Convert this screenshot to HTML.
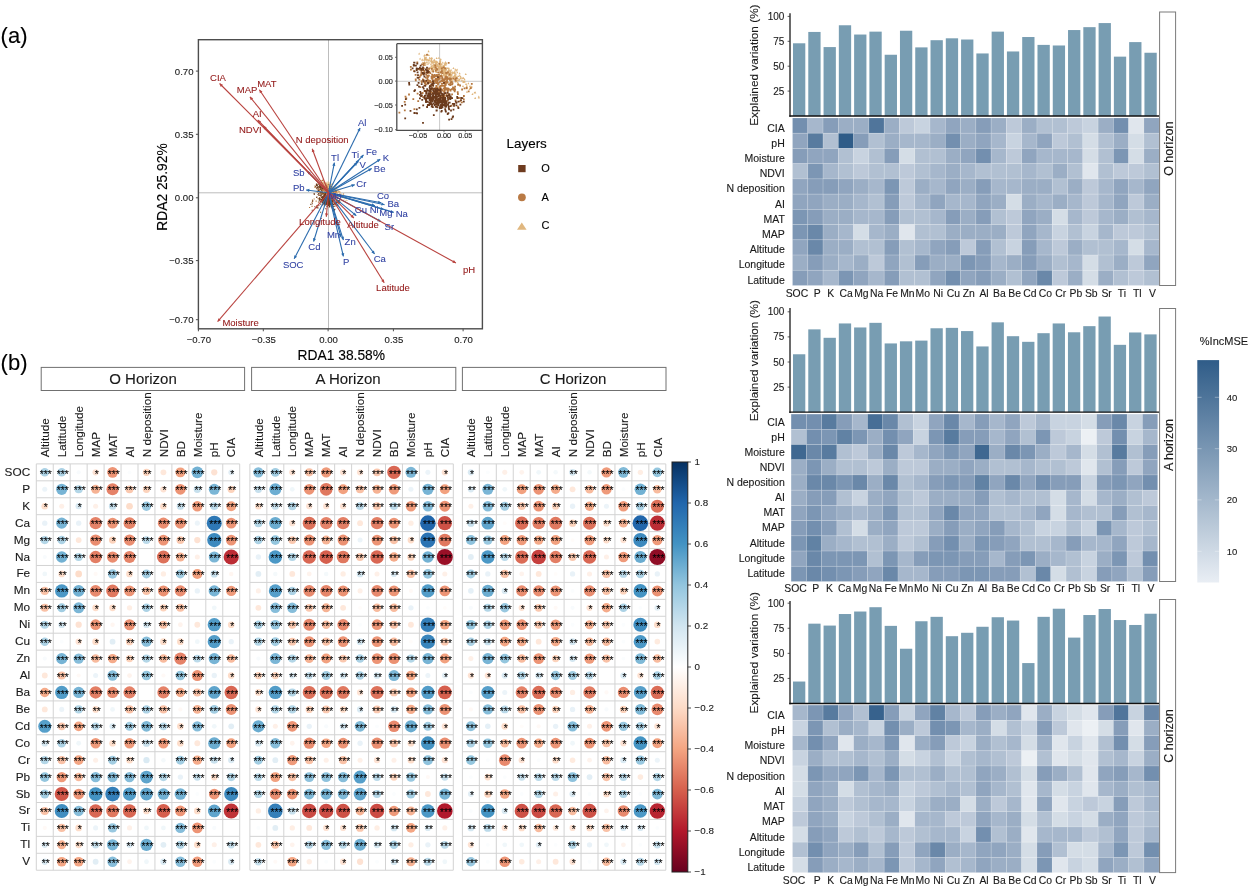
<!DOCTYPE html>
<html><head><meta charset="utf-8"><style>
html,body{margin:0;padding:0;background:#fff;}
body{width:1249px;height:888px;overflow:hidden;font-family:"Liberation Sans", sans-serif;}
svg{display:block;will-change:transform;}
</style></head><body>
<svg width="1249" height="888" viewBox="0 0 1249 888" font-family='"Liberation Sans", sans-serif'>
<rect width="1249" height="888" fill="#fff"/>
<text x="0.6" y="43.4" font-size="22" fill="#000" text-anchor="start" stroke="#000" stroke-width="0.12">(a)</text>
<rect x="198.4" y="39.7" width="284" height="289.1" fill="#fff" stroke="none"/>
<line x1="328.5" y1="39.7" x2="328.5" y2="328.8" stroke="#bdbdbd" stroke-width="1"/>
<line x1="198.4" y1="192.8" x2="482.4" y2="192.8" stroke="#bdbdbd" stroke-width="1"/>
<path fill="#dfb57c" d="M329.9 188.6h1.3l-0.7 -1.3zM331.1 185.0h1.3l-0.7 -1.3zM330.3 189.1h1.3l-0.7 -1.3zM328.0 184.9h1.3l-0.7 -1.3zM340.1 190.0h1.3l-0.7 -1.3zM334.3 191.2h1.3l-0.7 -1.3zM328.4 186.0h1.3l-0.7 -1.3zM331.9 191.3h1.3l-0.7 -1.3zM333.9 191.9h1.3l-0.7 -1.3zM325.3 186.0h1.3l-0.7 -1.3zM321.0 181.1h1.3l-0.7 -1.3zM327.8 184.1h1.3l-0.7 -1.3zM338.4 191.8h1.3l-0.7 -1.3zM337.2 192.6h1.3l-0.7 -1.3zM321.9 180.7h1.3l-0.7 -1.3zM336.5 191.0h1.3l-0.7 -1.3zM320.8 184.3h1.3l-0.7 -1.3zM337.3 189.7h1.3l-0.7 -1.3zM329.8 189.7h1.3l-0.7 -1.3zM327.2 186.3h1.3l-0.7 -1.3zM328.6 187.5h1.3l-0.7 -1.3zM332.7 190.6h1.3l-0.7 -1.3zM330.4 189.8h1.3l-0.7 -1.3zM322.6 179.3h1.3l-0.7 -1.3zM331.5 189.0h1.3l-0.7 -1.3zM328.0 183.8h1.3l-0.7 -1.3zM323.8 185.4h1.3l-0.7 -1.3zM340.5 196.1h1.3l-0.7 -1.3zM333.1 189.0h1.3l-0.7 -1.3zM326.2 184.4h1.3l-0.7 -1.3zM336.1 187.9h1.3l-0.7 -1.3zM331.9 189.0h1.3l-0.7 -1.3zM329.8 189.7h1.3l-0.7 -1.3zM326.5 185.0h1.3l-0.7 -1.3zM328.8 190.5h1.3l-0.7 -1.3zM331.6 191.3h1.3l-0.7 -1.3zM335.8 191.6h1.3l-0.7 -1.3zM319.8 184.6h1.3l-0.7 -1.3zM330.3 189.6h1.3l-0.7 -1.3zM328.9 187.6h1.3l-0.7 -1.3zM330.2 188.9h1.3l-0.7 -1.3zM330.1 191.1h1.3l-0.7 -1.3zM332.4 188.2h1.3l-0.7 -1.3zM326.5 189.1h1.3l-0.7 -1.3zM330.2 187.8h1.3l-0.7 -1.3zM320.6 183.3h1.3l-0.7 -1.3zM334.4 187.2h1.3l-0.7 -1.3zM324.6 184.7h1.3l-0.7 -1.3zM324.3 188.5h1.3l-0.7 -1.3zM335.5 191.2h1.3l-0.7 -1.3zM330.1 185.7h1.3l-0.7 -1.3zM321.6 183.2h1.3l-0.7 -1.3zM325.9 185.1h1.3l-0.7 -1.3zM329.1 188.2h1.3l-0.7 -1.3zM331.2 189.3h1.3l-0.7 -1.3zM336.3 191.9h1.3l-0.7 -1.3zM327.7 190.9h1.3l-0.7 -1.3zM331.9 188.4h1.3l-0.7 -1.3zM325.5 187.4h1.3l-0.7 -1.3zM327.5 182.4h1.3l-0.7 -1.3zM322.8 181.1h1.3l-0.7 -1.3zM329.7 188.8h1.3l-0.7 -1.3zM324.3 182.5h1.3l-0.7 -1.3zM329.2 187.4h1.3l-0.7 -1.3zM326.0 187.7h1.3l-0.7 -1.3zM333.3 192.0h1.3l-0.7 -1.3zM326.1 188.9h1.3l-0.7 -1.3zM332.1 189.6h1.3l-0.7 -1.3zM324.9 187.6h1.3l-0.7 -1.3zM327.7 186.5h1.3l-0.7 -1.3zM343.3 199.4h1.3l-0.7 -1.3zM329.7 186.9h1.3l-0.7 -1.3zM327.9 186.1h1.3l-0.7 -1.3zM328.7 188.3h1.3l-0.7 -1.3zM327.6 190.3h1.3l-0.7 -1.3zM326.5 184.9h1.3l-0.7 -1.3zM324.7 186.6h1.3l-0.7 -1.3zM331.7 189.9h1.3l-0.7 -1.3zM330.9 187.5h1.3l-0.7 -1.3zM337.6 192.0h1.3l-0.7 -1.3zM330.6 187.9h1.3l-0.7 -1.3zM336.7 194.4h1.3l-0.7 -1.3zM320.8 182.6h1.3l-0.7 -1.3zM340.6 196.7h1.3l-0.7 -1.3zM342.9 196.0h1.3l-0.7 -1.3zM333.0 191.6h1.3l-0.7 -1.3zM324.1 188.0h1.3l-0.7 -1.3zM322.8 183.5h1.3l-0.7 -1.3zM319.7 183.3h1.3l-0.7 -1.3zM330.3 195.1h1.3l-0.7 -1.3zM327.6 187.5h1.3l-0.7 -1.3zM325.7 185.9h1.3l-0.7 -1.3zM335.0 189.1h1.3l-0.7 -1.3zM321.5 182.2h1.3l-0.7 -1.3zM324.1 184.6h1.3l-0.7 -1.3zM328.7 190.6h1.3l-0.7 -1.3zM337.0 192.8h1.3l-0.7 -1.3zM333.1 190.3h1.3l-0.7 -1.3zM334.7 192.7h1.3l-0.7 -1.3zM324.3 184.1h1.3l-0.7 -1.3zM330.6 188.1h1.3l-0.7 -1.3zM344.2 198.8h1.3l-0.7 -1.3zM323.8 186.8h1.3l-0.7 -1.3zM332.9 188.6h1.3l-0.7 -1.3zM338.3 192.9h1.3l-0.7 -1.3zM323.8 182.6h1.3l-0.7 -1.3zM322.9 183.2h1.3l-0.7 -1.3zM334.7 189.6h1.3l-0.7 -1.3zM328.8 185.4h1.3l-0.7 -1.3zM330.9 187.9h1.3l-0.7 -1.3zM339.0 193.7h1.3l-0.7 -1.3zM331.0 188.0h1.3l-0.7 -1.3zM323.1 187.9h1.3l-0.7 -1.3zM325.9 184.4h1.3l-0.7 -1.3zM330.4 189.9h1.3l-0.7 -1.3zM329.4 188.3h1.3l-0.7 -1.3zM325.3 185.9h1.3l-0.7 -1.3zM330.4 184.7h1.3l-0.7 -1.3zM329.7 190.4h1.3l-0.7 -1.3zM330.6 185.6h1.3l-0.7 -1.3zM330.1 189.5h1.3l-0.7 -1.3zM333.1 191.2h1.3l-0.7 -1.3zM332.1 189.3h1.3l-0.7 -1.3zM330.6 184.5h1.3l-0.7 -1.3zM318.3 187.5h1.3l-0.7 -1.3zM344.6 198.7h1.3l-0.7 -1.3zM336.7 192.9h1.3l-0.7 -1.3zM336.2 192.8h1.3l-0.7 -1.3zM335.5 191.3h1.3l-0.7 -1.3zM325.1 184.1h1.3l-0.7 -1.3zM327.1 190.6h1.3l-0.7 -1.3zM329.5 187.4h1.3l-0.7 -1.3zM328.5 185.4h1.3l-0.7 -1.3zM325.9 188.5h1.3l-0.7 -1.3zM329.9 186.0h1.3l-0.7 -1.3zM332.3 188.8h1.3l-0.7 -1.3zM335.4 193.1h1.3l-0.7 -1.3zM346.3 201.1h1.3l-0.7 -1.3zM333.5 190.8h1.3l-0.7 -1.3zM335.3 193.6h1.3l-0.7 -1.3zM325.1 186.7h1.3l-0.7 -1.3zM321.1 184.8h1.3l-0.7 -1.3zM324.2 186.8h1.3l-0.7 -1.3zM331.0 190.6h1.3l-0.7 -1.3zM330.4 190.5h1.3l-0.7 -1.3zM328.4 183.1h1.3l-0.7 -1.3zM330.5 189.0h1.3l-0.7 -1.3zM324.2 184.4h1.3l-0.7 -1.3zM322.3 183.3h1.3l-0.7 -1.3zM330.8 187.1h1.3l-0.7 -1.3zM328.2 183.8h1.3l-0.7 -1.3zM330.7 188.5h1.3l-0.7 -1.3zM327.3 191.9h1.3l-0.7 -1.3zM332.6 190.4h1.3l-0.7 -1.3zM326.3 185.3h1.3l-0.7 -1.3zM335.0 189.5h1.3l-0.7 -1.3zM326.6 185.8h1.3l-0.7 -1.3zM330.5 191.2h1.3l-0.7 -1.3zM330.0 186.6h1.3l-0.7 -1.3zM330.2 189.8h1.3l-0.7 -1.3zM336.9 192.7h1.3l-0.7 -1.3zM325.2 183.5h1.3l-0.7 -1.3zM335.3 191.5h1.3l-0.7 -1.3zM335.3 191.9h1.3l-0.7 -1.3zM332.8 191.8h1.3l-0.7 -1.3zM342.1 195.7h1.3l-0.7 -1.3zM333.4 190.3h1.3l-0.7 -1.3zM329.3 184.7h1.3l-0.7 -1.3zM326.9 186.4h1.3l-0.7 -1.3zM340.6 195.5h1.3l-0.7 -1.3zM328.4 185.9h1.3l-0.7 -1.3zM346.2 200.6h1.3l-0.7 -1.3zM328.9 192.1h1.3l-0.7 -1.3zM331.0 189.9h1.3l-0.7 -1.3zM330.9 187.4h1.3l-0.7 -1.3zM333.6 189.8h1.3l-0.7 -1.3zM325.2 184.5h1.3l-0.7 -1.3zM340.7 198.3h1.3l-0.7 -1.3zM330.0 189.1h1.3l-0.7 -1.3zM332.8 189.6h1.3l-0.7 -1.3zM331.0 191.4h1.3l-0.7 -1.3zM323.0 187.7h1.3l-0.7 -1.3zM332.2 187.3h1.3l-0.7 -1.3zM328.4 185.3h1.3l-0.7 -1.3zM332.2 189.9h1.3l-0.7 -1.3zM328.3 187.5h1.3l-0.7 -1.3zM324.9 186.7h1.3l-0.7 -1.3zM334.9 190.4h1.3l-0.7 -1.3zM339.0 191.9h1.3l-0.7 -1.3zM326.2 187.2h1.3l-0.7 -1.3zM337.7 191.2h1.3l-0.7 -1.3zM327.7 187.2h1.3l-0.7 -1.3zM328.2 187.4h1.3l-0.7 -1.3zM325.6 186.4h1.3l-0.7 -1.3zM335.5 193.3h1.3l-0.7 -1.3zM319.6 183.2h1.3l-0.7 -1.3zM328.9 189.0h1.3l-0.7 -1.3zM328.5 189.3h1.3l-0.7 -1.3zM322.7 183.7h1.3l-0.7 -1.3zM334.8 191.2h1.3l-0.7 -1.3zM330.1 187.3h1.3l-0.7 -1.3zM327.9 189.0h1.3l-0.7 -1.3zM321.8 183.3h1.3l-0.7 -1.3zM321.9 184.3h1.3l-0.7 -1.3zM330.5 188.1h1.3l-0.7 -1.3zM326.6 184.4h1.3l-0.7 -1.3zM325.7 183.8h1.3l-0.7 -1.3zM321.4 185.1h1.3l-0.7 -1.3zM339.0 193.4h1.3l-0.7 -1.3zM324.8 188.2h1.3l-0.7 -1.3zM339.6 193.5h1.3l-0.7 -1.3zM335.3 191.0h1.3l-0.7 -1.3zM325.4 186.0h1.3l-0.7 -1.3zM330.8 185.4h1.3l-0.7 -1.3zM324.4 184.1h1.3l-0.7 -1.3zM327.5 188.1h1.3l-0.7 -1.3zM324.0 182.7h1.3l-0.7 -1.3zM323.1 182.4h1.3l-0.7 -1.3zM321.4 182.7h1.3l-0.7 -1.3zM328.6 186.5h1.3l-0.7 -1.3zM336.3 193.9h1.3l-0.7 -1.3zM329.9 190.2h1.3l-0.7 -1.3zM318.2 180.4h1.3l-0.7 -1.3zM322.8 184.7h1.3l-0.7 -1.3zM331.3 192.0h1.3l-0.7 -1.3zM326.6 186.1h1.3l-0.7 -1.3zM336.1 189.2h1.3l-0.7 -1.3zM328.1 188.9h1.3l-0.7 -1.3zM329.0 189.0h1.3l-0.7 -1.3zM331.1 190.9h1.3l-0.7 -1.3zM330.0 190.2h1.3l-0.7 -1.3zM331.8 189.2h1.3l-0.7 -1.3zM326.2 184.3h1.3l-0.7 -1.3zM335.6 193.0h1.3l-0.7 -1.3zM329.3 188.5h1.3l-0.7 -1.3zM327.6 186.8h1.3l-0.7 -1.3zM323.7 184.0h1.3l-0.7 -1.3zM326.1 184.6h1.3l-0.7 -1.3zM337.2 190.7h1.3l-0.7 -1.3zM328.7 187.3h1.3l-0.7 -1.3zM331.6 187.2h1.3l-0.7 -1.3zM344.6 201.2h1.3l-0.7 -1.3zM327.8 186.9h1.3l-0.7 -1.3zM341.3 194.4h1.3l-0.7 -1.3zM326.4 187.3h1.3l-0.7 -1.3zM334.9 190.8h1.3l-0.7 -1.3zM339.2 193.7h1.3l-0.7 -1.3zM324.6 184.3h1.3l-0.7 -1.3zM332.1 192.3h1.3l-0.7 -1.3zM333.2 193.0h1.3l-0.7 -1.3zM323.9 183.4h1.3l-0.7 -1.3zM332.7 191.5h1.3l-0.7 -1.3zM327.9 189.2h1.3l-0.7 -1.3zM330.3 192.5h1.3l-0.7 -1.3zM336.6 195.1h1.3l-0.7 -1.3zM329.8 187.7h1.3l-0.7 -1.3zM331.2 189.6h1.3l-0.7 -1.3zM335.9 191.7h1.3l-0.7 -1.3zM323.9 186.3h1.3l-0.7 -1.3zM327.8 184.9h1.3l-0.7 -1.3zM341.9 197.0h1.3l-0.7 -1.3zM330.6 192.2h1.3l-0.7 -1.3zM335.2 187.8h1.3l-0.7 -1.3zM326.2 186.2h1.3l-0.7 -1.3zM322.3 185.2h1.3l-0.7 -1.3zM330.8 189.3h1.3l-0.7 -1.3zM331.8 193.8h1.3l-0.7 -1.3zM339.0 191.8h1.3l-0.7 -1.3zM332.0 190.6h1.3l-0.7 -1.3zM334.8 192.5h1.3l-0.7 -1.3zM328.7 190.1h1.3l-0.7 -1.3zM331.7 189.2h1.3l-0.7 -1.3zM333.2 188.0h1.3l-0.7 -1.3zM320.9 182.0h1.3l-0.7 -1.3zM321.0 183.1h1.3l-0.7 -1.3zM324.5 184.5h1.3l-0.7 -1.3zM337.2 195.1h1.3l-0.7 -1.3zM332.1 188.1h1.3l-0.7 -1.3zM329.6 186.4h1.3l-0.7 -1.3zM338.8 195.7h1.3l-0.7 -1.3zM343.0 195.9h1.3l-0.7 -1.3zM332.9 190.4h1.3l-0.7 -1.3zM340.3 194.7h1.3l-0.7 -1.3zM333.7 192.7h1.3l-0.7 -1.3zM324.0 183.3h1.3l-0.7 -1.3zM333.8 189.6h1.3l-0.7 -1.3zM330.6 188.8h1.3l-0.7 -1.3zM327.8 185.6h1.3l-0.7 -1.3zM330.6 189.0h1.3l-0.7 -1.3zM335.6 188.3h1.3l-0.7 -1.3zM328.6 188.2h1.3l-0.7 -1.3zM326.4 184.1h1.3l-0.7 -1.3zM342.7 196.3h1.3l-0.7 -1.3zM333.1 188.9h1.3l-0.7 -1.3zM323.9 184.0h1.3l-0.7 -1.3zM335.5 190.2h1.3l-0.7 -1.3zM329.1 187.2h1.3l-0.7 -1.3zM329.9 188.0h1.3l-0.7 -1.3zM324.7 185.9h1.3l-0.7 -1.3zM329.9 190.0h1.3l-0.7 -1.3zM330.5 187.5h1.3l-0.7 -1.3zM326.8 185.4h1.3l-0.7 -1.3zM331.1 191.1h1.3l-0.7 -1.3zM328.0 186.6h1.3l-0.7 -1.3zM320.6 181.3h1.3l-0.7 -1.3zM328.3 187.0h1.3l-0.7 -1.3zM325.3 183.2h1.3l-0.7 -1.3zM330.9 187.1h1.3l-0.7 -1.3zM339.6 192.5h1.3l-0.7 -1.3zM334.7 189.3h1.3l-0.7 -1.3zM329.0 188.6h1.3l-0.7 -1.3zM330.5 185.4h1.3l-0.7 -1.3zM325.6 187.7h1.3l-0.7 -1.3zM342.4 196.1h1.3l-0.7 -1.3zM326.8 188.1h1.3l-0.7 -1.3zM334.1 189.0h1.3l-0.7 -1.3zM323.9 183.9h1.3l-0.7 -1.3zM326.4 182.5h1.3l-0.7 -1.3zM332.8 191.0h1.3l-0.7 -1.3zM335.1 190.7h1.3l-0.7 -1.3zM329.3 186.9h1.3l-0.7 -1.3zM326.3 184.7h1.3l-0.7 -1.3zM332.8 191.6h1.3l-0.7 -1.3zM321.1 185.8h1.3l-0.7 -1.3zM334.8 189.1h1.3l-0.7 -1.3zM324.9 185.5h1.3l-0.7 -1.3zM329.4 186.0h1.3l-0.7 -1.3zM327.0 186.2h1.3l-0.7 -1.3zM335.0 191.9h1.3l-0.7 -1.3zM328.2 184.3h1.3l-0.7 -1.3zM330.0 189.5h1.3l-0.7 -1.3zM326.8 184.4h1.3l-0.7 -1.3zM328.5 188.6h1.3l-0.7 -1.3zM323.6 187.2h1.3l-0.7 -1.3zM318.7 182.7h1.3l-0.7 -1.3zM327.2 187.1h1.3l-0.7 -1.3z"/>
<path fill="#b5773f" d="M330.7 192.5h1.1v1.1h-1.1zM329.9 193.1h1.1v1.1h-1.1zM334.2 195.0h1.1v1.1h-1.1zM319.2 188.9h1.1v1.1h-1.1zM324.6 191.1h1.1v1.1h-1.1zM316.8 191.7h1.1v1.1h-1.1zM318.9 189.6h1.1v1.1h-1.1zM327.5 201.3h1.1v1.1h-1.1zM330.6 186.1h1.1v1.1h-1.1zM335.5 191.0h1.1v1.1h-1.1zM324.8 193.6h1.1v1.1h-1.1zM333.1 192.6h1.1v1.1h-1.1zM326.8 195.0h1.1v1.1h-1.1zM328.0 195.6h1.1v1.1h-1.1zM319.5 192.5h1.1v1.1h-1.1zM330.6 196.0h1.1v1.1h-1.1zM335.4 191.5h1.1v1.1h-1.1zM330.8 193.9h1.1v1.1h-1.1zM326.9 195.4h1.1v1.1h-1.1zM326.5 193.0h1.1v1.1h-1.1zM335.0 196.0h1.1v1.1h-1.1zM327.3 188.1h1.1v1.1h-1.1zM328.9 199.1h1.1v1.1h-1.1zM327.2 193.1h1.1v1.1h-1.1zM333.6 192.4h1.1v1.1h-1.1zM313.6 198.4h1.1v1.1h-1.1zM327.9 200.2h1.1v1.1h-1.1zM325.7 189.2h1.1v1.1h-1.1zM324.9 194.2h1.1v1.1h-1.1zM330.1 195.6h1.1v1.1h-1.1zM325.7 192.3h1.1v1.1h-1.1zM327.3 197.7h1.1v1.1h-1.1zM311.5 205.8h1.1v1.1h-1.1zM329.6 199.4h1.1v1.1h-1.1zM319.7 184.3h1.1v1.1h-1.1zM333.0 196.2h1.1v1.1h-1.1zM337.0 200.1h1.1v1.1h-1.1zM327.0 196.4h1.1v1.1h-1.1zM326.8 192.4h1.1v1.1h-1.1zM343.0 193.5h1.1v1.1h-1.1zM330.8 195.3h1.1v1.1h-1.1zM323.1 192.0h1.1v1.1h-1.1zM328.0 191.1h1.1v1.1h-1.1zM333.0 193.8h1.1v1.1h-1.1zM333.5 200.1h1.1v1.1h-1.1zM327.3 196.3h1.1v1.1h-1.1zM324.8 196.0h1.1v1.1h-1.1zM331.5 190.4h1.1v1.1h-1.1zM329.8 191.2h1.1v1.1h-1.1zM339.6 195.6h1.1v1.1h-1.1zM323.4 198.0h1.1v1.1h-1.1zM326.2 198.1h1.1v1.1h-1.1zM329.2 191.3h1.1v1.1h-1.1zM319.7 188.9h1.1v1.1h-1.1zM322.0 179.8h1.1v1.1h-1.1zM331.3 195.8h1.1v1.1h-1.1zM336.5 198.2h1.1v1.1h-1.1zM328.0 190.3h1.1v1.1h-1.1zM330.4 194.8h1.1v1.1h-1.1zM333.6 195.9h1.1v1.1h-1.1zM329.0 194.3h1.1v1.1h-1.1zM326.7 195.3h1.1v1.1h-1.1zM322.9 189.6h1.1v1.1h-1.1zM335.4 191.9h1.1v1.1h-1.1zM329.9 195.5h1.1v1.1h-1.1zM323.1 187.8h1.1v1.1h-1.1zM321.9 192.4h1.1v1.1h-1.1zM320.1 191.4h1.1v1.1h-1.1zM330.3 195.8h1.1v1.1h-1.1zM322.4 188.5h1.1v1.1h-1.1zM316.7 189.2h1.1v1.1h-1.1zM319.4 187.1h1.1v1.1h-1.1zM323.8 194.4h1.1v1.1h-1.1zM326.4 195.1h1.1v1.1h-1.1zM318.5 190.3h1.1v1.1h-1.1zM329.3 192.1h1.1v1.1h-1.1zM342.6 195.4h1.1v1.1h-1.1zM331.8 195.6h1.1v1.1h-1.1zM341.6 197.0h1.1v1.1h-1.1zM328.4 194.9h1.1v1.1h-1.1zM324.4 194.2h1.1v1.1h-1.1zM326.4 194.4h1.1v1.1h-1.1zM321.8 193.6h1.1v1.1h-1.1zM315.9 187.4h1.1v1.1h-1.1zM322.9 192.0h1.1v1.1h-1.1zM324.7 189.9h1.1v1.1h-1.1zM324.7 193.9h1.1v1.1h-1.1zM335.4 201.2h1.1v1.1h-1.1zM335.2 196.2h1.1v1.1h-1.1zM327.9 194.8h1.1v1.1h-1.1zM329.2 193.3h1.1v1.1h-1.1zM335.9 190.7h1.1v1.1h-1.1zM335.2 194.8h1.1v1.1h-1.1zM320.2 199.6h1.1v1.1h-1.1zM325.7 192.1h1.1v1.1h-1.1zM325.6 191.9h1.1v1.1h-1.1zM328.4 194.4h1.1v1.1h-1.1zM328.3 194.7h1.1v1.1h-1.1zM327.1 195.7h1.1v1.1h-1.1zM333.1 196.7h1.1v1.1h-1.1zM329.2 191.2h1.1v1.1h-1.1zM322.1 189.7h1.1v1.1h-1.1zM323.0 186.2h1.1v1.1h-1.1zM328.0 195.4h1.1v1.1h-1.1zM322.4 186.5h1.1v1.1h-1.1zM322.7 192.9h1.1v1.1h-1.1zM318.4 191.5h1.1v1.1h-1.1zM319.3 189.2h1.1v1.1h-1.1zM320.8 196.8h1.1v1.1h-1.1zM328.2 200.6h1.1v1.1h-1.1zM332.2 195.7h1.1v1.1h-1.1zM324.7 190.7h1.1v1.1h-1.1zM327.2 193.8h1.1v1.1h-1.1zM320.5 184.7h1.1v1.1h-1.1zM333.0 193.1h1.1v1.1h-1.1zM323.9 197.2h1.1v1.1h-1.1zM330.8 190.9h1.1v1.1h-1.1zM328.5 189.8h1.1v1.1h-1.1zM324.4 190.1h1.1v1.1h-1.1zM331.8 188.1h1.1v1.1h-1.1zM326.3 191.6h1.1v1.1h-1.1zM331.8 200.3h1.1v1.1h-1.1zM328.2 195.6h1.1v1.1h-1.1zM323.3 192.1h1.1v1.1h-1.1zM321.4 193.7h1.1v1.1h-1.1zM324.4 195.4h1.1v1.1h-1.1zM329.4 198.7h1.1v1.1h-1.1zM338.5 196.1h1.1v1.1h-1.1zM327.9 195.3h1.1v1.1h-1.1zM324.9 195.7h1.1v1.1h-1.1zM326.2 196.2h1.1v1.1h-1.1zM330.1 199.5h1.1v1.1h-1.1zM325.8 184.8h1.1v1.1h-1.1zM330.3 196.6h1.1v1.1h-1.1zM333.9 193.7h1.1v1.1h-1.1zM331.0 188.2h1.1v1.1h-1.1zM330.9 193.1h1.1v1.1h-1.1zM334.0 193.1h1.1v1.1h-1.1zM336.6 204.1h1.1v1.1h-1.1zM331.0 195.9h1.1v1.1h-1.1zM315.6 200.6h1.1v1.1h-1.1zM318.9 195.0h1.1v1.1h-1.1zM327.2 191.2h1.1v1.1h-1.1zM321.2 193.0h1.1v1.1h-1.1zM330.3 199.3h1.1v1.1h-1.1zM326.3 189.9h1.1v1.1h-1.1zM327.3 190.5h1.1v1.1h-1.1zM333.0 196.5h1.1v1.1h-1.1zM322.3 187.9h1.1v1.1h-1.1zM340.7 195.4h1.1v1.1h-1.1zM321.0 188.0h1.1v1.1h-1.1zM322.1 187.2h1.1v1.1h-1.1zM333.0 194.0h1.1v1.1h-1.1zM322.5 190.1h1.1v1.1h-1.1zM331.4 192.4h1.1v1.1h-1.1zM326.6 197.0h1.1v1.1h-1.1zM326.1 195.3h1.1v1.1h-1.1zM320.5 191.8h1.1v1.1h-1.1zM330.4 191.2h1.1v1.1h-1.1zM329.3 188.4h1.1v1.1h-1.1zM328.3 192.3h1.1v1.1h-1.1zM334.5 196.3h1.1v1.1h-1.1zM326.4 191.8h1.1v1.1h-1.1zM330.3 192.9h1.1v1.1h-1.1zM326.5 186.3h1.1v1.1h-1.1zM337.5 201.6h1.1v1.1h-1.1zM324.1 190.0h1.1v1.1h-1.1zM328.7 189.8h1.1v1.1h-1.1zM311.9 199.5h1.1v1.1h-1.1zM334.5 190.9h1.1v1.1h-1.1zM322.4 188.0h1.1v1.1h-1.1zM327.7 197.3h1.1v1.1h-1.1zM326.7 189.2h1.1v1.1h-1.1zM319.7 184.2h1.1v1.1h-1.1zM314.4 185.5h1.1v1.1h-1.1zM331.2 188.5h1.1v1.1h-1.1zM318.5 186.7h1.1v1.1h-1.1zM328.0 190.8h1.1v1.1h-1.1zM328.5 188.0h1.1v1.1h-1.1zM336.4 197.3h1.1v1.1h-1.1zM329.8 185.7h1.1v1.1h-1.1zM324.2 190.7h1.1v1.1h-1.1zM323.4 194.5h1.1v1.1h-1.1zM329.3 196.6h1.1v1.1h-1.1zM326.8 186.6h1.1v1.1h-1.1zM328.5 189.7h1.1v1.1h-1.1zM325.6 197.5h1.1v1.1h-1.1zM335.0 197.0h1.1v1.1h-1.1zM332.6 189.0h1.1v1.1h-1.1zM319.5 192.1h1.1v1.1h-1.1zM332.3 193.7h1.1v1.1h-1.1zM332.5 190.8h1.1v1.1h-1.1zM331.2 198.5h1.1v1.1h-1.1zM326.0 185.7h1.1v1.1h-1.1zM323.6 188.4h1.1v1.1h-1.1zM320.0 186.9h1.1v1.1h-1.1zM328.6 199.1h1.1v1.1h-1.1zM324.0 194.3h1.1v1.1h-1.1zM329.1 190.6h1.1v1.1h-1.1zM329.9 200.1h1.1v1.1h-1.1zM329.7 194.3h1.1v1.1h-1.1zM330.4 194.2h1.1v1.1h-1.1zM328.3 195.3h1.1v1.1h-1.1zM326.3 198.2h1.1v1.1h-1.1zM324.7 189.6h1.1v1.1h-1.1zM314.4 186.8h1.1v1.1h-1.1zM324.4 189.1h1.1v1.1h-1.1zM330.1 192.0h1.1v1.1h-1.1zM316.1 205.3h1.1v1.1h-1.1zM323.4 192.3h1.1v1.1h-1.1zM329.0 193.3h1.1v1.1h-1.1zM336.6 193.8h1.1v1.1h-1.1zM325.8 192.5h1.1v1.1h-1.1zM333.3 191.1h1.1v1.1h-1.1zM321.4 192.2h1.1v1.1h-1.1zM320.6 187.3h1.1v1.1h-1.1zM329.6 194.4h1.1v1.1h-1.1zM326.7 191.4h1.1v1.1h-1.1zM332.2 183.5h1.1v1.1h-1.1zM332.8 191.1h1.1v1.1h-1.1zM326.6 189.6h1.1v1.1h-1.1zM322.6 188.2h1.1v1.1h-1.1zM320.5 186.2h1.1v1.1h-1.1zM332.3 198.3h1.1v1.1h-1.1zM332.8 193.8h1.1v1.1h-1.1zM330.0 197.1h1.1v1.1h-1.1zM331.7 201.4h1.1v1.1h-1.1zM325.3 189.3h1.1v1.1h-1.1zM339.3 199.1h1.1v1.1h-1.1zM324.9 187.6h1.1v1.1h-1.1zM334.6 195.6h1.1v1.1h-1.1zM330.9 190.1h1.1v1.1h-1.1zM324.8 191.9h1.1v1.1h-1.1zM324.6 192.7h1.1v1.1h-1.1zM329.0 187.5h1.1v1.1h-1.1zM333.8 198.4h1.1v1.1h-1.1zM324.5 197.6h1.1v1.1h-1.1zM326.3 193.0h1.1v1.1h-1.1zM322.4 191.6h1.1v1.1h-1.1zM326.5 191.1h1.1v1.1h-1.1zM309.0 207.0h1.1v1.1h-1.1zM337.6 194.2h1.1v1.1h-1.1zM327.9 195.7h1.1v1.1h-1.1zM325.8 196.5h1.1v1.1h-1.1zM327.5 196.7h1.1v1.1h-1.1zM324.3 186.4h1.1v1.1h-1.1zM324.3 190.9h1.1v1.1h-1.1zM316.7 191.3h1.1v1.1h-1.1zM330.3 199.0h1.1v1.1h-1.1zM339.3 200.7h1.1v1.1h-1.1zM320.5 183.9h1.1v1.1h-1.1zM333.0 191.5h1.1v1.1h-1.1zM321.0 193.0h1.1v1.1h-1.1zM312.3 200.3h1.1v1.1h-1.1zM325.7 189.6h1.1v1.1h-1.1zM323.4 192.7h1.1v1.1h-1.1zM322.2 188.5h1.1v1.1h-1.1zM329.8 191.4h1.1v1.1h-1.1zM328.9 186.2h1.1v1.1h-1.1zM323.6 192.1h1.1v1.1h-1.1zM330.7 190.6h1.1v1.1h-1.1zM327.8 184.1h1.1v1.1h-1.1zM323.6 192.8h1.1v1.1h-1.1zM327.2 191.5h1.1v1.1h-1.1zM311.5 201.8h1.1v1.1h-1.1zM321.4 190.5h1.1v1.1h-1.1zM331.0 190.9h1.1v1.1h-1.1zM328.1 197.4h1.1v1.1h-1.1zM327.8 192.7h1.1v1.1h-1.1zM331.5 192.9h1.1v1.1h-1.1zM328.2 196.5h1.1v1.1h-1.1zM319.9 197.7h1.1v1.1h-1.1zM319.4 187.9h1.1v1.1h-1.1zM331.4 191.9h1.1v1.1h-1.1zM330.4 197.7h1.1v1.1h-1.1zM328.9 192.0h1.1v1.1h-1.1zM333.6 203.7h1.1v1.1h-1.1zM317.9 201.6h1.1v1.1h-1.1zM322.6 193.1h1.1v1.1h-1.1zM329.0 196.1h1.1v1.1h-1.1zM325.5 189.7h1.1v1.1h-1.1zM324.9 192.5h1.1v1.1h-1.1zM328.0 190.1h1.1v1.1h-1.1zM330.3 195.9h1.1v1.1h-1.1zM334.4 195.4h1.1v1.1h-1.1zM333.2 191.0h1.1v1.1h-1.1zM326.1 191.2h1.1v1.1h-1.1zM325.4 190.2h1.1v1.1h-1.1zM321.6 189.1h1.1v1.1h-1.1zM332.8 191.5h1.1v1.1h-1.1zM338.4 202.1h1.1v1.1h-1.1zM331.6 196.6h1.1v1.1h-1.1zM332.0 196.3h1.1v1.1h-1.1zM324.1 194.0h1.1v1.1h-1.1zM330.4 196.7h1.1v1.1h-1.1zM334.9 195.7h1.1v1.1h-1.1zM317.5 183.4h1.1v1.1h-1.1zM317.6 198.1h1.1v1.1h-1.1zM320.9 192.5h1.1v1.1h-1.1zM326.2 187.2h1.1v1.1h-1.1zM327.6 189.1h1.1v1.1h-1.1zM326.8 189.7h1.1v1.1h-1.1zM330.2 191.9h1.1v1.1h-1.1zM322.2 190.9h1.1v1.1h-1.1zM324.1 195.8h1.1v1.1h-1.1zM331.7 191.1h1.1v1.1h-1.1zM321.6 196.9h1.1v1.1h-1.1zM331.8 196.9h1.1v1.1h-1.1zM329.2 190.3h1.1v1.1h-1.1zM332.8 199.8h1.1v1.1h-1.1z"/>
<path fill="#6b3a1c" d="M326.6 205.9h1.1v1.1h-1.1zM313.7 193.8h1.1v1.1h-1.1zM318.7 198.6h1.1v1.1h-1.1zM327.0 198.0h1.1v1.1h-1.1zM335.8 202.4h1.1v1.1h-1.1zM332.9 199.8h1.1v1.1h-1.1zM323.9 202.6h1.1v1.1h-1.1zM323.9 199.7h1.1v1.1h-1.1zM327.0 198.0h1.1v1.1h-1.1zM336.2 199.6h1.1v1.1h-1.1zM321.2 199.0h1.1v1.1h-1.1zM322.3 198.7h1.1v1.1h-1.1zM328.3 201.5h1.1v1.1h-1.1zM327.3 197.8h1.1v1.1h-1.1zM330.3 202.7h1.1v1.1h-1.1zM328.7 203.4h1.1v1.1h-1.1zM317.1 186.2h1.1v1.1h-1.1zM330.3 200.7h1.1v1.1h-1.1zM328.1 201.3h1.1v1.1h-1.1zM316.1 183.4h1.1v1.1h-1.1zM330.0 203.2h1.1v1.1h-1.1zM328.5 204.4h1.1v1.1h-1.1zM320.2 186.8h1.1v1.1h-1.1zM317.6 188.0h1.1v1.1h-1.1zM326.5 204.1h1.1v1.1h-1.1zM326.2 199.3h1.1v1.1h-1.1zM317.4 207.3h1.1v1.1h-1.1zM318.6 185.8h1.1v1.1h-1.1zM330.6 201.6h1.1v1.1h-1.1zM317.8 189.3h1.1v1.1h-1.1zM329.0 206.1h1.1v1.1h-1.1zM330.6 204.2h1.1v1.1h-1.1zM318.4 204.7h1.1v1.1h-1.1zM328.0 204.7h1.1v1.1h-1.1zM332.5 198.9h1.1v1.1h-1.1zM323.8 196.5h1.1v1.1h-1.1zM325.7 201.9h1.1v1.1h-1.1zM319.3 186.9h1.1v1.1h-1.1zM323.1 199.1h1.1v1.1h-1.1zM327.8 200.4h1.1v1.1h-1.1zM320.1 211.7h1.1v1.1h-1.1zM325.4 195.7h1.1v1.1h-1.1zM324.8 199.0h1.1v1.1h-1.1zM312.0 200.6h1.1v1.1h-1.1zM331.6 199.4h1.1v1.1h-1.1zM327.2 203.5h1.1v1.1h-1.1zM333.5 210.0h1.1v1.1h-1.1zM325.2 208.2h1.1v1.1h-1.1zM332.1 198.8h1.1v1.1h-1.1zM311.8 203.2h1.1v1.1h-1.1zM328.8 201.2h1.1v1.1h-1.1zM330.4 201.9h1.1v1.1h-1.1zM329.9 200.6h1.1v1.1h-1.1zM326.6 198.3h1.1v1.1h-1.1zM321.9 200.1h1.1v1.1h-1.1zM331.7 207.6h1.1v1.1h-1.1zM321.0 196.7h1.1v1.1h-1.1zM322.9 198.2h1.1v1.1h-1.1zM323.6 196.8h1.1v1.1h-1.1zM324.2 204.1h1.1v1.1h-1.1zM323.9 198.4h1.1v1.1h-1.1zM325.9 199.5h1.1v1.1h-1.1zM327.4 200.4h1.1v1.1h-1.1zM321.6 197.1h1.1v1.1h-1.1zM328.0 200.4h1.1v1.1h-1.1zM325.1 202.7h1.1v1.1h-1.1zM323.3 196.7h1.1v1.1h-1.1zM316.1 207.1h1.1v1.1h-1.1zM321.4 186.7h1.1v1.1h-1.1zM333.8 200.2h1.1v1.1h-1.1zM328.3 199.4h1.1v1.1h-1.1zM324.3 201.3h1.1v1.1h-1.1zM319.6 198.9h1.1v1.1h-1.1zM313.6 193.0h1.1v1.1h-1.1zM323.2 200.5h1.1v1.1h-1.1zM320.8 190.1h1.1v1.1h-1.1zM332.2 204.1h1.1v1.1h-1.1zM325.3 196.9h1.1v1.1h-1.1zM327.0 196.5h1.1v1.1h-1.1zM329.2 203.8h1.1v1.1h-1.1zM327.2 196.3h1.1v1.1h-1.1zM323.9 202.9h1.1v1.1h-1.1zM331.9 199.9h1.1v1.1h-1.1zM328.7 202.2h1.1v1.1h-1.1zM325.0 200.7h1.1v1.1h-1.1zM329.3 204.5h1.1v1.1h-1.1zM332.4 210.2h1.1v1.1h-1.1zM319.5 193.6h1.1v1.1h-1.1zM328.7 204.8h1.1v1.1h-1.1zM322.6 199.2h1.1v1.1h-1.1zM328.0 196.4h1.1v1.1h-1.1zM323.2 201.1h1.1v1.1h-1.1zM328.4 197.6h1.1v1.1h-1.1zM323.1 199.7h1.1v1.1h-1.1zM325.2 200.2h1.1v1.1h-1.1zM334.0 209.1h1.1v1.1h-1.1zM321.9 201.7h1.1v1.1h-1.1zM323.1 203.5h1.1v1.1h-1.1zM321.6 200.2h1.1v1.1h-1.1zM334.8 202.9h1.1v1.1h-1.1zM326.3 200.3h1.1v1.1h-1.1zM332.1 204.1h1.1v1.1h-1.1zM323.5 199.3h1.1v1.1h-1.1zM320.9 199.1h1.1v1.1h-1.1zM326.9 204.5h1.1v1.1h-1.1zM334.3 208.7h1.1v1.1h-1.1zM328.1 202.3h1.1v1.1h-1.1zM322.4 196.6h1.1v1.1h-1.1zM330.6 205.3h1.1v1.1h-1.1zM326.3 200.0h1.1v1.1h-1.1zM324.9 196.6h1.1v1.1h-1.1zM317.2 187.0h1.1v1.1h-1.1zM320.4 195.6h1.1v1.1h-1.1zM338.1 200.1h1.1v1.1h-1.1zM330.1 198.0h1.1v1.1h-1.1zM320.1 188.3h1.1v1.1h-1.1zM322.3 199.2h1.1v1.1h-1.1zM328.5 197.0h1.1v1.1h-1.1zM329.7 199.5h1.1v1.1h-1.1zM327.8 197.9h1.1v1.1h-1.1zM330.2 202.9h1.1v1.1h-1.1zM322.0 188.1h1.1v1.1h-1.1zM318.9 197.2h1.1v1.1h-1.1zM326.0 196.9h1.1v1.1h-1.1zM327.1 201.6h1.1v1.1h-1.1zM317.0 207.2h1.1v1.1h-1.1zM326.8 196.9h1.1v1.1h-1.1zM315.2 186.1h1.1v1.1h-1.1zM325.5 199.8h1.1v1.1h-1.1zM328.4 198.9h1.1v1.1h-1.1zM324.9 194.3h1.1v1.1h-1.1zM338.0 201.1h1.1v1.1h-1.1zM323.9 201.3h1.1v1.1h-1.1zM327.0 198.4h1.1v1.1h-1.1zM333.1 203.9h1.1v1.1h-1.1zM331.4 199.1h1.1v1.1h-1.1zM325.3 193.2h1.1v1.1h-1.1zM326.4 201.2h1.1v1.1h-1.1zM320.8 194.3h1.1v1.1h-1.1zM316.1 196.8h1.1v1.1h-1.1zM326.4 197.8h1.1v1.1h-1.1zM328.3 201.0h1.1v1.1h-1.1zM328.9 201.4h1.1v1.1h-1.1zM322.9 196.7h1.1v1.1h-1.1zM330.7 206.0h1.1v1.1h-1.1zM325.6 203.3h1.1v1.1h-1.1zM327.6 201.6h1.1v1.1h-1.1zM325.0 198.5h1.1v1.1h-1.1zM324.0 200.3h1.1v1.1h-1.1zM335.5 201.8h1.1v1.1h-1.1zM320.9 200.4h1.1v1.1h-1.1zM328.7 206.5h1.1v1.1h-1.1zM324.7 199.7h1.1v1.1h-1.1zM330.3 202.8h1.1v1.1h-1.1zM320.1 195.0h1.1v1.1h-1.1zM327.5 200.4h1.1v1.1h-1.1zM326.7 196.5h1.1v1.1h-1.1zM328.5 200.0h1.1v1.1h-1.1zM316.8 184.9h1.1v1.1h-1.1zM323.8 201.7h1.1v1.1h-1.1zM324.0 200.1h1.1v1.1h-1.1zM318.1 192.9h1.1v1.1h-1.1zM329.2 201.5h1.1v1.1h-1.1zM325.1 198.4h1.1v1.1h-1.1zM333.1 199.3h1.1v1.1h-1.1zM329.1 201.3h1.1v1.1h-1.1zM316.4 196.4h1.1v1.1h-1.1zM324.0 200.6h1.1v1.1h-1.1zM323.5 199.6h1.1v1.1h-1.1zM336.7 204.8h1.1v1.1h-1.1zM328.1 204.8h1.1v1.1h-1.1zM329.1 202.7h1.1v1.1h-1.1zM327.2 203.0h1.1v1.1h-1.1zM323.7 195.8h1.1v1.1h-1.1zM329.3 198.8h1.1v1.1h-1.1zM314.3 206.2h1.1v1.1h-1.1zM328.2 204.1h1.1v1.1h-1.1zM321.8 187.1h1.1v1.1h-1.1zM319.9 188.4h1.1v1.1h-1.1zM331.0 201.5h1.1v1.1h-1.1zM311.7 209.7h1.1v1.1h-1.1zM330.0 192.9h1.1v1.1h-1.1zM322.3 199.3h1.1v1.1h-1.1zM328.4 196.3h1.1v1.1h-1.1zM320.1 185.7h1.1v1.1h-1.1zM330.6 200.5h1.1v1.1h-1.1zM324.8 197.8h1.1v1.1h-1.1zM332.0 202.7h1.1v1.1h-1.1zM329.8 198.5h1.1v1.1h-1.1zM330.4 203.3h1.1v1.1h-1.1zM326.6 196.9h1.1v1.1h-1.1zM324.9 198.8h1.1v1.1h-1.1zM315.8 184.9h1.1v1.1h-1.1zM327.2 190.3h1.1v1.1h-1.1zM327.7 201.8h1.1v1.1h-1.1zM332.2 205.0h1.1v1.1h-1.1zM320.2 203.6h1.1v1.1h-1.1zM326.6 201.3h1.1v1.1h-1.1zM329.4 203.3h1.1v1.1h-1.1zM330.8 204.0h1.1v1.1h-1.1zM327.7 198.3h1.1v1.1h-1.1zM327.0 202.3h1.1v1.1h-1.1zM329.1 203.9h1.1v1.1h-1.1zM323.4 200.7h1.1v1.1h-1.1zM328.5 197.4h1.1v1.1h-1.1zM319.2 199.2h1.1v1.1h-1.1zM321.5 201.3h1.1v1.1h-1.1zM323.6 200.0h1.1v1.1h-1.1zM328.4 197.3h1.1v1.1h-1.1zM332.7 202.3h1.1v1.1h-1.1zM323.6 200.0h1.1v1.1h-1.1zM323.2 195.1h1.1v1.1h-1.1zM327.5 201.1h1.1v1.1h-1.1zM316.2 187.6h1.1v1.1h-1.1zM328.4 195.9h1.1v1.1h-1.1zM321.6 200.8h1.1v1.1h-1.1zM323.1 199.6h1.1v1.1h-1.1zM320.8 188.5h1.1v1.1h-1.1zM338.6 200.1h1.1v1.1h-1.1zM325.4 197.5h1.1v1.1h-1.1zM317.5 183.9h1.1v1.1h-1.1zM322.7 187.8h1.1v1.1h-1.1zM325.6 201.2h1.1v1.1h-1.1zM323.7 194.7h1.1v1.1h-1.1zM322.8 199.3h1.1v1.1h-1.1zM323.3 199.5h1.1v1.1h-1.1zM326.5 197.9h1.1v1.1h-1.1zM326.9 199.5h1.1v1.1h-1.1zM333.0 200.5h1.1v1.1h-1.1zM324.8 192.3h1.1v1.1h-1.1zM325.9 197.9h1.1v1.1h-1.1zM324.8 204.3h1.1v1.1h-1.1zM328.3 204.6h1.1v1.1h-1.1zM329.5 200.2h1.1v1.1h-1.1zM332.8 200.3h1.1v1.1h-1.1zM329.3 200.9h1.1v1.1h-1.1zM322.5 187.4h1.1v1.1h-1.1zM336.3 200.1h1.1v1.1h-1.1zM330.9 202.6h1.1v1.1h-1.1zM324.7 201.5h1.1v1.1h-1.1zM325.9 195.9h1.1v1.1h-1.1zM329.2 201.4h1.1v1.1h-1.1zM332.1 207.2h1.1v1.1h-1.1zM322.4 201.8h1.1v1.1h-1.1zM326.1 200.3h1.1v1.1h-1.1zM323.2 202.7h1.1v1.1h-1.1zM329.6 200.2h1.1v1.1h-1.1zM333.3 205.9h1.1v1.1h-1.1zM318.7 200.2h1.1v1.1h-1.1zM331.7 197.7h1.1v1.1h-1.1zM326.7 200.9h1.1v1.1h-1.1zM332.3 202.3h1.1v1.1h-1.1zM332.0 200.9h1.1v1.1h-1.1zM323.6 201.5h1.1v1.1h-1.1zM326.3 197.9h1.1v1.1h-1.1zM326.6 202.8h1.1v1.1h-1.1zM336.7 201.8h1.1v1.1h-1.1zM318.0 190.6h1.1v1.1h-1.1zM323.9 198.5h1.1v1.1h-1.1zM331.9 203.3h1.1v1.1h-1.1zM334.1 202.8h1.1v1.1h-1.1zM322.1 204.3h1.1v1.1h-1.1zM325.5 197.5h1.1v1.1h-1.1zM330.1 201.2h1.1v1.1h-1.1zM326.1 199.9h1.1v1.1h-1.1zM321.5 202.0h1.1v1.1h-1.1zM315.9 183.5h1.1v1.1h-1.1zM330.1 203.4h1.1v1.1h-1.1zM317.2 205.4h1.1v1.1h-1.1zM328.1 202.0h1.1v1.1h-1.1zM328.1 201.3h1.1v1.1h-1.1zM322.5 203.3h1.1v1.1h-1.1zM323.7 200.1h1.1v1.1h-1.1zM328.9 201.9h1.1v1.1h-1.1zM326.5 205.9h1.1v1.1h-1.1zM326.3 196.8h1.1v1.1h-1.1zM329.4 198.7h1.1v1.1h-1.1zM327.6 201.5h1.1v1.1h-1.1zM339.3 201.8h1.1v1.1h-1.1zM318.9 186.2h1.1v1.1h-1.1zM327.7 202.4h1.1v1.1h-1.1zM334.5 205.5h1.1v1.1h-1.1zM327.8 198.1h1.1v1.1h-1.1zM324.5 200.8h1.1v1.1h-1.1zM327.3 198.6h1.1v1.1h-1.1zM321.7 191.9h1.1v1.1h-1.1zM326.6 197.1h1.1v1.1h-1.1zM317.5 194.0h1.1v1.1h-1.1zM334.7 203.8h1.1v1.1h-1.1zM317.6 190.5h1.1v1.1h-1.1zM318.0 186.4h1.1v1.1h-1.1zM329.5 198.3h1.1v1.1h-1.1zM330.6 202.0h1.1v1.1h-1.1zM321.2 194.4h1.1v1.1h-1.1zM322.6 197.8h1.1v1.1h-1.1zM324.4 195.5h1.1v1.1h-1.1zM326.1 204.2h1.1v1.1h-1.1zM322.6 193.2h1.1v1.1h-1.1zM322.1 200.2h1.1v1.1h-1.1zM322.5 193.0h1.1v1.1h-1.1zM326.1 198.7h1.1v1.1h-1.1zM323.2 202.4h1.1v1.1h-1.1zM326.9 200.7h1.1v1.1h-1.1zM323.5 202.6h1.1v1.1h-1.1zM324.4 203.1h1.1v1.1h-1.1zM328.6 201.5h1.1v1.1h-1.1zM322.4 203.4h1.1v1.1h-1.1zM329.5 202.0h1.1v1.1h-1.1zM330.7 203.8h1.1v1.1h-1.1zM323.8 200.1h1.1v1.1h-1.1zM329.2 203.1h1.1v1.1h-1.1zM323.5 201.4h1.1v1.1h-1.1zM322.9 200.1h1.1v1.1h-1.1zM310.3 203.8h1.1v1.1h-1.1zM328.9 200.0h1.1v1.1h-1.1zM324.7 201.8h1.1v1.1h-1.1zM324.0 201.3h1.1v1.1h-1.1zM323.4 195.7h1.1v1.1h-1.1zM319.1 197.9h1.1v1.1h-1.1zM326.3 203.1h1.1v1.1h-1.1zM316.0 184.8h1.1v1.1h-1.1zM331.0 202.4h1.1v1.1h-1.1zM324.0 199.9h1.1v1.1h-1.1zM323.5 202.8h1.1v1.1h-1.1zM320.3 191.8h1.1v1.1h-1.1zM322.7 198.9h1.1v1.1h-1.1zM330.3 203.7h1.1v1.1h-1.1zM328.3 199.4h1.1v1.1h-1.1zM328.3 203.4h1.1v1.1h-1.1zM325.9 203.1h1.1v1.1h-1.1zM325.2 196.8h1.1v1.1h-1.1zM319.8 201.0h1.1v1.1h-1.1zM337.7 203.2h1.1v1.1h-1.1zM330.9 206.5h1.1v1.1h-1.1zM324.5 193.4h1.1v1.1h-1.1zM322.1 195.9h1.1v1.1h-1.1zM329.0 198.1h1.1v1.1h-1.1zM319.8 186.2h1.1v1.1h-1.1zM325.3 199.6h1.1v1.1h-1.1zM319.1 184.9h1.1v1.1h-1.1zM331.5 203.3h1.1v1.1h-1.1zM329.6 199.0h1.1v1.1h-1.1zM327.3 199.2h1.1v1.1h-1.1zM327.7 198.6h1.1v1.1h-1.1zM318.2 194.7h1.1v1.1h-1.1zM329.3 200.2h1.1v1.1h-1.1zM329.1 201.9h1.1v1.1h-1.1zM330.5 200.1h1.1v1.1h-1.1zM322.9 198.1h1.1v1.1h-1.1zM327.1 201.8h1.1v1.1h-1.1zM326.3 202.9h1.1v1.1h-1.1zM324.5 200.3h1.1v1.1h-1.1zM331.0 204.1h1.1v1.1h-1.1zM328.1 200.2h1.1v1.1h-1.1zM323.3 201.0h1.1v1.1h-1.1zM326.1 202.0h1.1v1.1h-1.1zM321.6 198.0h1.1v1.1h-1.1zM327.2 198.1h1.1v1.1h-1.1zM332.4 205.4h1.1v1.1h-1.1zM324.3 204.1h1.1v1.1h-1.1zM330.9 202.8h1.1v1.1h-1.1zM322.0 185.8h1.1v1.1h-1.1zM335.8 203.5h1.1v1.1h-1.1zM326.8 195.7h1.1v1.1h-1.1zM323.9 195.7h1.1v1.1h-1.1zM317.1 186.7h1.1v1.1h-1.1zM328.8 204.1h1.1v1.1h-1.1zM323.2 198.5h1.1v1.1h-1.1zM326.2 197.3h1.1v1.1h-1.1zM315.8 184.5h1.1v1.1h-1.1zM330.5 200.9h1.1v1.1h-1.1zM320.8 199.8h1.1v1.1h-1.1zM320.5 189.1h1.1v1.1h-1.1zM321.7 196.8h1.1v1.1h-1.1zM330.7 197.8h1.1v1.1h-1.1zM331.1 201.9h1.1v1.1h-1.1zM332.6 198.4h1.1v1.1h-1.1zM324.1 193.8h1.1v1.1h-1.1zM323.4 194.5h1.1v1.1h-1.1zM323.6 196.0h1.1v1.1h-1.1zM323.6 197.9h1.1v1.1h-1.1zM323.4 197.1h1.1v1.1h-1.1zM320.4 192.4h1.1v1.1h-1.1z"/>
<line x1="328.5" y1="192.8" x2="360.1" y2="127.9" stroke="#2c6cae" stroke-width="1.1"/>
<polygon points="360.1,127.9 360.14,131.48 357.26,130.08" fill="#2c6cae"/>
<line x1="328.5" y1="192.8" x2="334.4" y2="162.6" stroke="#2c6cae" stroke-width="1.1"/>
<polygon points="334.4,162.6 335.36,166.05 332.22,165.43" fill="#2c6cae"/>
<line x1="328.5" y1="192.8" x2="359" y2="160" stroke="#2c6cae" stroke-width="1.1"/>
<polygon points="359,160 357.99,163.43 355.65,161.25" fill="#2c6cae"/>
<line x1="328.5" y1="192.8" x2="363.5" y2="154.9" stroke="#2c6cae" stroke-width="1.1"/>
<polygon points="363.5,154.9 362.5,158.34 360.15,156.17" fill="#2c6cae"/>
<line x1="328.5" y1="192.8" x2="357.2" y2="162.6" stroke="#2c6cae" stroke-width="1.1"/>
<polygon points="357.2,162.6 356.16,166.02 353.84,163.82" fill="#2c6cae"/>
<line x1="328.5" y1="192.8" x2="380.3" y2="159.2" stroke="#2c6cae" stroke-width="1.1"/>
<polygon points="380.3,159.2 378.49,162.28 376.74,159.6" fill="#2c6cae"/>
<line x1="328.5" y1="192.8" x2="371.7" y2="168.6" stroke="#2c6cae" stroke-width="1.1"/>
<polygon points="371.7,168.6 369.69,171.56 368.13,168.77" fill="#2c6cae"/>
<line x1="328.5" y1="192.8" x2="354.8" y2="184.7" stroke="#2c6cae" stroke-width="1.1"/>
<polygon points="354.8,184.7 352.21,187.17 351.27,184.11" fill="#2c6cae"/>
<line x1="328.5" y1="192.8" x2="307.3" y2="171.2" stroke="#2c6cae" stroke-width="1.1"/>
<polygon points="307.3,171.2 310.68,172.36 308.4,174.6" fill="#2c6cae"/>
<line x1="328.5" y1="192.8" x2="306.1" y2="190" stroke="#2c6cae" stroke-width="1.1"/>
<polygon points="306.1,190 309.47,188.81 309.08,191.98" fill="#2c6cae"/>
<line x1="328.5" y1="192.8" x2="381.3" y2="202.8" stroke="#2c6cae" stroke-width="1.1"/>
<polygon points="381.3,202.8 377.86,203.78 378.45,200.63" fill="#2c6cae"/>
<line x1="328.5" y1="192.8" x2="384.6" y2="204.7" stroke="#2c6cae" stroke-width="1.1"/>
<polygon points="384.6,204.7 381.14,205.6 381.8,202.47" fill="#2c6cae"/>
<line x1="328.5" y1="192.8" x2="375" y2="205.7" stroke="#2c6cae" stroke-width="1.1"/>
<polygon points="375,205.7 371.49,206.39 372.34,203.3" fill="#2c6cae"/>
<line x1="328.5" y1="192.8" x2="383.7" y2="209.5" stroke="#2c6cae" stroke-width="1.1"/>
<polygon points="383.7,209.5 380.17,210.1 381.1,207.04" fill="#2c6cae"/>
<line x1="328.5" y1="192.8" x2="393.7" y2="212.4" stroke="#2c6cae" stroke-width="1.1"/>
<polygon points="393.7,212.4 390.17,213.01 391.1,209.95" fill="#2c6cae"/>
<line x1="328.5" y1="192.8" x2="356.3" y2="215.7" stroke="#2c6cae" stroke-width="1.1"/>
<polygon points="356.3,215.7 352.81,214.9 354.85,212.43" fill="#2c6cae"/>
<line x1="328.5" y1="192.8" x2="380.8" y2="221.5" stroke="#2c6cae" stroke-width="1.1"/>
<polygon points="380.8,221.5 377.22,221.36 378.76,218.56" fill="#2c6cae"/>
<line x1="328.5" y1="192.8" x2="341" y2="237" stroke="#2c6cae" stroke-width="1.1"/>
<polygon points="341,237 338.59,234.36 341.67,233.49" fill="#2c6cae"/>
<line x1="328.5" y1="192.8" x2="343.4" y2="240.1" stroke="#2c6cae" stroke-width="1.1"/>
<polygon points="343.4,240.1 340.91,237.53 343.96,236.57" fill="#2c6cae"/>
<line x1="328.5" y1="192.8" x2="313.6" y2="241.5" stroke="#2c6cae" stroke-width="1.1"/>
<polygon points="313.6,241.5 313.01,237.97 316.07,238.91" fill="#2c6cae"/>
<line x1="328.5" y1="192.8" x2="294.2" y2="258.8" stroke="#2c6cae" stroke-width="1.1"/>
<polygon points="294.2,258.8 294.26,255.22 297.1,256.7" fill="#2c6cae"/>
<line x1="328.5" y1="192.8" x2="343.4" y2="256.4" stroke="#2c6cae" stroke-width="1.1"/>
<polygon points="343.4,256.4 341.11,253.65 344.23,252.92" fill="#2c6cae"/>
<line x1="328.5" y1="192.8" x2="374.6" y2="254" stroke="#2c6cae" stroke-width="1.1"/>
<polygon points="374.6,254 371.4,252.41 373.95,250.48" fill="#2c6cae"/>
<line x1="328.5" y1="192.8" x2="331" y2="195" stroke="#2c6cae" stroke-width="1.1"/>
<polygon points="331,195 327.54,194.09 329.65,191.68" fill="#2c6cae"/>
<line x1="328.5" y1="192.8" x2="219.6" y2="83.5" stroke="#b9433f" stroke-width="1.1"/>
<polygon points="219.6,83.5 222.99,84.64 220.73,86.9" fill="#b9433f"/>
<line x1="328.5" y1="192.8" x2="249.9" y2="96.8" stroke="#b9433f" stroke-width="1.1"/>
<polygon points="249.9,96.8 253.17,98.26 250.69,100.29" fill="#b9433f"/>
<line x1="328.5" y1="192.8" x2="259.4" y2="89.7" stroke="#b9433f" stroke-width="1.1"/>
<polygon points="259.4,89.7 262.51,91.47 259.85,93.25" fill="#b9433f"/>
<line x1="328.5" y1="192.8" x2="257.7" y2="120" stroke="#b9433f" stroke-width="1.1"/>
<polygon points="257.7,120 261.08,121.18 258.78,123.41" fill="#b9433f"/>
<line x1="328.5" y1="192.8" x2="263.3" y2="126.1" stroke="#b9433f" stroke-width="1.1"/>
<polygon points="263.3,126.1 266.68,127.27 264.39,129.51" fill="#b9433f"/>
<line x1="328.5" y1="192.8" x2="312.2" y2="148.7" stroke="#b9433f" stroke-width="1.1"/>
<polygon points="312.2,148.7 314.81,151.15 311.81,152.26" fill="#b9433f"/>
<line x1="328.5" y1="192.8" x2="326.3" y2="216.7" stroke="#b9433f" stroke-width="1.1"/>
<polygon points="326.3,216.7 325,213.37 328.19,213.66" fill="#b9433f"/>
<line x1="328.5" y1="192.8" x2="353.9" y2="218.1" stroke="#b9433f" stroke-width="1.1"/>
<polygon points="353.9,218.1 350.5,216.98 352.76,214.71" fill="#b9433f"/>
<line x1="328.5" y1="192.8" x2="384.2" y2="282.8" stroke="#b9433f" stroke-width="1.1"/>
<polygon points="384.2,282.8 381.16,280.92 383.88,279.24" fill="#b9433f"/>
<line x1="328.5" y1="192.8" x2="455.9" y2="263" stroke="#b9433f" stroke-width="1.1"/>
<polygon points="455.9,263 452.33,262.86 453.87,260.05" fill="#b9433f"/>
<line x1="328.5" y1="192.8" x2="217.6" y2="321.6" stroke="#b9433f" stroke-width="1.1"/>
<polygon points="217.6,321.6 218.48,318.13 220.9,320.22" fill="#b9433f"/>
<text x="210.1" y="80.5" font-size="9.5" fill="#921616" text-anchor="start" stroke="#921616" stroke-width="0.08">CIA</text>
<text x="236.8" y="93.4" font-size="9.5" fill="#921616" text-anchor="start" stroke="#921616" stroke-width="0.08">MAP</text>
<text x="257.2" y="86.7" font-size="9.5" fill="#921616" text-anchor="start" stroke="#921616" stroke-width="0.08">MAT</text>
<text x="252.7" y="116.6" font-size="9.5" fill="#921616" text-anchor="start" stroke="#921616" stroke-width="0.08">AI</text>
<text x="239" y="133.4" font-size="9.5" fill="#921616" text-anchor="start" stroke="#921616" stroke-width="0.08">NDVI</text>
<text x="295.8" y="142.7" font-size="9.5" fill="#921616" text-anchor="start" stroke="#921616" stroke-width="0.08">N deposition</text>
<text x="299.1" y="224.9" font-size="9.5" fill="#921616" text-anchor="start" stroke="#921616" stroke-width="0.08">Longitude</text>
<text x="347.2" y="228.2" font-size="9.5" fill="#921616" text-anchor="start" stroke="#921616" stroke-width="0.08">Altitude</text>
<text x="376.1" y="290.7" font-size="9.5" fill="#921616" text-anchor="start" stroke="#921616" stroke-width="0.08">Latitude</text>
<text x="463" y="272.5" font-size="9.5" fill="#921616" text-anchor="start" stroke="#921616" stroke-width="0.08">pH</text>
<text x="222.4" y="326" font-size="9.5" fill="#921616" text-anchor="start" stroke="#921616" stroke-width="0.08">Moisture</text>
<text x="358" y="126.2" font-size="9.5" fill="#3243a3" text-anchor="start" stroke="#3243a3" stroke-width="0.08">Al</text>
<text x="331.1" y="160.7" font-size="9.5" fill="#3243a3" text-anchor="start" stroke="#3243a3" stroke-width="0.08">Tl</text>
<text x="351.5" y="157.8" font-size="9.5" fill="#3243a3" text-anchor="start" stroke="#3243a3" stroke-width="0.08">Ti</text>
<text x="365.9" y="154.6" font-size="9.5" fill="#3243a3" text-anchor="start" stroke="#3243a3" stroke-width="0.08">Fe</text>
<text x="359.4" y="167.9" font-size="9.5" fill="#3243a3" text-anchor="start" stroke="#3243a3" stroke-width="0.08">V</text>
<text x="382.7" y="160.7" font-size="9.5" fill="#3243a3" text-anchor="start" stroke="#3243a3" stroke-width="0.08">K</text>
<text x="373.8" y="171.7" font-size="9.5" fill="#3243a3" text-anchor="start" stroke="#3243a3" stroke-width="0.08">Be</text>
<text x="356.3" y="186.6" font-size="9.5" fill="#3243a3" text-anchor="start" stroke="#3243a3" stroke-width="0.08">Cr</text>
<text x="292.9" y="175.5" font-size="9.5" fill="#3243a3" text-anchor="start" stroke="#3243a3" stroke-width="0.08">Sb</text>
<text x="292.9" y="191.4" font-size="9.5" fill="#3243a3" text-anchor="start" stroke="#3243a3" stroke-width="0.08">Pb</text>
<text x="376.9" y="198.9" font-size="9.5" fill="#3243a3" text-anchor="start" stroke="#3243a3" stroke-width="0.08">Co</text>
<text x="387.5" y="206.6" font-size="9.5" fill="#3243a3" text-anchor="start" stroke="#3243a3" stroke-width="0.08">Ba</text>
<text x="369.7" y="213.3" font-size="9.5" fill="#3243a3" text-anchor="start" stroke="#3243a3" stroke-width="0.08">Ni</text>
<text x="379.3" y="215.8" font-size="9.5" fill="#3243a3" text-anchor="start" stroke="#3243a3" stroke-width="0.08">Mg</text>
<text x="395.7" y="216.7" font-size="9.5" fill="#3243a3" text-anchor="start" stroke="#3243a3" stroke-width="0.08">Na</text>
<text x="354.8" y="213.3" font-size="9.5" fill="#3243a3" text-anchor="start" stroke="#3243a3" stroke-width="0.08">Cu</text>
<text x="384.6" y="229.7" font-size="9.5" fill="#3243a3" text-anchor="start" stroke="#3243a3" stroke-width="0.08">Sr</text>
<text x="326.9" y="237.7" font-size="9.5" fill="#3243a3" text-anchor="start" stroke="#3243a3" stroke-width="0.08">Mn</text>
<text x="344.6" y="244.6" font-size="9.5" fill="#3243a3" text-anchor="start" stroke="#3243a3" stroke-width="0.08">Zn</text>
<text x="308.3" y="249.7" font-size="9.5" fill="#3243a3" text-anchor="start" stroke="#3243a3" stroke-width="0.08">Cd</text>
<text x="282.9" y="267.5" font-size="9.5" fill="#3243a3" text-anchor="start" stroke="#3243a3" stroke-width="0.08">SOC</text>
<text x="342.9" y="264.6" font-size="9.5" fill="#3243a3" text-anchor="start" stroke="#3243a3" stroke-width="0.08">P</text>
<text x="373.7" y="262.2" font-size="9.5" fill="#3243a3" text-anchor="start" stroke="#3243a3" stroke-width="0.08">Ca</text>
<text x="328.4" y="199.1" font-size="9.5" fill="#3243a3" text-anchor="start" stroke="#3243a3" stroke-width="0.08">Mo</text>
<rect x="396.8" y="43.7" width="85.6" height="86.7" fill="#fff" stroke="none"/>
<line x1="439.6" y1="43.7" x2="439.6" y2="130.4" stroke="#bdbdbd" stroke-width="0.8"/>
<line x1="396.8" y1="81.3" x2="482.4" y2="81.3" stroke="#bdbdbd" stroke-width="0.8"/>
<path fill="#dfb57c" d="M442.9 72.0h2.1l-1.0 -2.1zM445.4 64.3h2.1l-1.0 -2.1zM443.9 73.0h2.1l-1.0 -2.1zM439.0 64.2h2.1l-1.0 -2.1zM464.7 75.0h2.1l-1.0 -2.1zM452.3 77.6h2.1l-1.0 -2.1zM439.8 66.5h2.1l-1.0 -2.1zM447.1 77.8h2.1l-1.0 -2.1zM451.5 78.9h2.1l-1.0 -2.1zM433.2 66.4h2.1l-1.0 -2.1zM423.9 56.1h2.1l-1.0 -2.1zM438.5 62.5h2.1l-1.0 -2.1zM461.0 78.8h2.1l-1.0 -2.1zM458.5 80.5h2.1l-1.0 -2.1zM426.0 55.1h2.1l-1.0 -2.1zM457.0 77.1h2.1l-1.0 -2.1zM423.6 62.9h2.1l-1.0 -2.1zM458.6 74.3h2.1l-1.0 -2.1zM442.8 74.4h2.1l-1.0 -2.1zM437.2 67.0h2.1l-1.0 -2.1zM440.2 69.7h2.1l-1.0 -2.1zM448.8 76.3h2.1l-1.0 -2.1zM444.0 74.6h2.1l-1.0 -2.1zM427.5 52.2h2.1l-1.0 -2.1zM446.4 72.8h2.1l-1.0 -2.1zM438.9 61.8h2.1l-1.0 -2.1zM429.9 65.2h2.1l-1.0 -2.1zM465.5 88.0h2.1l-1.0 -2.1zM449.7 72.9h2.1l-1.0 -2.1zM435.1 63.0h2.1l-1.0 -2.1zM456.1 70.5h2.1l-1.0 -2.1zM447.2 72.8h2.1l-1.0 -2.1zM442.7 74.3h2.1l-1.0 -2.1zM435.7 64.2h2.1l-1.0 -2.1zM440.6 76.1h2.1l-1.0 -2.1zM446.6 77.8h2.1l-1.0 -2.1zM455.6 78.5h2.1l-1.0 -2.1zM421.6 63.5h2.1l-1.0 -2.1zM443.8 74.1h2.1l-1.0 -2.1zM440.8 69.8h2.1l-1.0 -2.1zM443.6 72.7h2.1l-1.0 -2.1zM443.3 77.3h2.1l-1.0 -2.1zM448.2 71.1h2.1l-1.0 -2.1zM435.7 73.0h2.1l-1.0 -2.1zM443.5 70.3h2.1l-1.0 -2.1zM423.1 60.7h2.1l-1.0 -2.1zM452.4 69.1h2.1l-1.0 -2.1zM431.7 63.7h2.1l-1.0 -2.1zM431.0 71.7h2.1l-1.0 -2.1zM454.9 77.4h2.1l-1.0 -2.1zM443.4 65.7h2.1l-1.0 -2.1zM425.3 60.4h2.1l-1.0 -2.1zM434.5 64.5h2.1l-1.0 -2.1zM441.3 71.1h2.1l-1.0 -2.1zM445.8 73.6h2.1l-1.0 -2.1zM456.6 79.0h2.1l-1.0 -2.1zM438.2 77.0h2.1l-1.0 -2.1zM447.1 71.6h2.1l-1.0 -2.1zM433.7 69.4h2.1l-1.0 -2.1zM437.8 58.8h2.1l-1.0 -2.1zM427.7 55.9h2.1l-1.0 -2.1zM442.6 72.5h2.1l-1.0 -2.1zM430.9 59.0h2.1l-1.0 -2.1zM441.5 69.5h2.1l-1.0 -2.1zM434.6 70.2h2.1l-1.0 -2.1zM450.1 79.2h2.1l-1.0 -2.1zM434.9 72.6h2.1l-1.0 -2.1zM447.6 74.0h2.1l-1.0 -2.1zM432.2 69.9h2.1l-1.0 -2.1zM438.3 67.4h2.1l-1.0 -2.1zM471.4 95.1h2.1l-1.0 -2.1zM442.6 68.4h2.1l-1.0 -2.1zM438.7 66.7h2.1l-1.0 -2.1zM440.4 71.4h2.1l-1.0 -2.1zM438.0 75.6h2.1l-1.0 -2.1zM435.7 64.1h2.1l-1.0 -2.1zM431.9 67.8h2.1l-1.0 -2.1zM446.7 74.7h2.1l-1.0 -2.1zM445.0 69.8h2.1l-1.0 -2.1zM459.4 79.2h2.1l-1.0 -2.1zM444.4 70.4h2.1l-1.0 -2.1zM457.3 84.3h2.1l-1.0 -2.1zM423.6 59.2h2.1l-1.0 -2.1zM465.6 89.3h2.1l-1.0 -2.1zM470.7 87.6h2.1l-1.0 -2.1zM449.5 78.3h2.1l-1.0 -2.1zM430.6 70.6h2.1l-1.0 -2.1zM427.8 61.2h2.1l-1.0 -2.1zM421.3 60.7h2.1l-1.0 -2.1zM443.8 85.7h2.1l-1.0 -2.1zM438.0 69.6h2.1l-1.0 -2.1zM434.0 66.3h2.1l-1.0 -2.1zM453.7 73.1h2.1l-1.0 -2.1zM425.1 58.3h2.1l-1.0 -2.1zM430.6 63.4h2.1l-1.0 -2.1zM440.5 76.2h2.1l-1.0 -2.1zM458.0 80.8h2.1l-1.0 -2.1zM449.7 75.7h2.1l-1.0 -2.1zM453.2 80.6h2.1l-1.0 -2.1zM431.0 62.3h2.1l-1.0 -2.1zM444.4 70.9h2.1l-1.0 -2.1zM473.4 93.6h2.1l-1.0 -2.1zM429.9 68.1h2.1l-1.0 -2.1zM449.4 72.0h2.1l-1.0 -2.1zM460.9 81.2h2.1l-1.0 -2.1zM430.1 59.2h2.1l-1.0 -2.1zM428.1 60.5h2.1l-1.0 -2.1zM453.3 74.1h2.1l-1.0 -2.1zM440.6 65.1h2.1l-1.0 -2.1zM445.2 70.5h2.1l-1.0 -2.1zM462.3 82.8h2.1l-1.0 -2.1zM445.2 70.6h2.1l-1.0 -2.1zM428.5 70.6h2.1l-1.0 -2.1zM434.5 63.0h2.1l-1.0 -2.1zM443.9 74.8h2.1l-1.0 -2.1zM441.8 71.4h2.1l-1.0 -2.1zM433.1 66.2h2.1l-1.0 -2.1zM443.9 63.8h2.1l-1.0 -2.1zM442.4 75.9h2.1l-1.0 -2.1zM444.5 65.7h2.1l-1.0 -2.1zM443.4 74.0h2.1l-1.0 -2.1zM449.8 77.6h2.1l-1.0 -2.1zM447.7 73.5h2.1l-1.0 -2.1zM444.5 63.2h2.1l-1.0 -2.1zM418.2 69.6h2.1l-1.0 -2.1zM474.2 93.4h2.1l-1.0 -2.1zM457.4 81.2h2.1l-1.0 -2.1zM456.4 80.9h2.1l-1.0 -2.1zM454.9 77.8h2.1l-1.0 -2.1zM432.7 62.4h2.1l-1.0 -2.1zM437.0 76.3h2.1l-1.0 -2.1zM442.0 69.5h2.1l-1.0 -2.1zM439.9 65.3h2.1l-1.0 -2.1zM434.4 71.7h2.1l-1.0 -2.1zM443.0 66.4h2.1l-1.0 -2.1zM448.1 72.5h2.1l-1.0 -2.1zM454.7 81.5h2.1l-1.0 -2.1zM477.8 98.6h2.1l-1.0 -2.1zM450.7 76.6h2.1l-1.0 -2.1zM454.5 82.6h2.1l-1.0 -2.1zM432.7 68.0h2.1l-1.0 -2.1zM424.2 63.9h2.1l-1.0 -2.1zM430.7 68.2h2.1l-1.0 -2.1zM445.3 76.3h2.1l-1.0 -2.1zM444.1 76.1h2.1l-1.0 -2.1zM439.7 60.2h2.1l-1.0 -2.1zM444.2 72.9h2.1l-1.0 -2.1zM430.8 63.2h2.1l-1.0 -2.1zM426.7 60.7h2.1l-1.0 -2.1zM445.0 68.8h2.1l-1.0 -2.1zM439.3 61.8h2.1l-1.0 -2.1zM444.7 71.8h2.1l-1.0 -2.1zM437.4 78.9h2.1l-1.0 -2.1zM448.7 75.9h2.1l-1.0 -2.1zM435.4 64.9h2.1l-1.0 -2.1zM453.8 73.8h2.1l-1.0 -2.1zM436.0 66.0h2.1l-1.0 -2.1zM444.2 77.5h2.1l-1.0 -2.1zM443.1 67.6h2.1l-1.0 -2.1zM443.7 74.6h2.1l-1.0 -2.1zM457.9 80.7h2.1l-1.0 -2.1zM432.9 61.1h2.1l-1.0 -2.1zM454.4 78.1h2.1l-1.0 -2.1zM454.4 79.0h2.1l-1.0 -2.1zM449.1 78.7h2.1l-1.0 -2.1zM468.9 87.0h2.1l-1.0 -2.1zM450.5 75.7h2.1l-1.0 -2.1zM441.7 63.6h2.1l-1.0 -2.1zM436.7 67.2h2.1l-1.0 -2.1zM465.8 86.7h2.1l-1.0 -2.1zM439.8 66.3h2.1l-1.0 -2.1zM477.7 97.5h2.1l-1.0 -2.1zM440.9 79.5h2.1l-1.0 -2.1zM445.3 74.7h2.1l-1.0 -2.1zM445.1 69.4h2.1l-1.0 -2.1zM450.9 74.5h2.1l-1.0 -2.1zM433.0 63.3h2.1l-1.0 -2.1zM465.9 92.7h2.1l-1.0 -2.1zM443.1 73.0h2.1l-1.0 -2.1zM449.2 74.1h2.1l-1.0 -2.1zM445.4 78.0h2.1l-1.0 -2.1zM428.3 70.1h2.1l-1.0 -2.1zM447.8 69.2h2.1l-1.0 -2.1zM439.8 65.0h2.1l-1.0 -2.1zM447.9 74.8h2.1l-1.0 -2.1zM439.6 69.7h2.1l-1.0 -2.1zM432.3 68.0h2.1l-1.0 -2.1zM453.7 75.8h2.1l-1.0 -2.1zM462.3 79.0h2.1l-1.0 -2.1zM435.0 68.9h2.1l-1.0 -2.1zM459.6 77.5h2.1l-1.0 -2.1zM438.2 69.0h2.1l-1.0 -2.1zM439.4 69.4h2.1l-1.0 -2.1zM433.9 67.2h2.1l-1.0 -2.1zM455.0 82.0h2.1l-1.0 -2.1zM421.1 60.6h2.1l-1.0 -2.1zM440.9 72.8h2.1l-1.0 -2.1zM439.9 73.5h2.1l-1.0 -2.1zM427.5 61.6h2.1l-1.0 -2.1zM453.4 77.5h2.1l-1.0 -2.1zM443.4 69.2h2.1l-1.0 -2.1zM438.8 72.9h2.1l-1.0 -2.1zM425.8 60.8h2.1l-1.0 -2.1zM425.8 62.9h2.1l-1.0 -2.1zM444.2 70.9h2.1l-1.0 -2.1zM436.0 63.0h2.1l-1.0 -2.1zM434.0 61.8h2.1l-1.0 -2.1zM424.8 64.5h2.1l-1.0 -2.1zM462.3 82.3h2.1l-1.0 -2.1zM432.1 71.2h2.1l-1.0 -2.1zM463.7 82.4h2.1l-1.0 -2.1zM454.4 77.1h2.1l-1.0 -2.1zM433.5 66.4h2.1l-1.0 -2.1zM444.8 65.2h2.1l-1.0 -2.1zM431.2 62.4h2.1l-1.0 -2.1zM437.8 70.8h2.1l-1.0 -2.1zM430.5 59.5h2.1l-1.0 -2.1zM428.6 58.7h2.1l-1.0 -2.1zM424.8 59.5h2.1l-1.0 -2.1zM440.2 67.4h2.1l-1.0 -2.1zM456.6 83.2h2.1l-1.0 -2.1zM442.9 75.4h2.1l-1.0 -2.1zM418.1 54.6h2.1l-1.0 -2.1zM427.9 63.6h2.1l-1.0 -2.1zM446.0 79.3h2.1l-1.0 -2.1zM435.9 66.7h2.1l-1.0 -2.1zM456.2 73.3h2.1l-1.0 -2.1zM439.1 72.6h2.1l-1.0 -2.1zM441.0 72.8h2.1l-1.0 -2.1zM445.5 76.9h2.1l-1.0 -2.1zM443.1 75.4h2.1l-1.0 -2.1zM446.9 73.2h2.1l-1.0 -2.1zM435.0 62.9h2.1l-1.0 -2.1zM455.0 81.4h2.1l-1.0 -2.1zM441.7 71.9h2.1l-1.0 -2.1zM438.1 68.1h2.1l-1.0 -2.1zM429.8 62.3h2.1l-1.0 -2.1zM434.8 63.4h2.1l-1.0 -2.1zM458.6 76.5h2.1l-1.0 -2.1zM440.3 69.3h2.1l-1.0 -2.1zM446.6 69.1h2.1l-1.0 -2.1zM474.1 98.9h2.1l-1.0 -2.1zM438.4 68.4h2.1l-1.0 -2.1zM467.3 84.3h2.1l-1.0 -2.1zM435.5 69.2h2.1l-1.0 -2.1zM453.6 76.8h2.1l-1.0 -2.1zM462.7 82.9h2.1l-1.0 -2.1zM431.6 62.9h2.1l-1.0 -2.1zM447.6 79.9h2.1l-1.0 -2.1zM449.9 81.3h2.1l-1.0 -2.1zM430.2 60.9h2.1l-1.0 -2.1zM449.0 78.2h2.1l-1.0 -2.1zM438.6 73.2h2.1l-1.0 -2.1zM443.9 80.2h2.1l-1.0 -2.1zM457.3 85.8h2.1l-1.0 -2.1zM442.6 70.0h2.1l-1.0 -2.1zM445.8 74.0h2.1l-1.0 -2.1zM455.7 78.5h2.1l-1.0 -2.1zM430.3 67.1h2.1l-1.0 -2.1zM438.5 64.1h2.1l-1.0 -2.1zM468.5 89.9h2.1l-1.0 -2.1zM444.4 79.7h2.1l-1.0 -2.1zM454.2 70.4h2.1l-1.0 -2.1zM435.1 67.0h2.1l-1.0 -2.1zM426.8 64.8h2.1l-1.0 -2.1zM444.9 73.5h2.1l-1.0 -2.1zM447.0 83.0h2.1l-1.0 -2.1zM462.4 78.8h2.1l-1.0 -2.1zM447.4 76.2h2.1l-1.0 -2.1zM453.5 80.3h2.1l-1.0 -2.1zM440.4 75.2h2.1l-1.0 -2.1zM446.8 73.4h2.1l-1.0 -2.1zM450.0 70.8h2.1l-1.0 -2.1zM423.8 58.0h2.1l-1.0 -2.1zM424.0 60.4h2.1l-1.0 -2.1zM431.5 63.4h2.1l-1.0 -2.1zM458.5 85.8h2.1l-1.0 -2.1zM447.6 70.9h2.1l-1.0 -2.1zM442.3 67.3h2.1l-1.0 -2.1zM461.9 87.1h2.1l-1.0 -2.1zM470.7 87.5h2.1l-1.0 -2.1zM449.3 75.8h2.1l-1.0 -2.1zM465.0 84.9h2.1l-1.0 -2.1zM451.1 80.7h2.1l-1.0 -2.1zM430.3 60.6h2.1l-1.0 -2.1zM451.2 74.0h2.1l-1.0 -2.1zM444.5 72.4h2.1l-1.0 -2.1zM438.4 65.6h2.1l-1.0 -2.1zM444.4 72.8h2.1l-1.0 -2.1zM455.1 71.4h2.1l-1.0 -2.1zM440.2 71.2h2.1l-1.0 -2.1zM435.4 62.4h2.1l-1.0 -2.1zM470.2 88.3h2.1l-1.0 -2.1zM449.8 72.6h2.1l-1.0 -2.1zM430.2 62.1h2.1l-1.0 -2.1zM454.8 75.3h2.1l-1.0 -2.1zM441.2 69.1h2.1l-1.0 -2.1zM442.9 70.6h2.1l-1.0 -2.1zM431.8 66.2h2.1l-1.0 -2.1zM443.0 75.0h2.1l-1.0 -2.1zM444.2 69.6h2.1l-1.0 -2.1zM436.3 65.3h2.1l-1.0 -2.1zM445.5 77.3h2.1l-1.0 -2.1zM439.0 67.8h2.1l-1.0 -2.1zM423.2 56.4h2.1l-1.0 -2.1zM439.6 68.5h2.1l-1.0 -2.1zM433.2 60.6h2.1l-1.0 -2.1zM445.0 68.9h2.1l-1.0 -2.1zM463.5 80.3h2.1l-1.0 -2.1zM453.1 73.5h2.1l-1.0 -2.1zM441.0 72.0h2.1l-1.0 -2.1zM444.1 65.1h2.1l-1.0 -2.1zM433.8 70.2h2.1l-1.0 -2.1zM469.5 87.9h2.1l-1.0 -2.1zM436.4 71.0h2.1l-1.0 -2.1zM451.8 72.9h2.1l-1.0 -2.1zM430.2 62.0h2.1l-1.0 -2.1zM435.6 59.1h2.1l-1.0 -2.1zM449.1 77.2h2.1l-1.0 -2.1zM454.0 76.4h2.1l-1.0 -2.1zM441.6 68.3h2.1l-1.0 -2.1zM435.2 63.6h2.1l-1.0 -2.1zM449.0 78.4h2.1l-1.0 -2.1zM424.2 66.1h2.1l-1.0 -2.1zM453.4 73.0h2.1l-1.0 -2.1zM432.3 65.4h2.1l-1.0 -2.1zM441.9 66.5h2.1l-1.0 -2.1zM436.9 66.8h2.1l-1.0 -2.1zM453.9 79.1h2.1l-1.0 -2.1zM439.3 62.9h2.1l-1.0 -2.1zM443.1 73.8h2.1l-1.0 -2.1zM436.3 63.1h2.1l-1.0 -2.1zM439.9 72.0h2.1l-1.0 -2.1zM429.6 69.0h2.1l-1.0 -2.1zM419.0 59.5h2.1l-1.0 -2.1zM437.2 68.8h2.1l-1.0 -2.1z"/>
<path fill="#b5773f" d="M444.6 81.0h1.8v1.8h-1.8zM442.8 82.4h1.8v1.8h-1.8zM452.1 86.4h1.8v1.8h-1.8zM420.2 73.3h1.8v1.8h-1.8zM431.6 78.0h1.8v1.8h-1.8zM414.9 79.4h1.8v1.8h-1.8zM419.5 74.8h1.8v1.8h-1.8zM437.7 99.8h1.8v1.8h-1.8zM444.3 67.4h1.8v1.8h-1.8zM454.9 77.9h1.8v1.8h-1.8zM432.1 83.3h1.8v1.8h-1.8zM449.8 81.2h1.8v1.8h-1.8zM436.3 86.4h1.8v1.8h-1.8zM438.8 87.5h1.8v1.8h-1.8zM420.8 81.1h1.8v1.8h-1.8zM444.5 88.4h1.8v1.8h-1.8zM454.6 78.9h1.8v1.8h-1.8zM444.9 83.9h1.8v1.8h-1.8zM436.5 87.2h1.8v1.8h-1.8zM435.6 82.1h1.8v1.8h-1.8zM453.8 88.5h1.8v1.8h-1.8zM437.3 71.5h1.8v1.8h-1.8zM440.7 95.1h1.8v1.8h-1.8zM437.2 82.2h1.8v1.8h-1.8zM450.9 80.9h1.8v1.8h-1.8zM408.1 93.6h1.8v1.8h-1.8zM438.6 97.4h1.8v1.8h-1.8zM433.9 74.0h1.8v1.8h-1.8zM432.2 84.7h1.8v1.8h-1.8zM443.4 87.6h1.8v1.8h-1.8zM434.1 80.5h1.8v1.8h-1.8zM437.4 92.0h1.8v1.8h-1.8zM403.9 109.4h1.8v1.8h-1.8zM442.3 95.7h1.8v1.8h-1.8zM421.3 63.5h1.8v1.8h-1.8zM449.4 88.9h1.8v1.8h-1.8zM458.0 97.1h1.8v1.8h-1.8zM436.6 89.3h1.8v1.8h-1.8zM436.3 80.8h1.8v1.8h-1.8zM470.9 83.0h1.8v1.8h-1.8zM444.8 86.9h1.8v1.8h-1.8zM428.4 79.8h1.8v1.8h-1.8zM438.8 78.0h1.8v1.8h-1.8zM449.6 83.8h1.8v1.8h-1.8zM450.6 97.1h1.8v1.8h-1.8zM437.5 89.1h1.8v1.8h-1.8zM432.0 88.4h1.8v1.8h-1.8zM446.3 76.5h1.8v1.8h-1.8zM442.8 78.2h1.8v1.8h-1.8zM463.6 87.5h1.8v1.8h-1.8zM429.0 92.8h1.8v1.8h-1.8zM435.1 92.8h1.8v1.8h-1.8zM441.5 78.4h1.8v1.8h-1.8zM421.1 73.3h1.8v1.8h-1.8zM426.1 53.9h1.8v1.8h-1.8zM445.9 87.9h1.8v1.8h-1.8zM457.0 93.1h1.8v1.8h-1.8zM438.9 76.4h1.8v1.8h-1.8zM444.0 85.9h1.8v1.8h-1.8zM450.8 88.3h1.8v1.8h-1.8zM441.0 84.8h1.8v1.8h-1.8zM436.2 86.9h1.8v1.8h-1.8zM428.0 74.8h1.8v1.8h-1.8zM454.7 79.6h1.8v1.8h-1.8zM442.9 87.4h1.8v1.8h-1.8zM428.5 70.9h1.8v1.8h-1.8zM425.9 80.8h1.8v1.8h-1.8zM422.0 78.6h1.8v1.8h-1.8zM443.7 88.0h1.8v1.8h-1.8zM426.8 72.5h1.8v1.8h-1.8zM414.7 74.0h1.8v1.8h-1.8zM420.6 69.4h1.8v1.8h-1.8zM429.8 85.1h1.8v1.8h-1.8zM435.4 86.5h1.8v1.8h-1.8zM418.7 76.2h1.8v1.8h-1.8zM441.7 80.2h1.8v1.8h-1.8zM469.9 87.2h1.8v1.8h-1.8zM446.9 87.5h1.8v1.8h-1.8zM467.8 90.5h1.8v1.8h-1.8zM439.6 86.2h1.8v1.8h-1.8zM431.1 84.6h1.8v1.8h-1.8zM435.4 85.0h1.8v1.8h-1.8zM425.6 83.4h1.8v1.8h-1.8zM413.1 70.2h1.8v1.8h-1.8zM427.9 79.9h1.8v1.8h-1.8zM431.9 75.4h1.8v1.8h-1.8zM431.9 83.9h1.8v1.8h-1.8zM454.6 99.4h1.8v1.8h-1.8zM454.2 88.8h1.8v1.8h-1.8zM438.7 85.9h1.8v1.8h-1.8zM441.3 82.8h1.8v1.8h-1.8zM455.6 77.2h1.8v1.8h-1.8zM454.2 85.8h1.8v1.8h-1.8zM422.2 96.2h1.8v1.8h-1.8zM433.9 80.1h1.8v1.8h-1.8zM433.8 79.6h1.8v1.8h-1.8zM439.8 85.1h1.8v1.8h-1.8zM439.5 85.6h1.8v1.8h-1.8zM436.9 87.9h1.8v1.8h-1.8zM449.7 89.8h1.8v1.8h-1.8zM441.5 78.2h1.8v1.8h-1.8zM426.3 75.0h1.8v1.8h-1.8zM428.3 67.6h1.8v1.8h-1.8zM438.8 87.2h1.8v1.8h-1.8zM426.8 68.3h1.8v1.8h-1.8zM427.7 81.8h1.8v1.8h-1.8zM418.4 78.8h1.8v1.8h-1.8zM420.3 73.9h1.8v1.8h-1.8zM423.6 90.1h1.8v1.8h-1.8zM439.4 98.2h1.8v1.8h-1.8zM447.8 87.9h1.8v1.8h-1.8zM431.7 77.2h1.8v1.8h-1.8zM437.1 83.7h1.8v1.8h-1.8zM422.9 64.3h1.8v1.8h-1.8zM449.5 82.3h1.8v1.8h-1.8zM430.1 90.9h1.8v1.8h-1.8zM444.8 77.7h1.8v1.8h-1.8zM440.0 75.3h1.8v1.8h-1.8zM431.2 75.9h1.8v1.8h-1.8zM447.0 71.5h1.8v1.8h-1.8zM435.3 79.0h1.8v1.8h-1.8zM447.0 97.5h1.8v1.8h-1.8zM439.4 87.6h1.8v1.8h-1.8zM428.8 80.0h1.8v1.8h-1.8zM424.7 83.5h1.8v1.8h-1.8zM431.2 87.2h1.8v1.8h-1.8zM441.8 94.2h1.8v1.8h-1.8zM461.2 88.6h1.8v1.8h-1.8zM438.6 86.8h1.8v1.8h-1.8zM432.3 87.8h1.8v1.8h-1.8zM434.9 88.8h1.8v1.8h-1.8zM443.2 95.9h1.8v1.8h-1.8zM434.3 64.5h1.8v1.8h-1.8zM443.7 89.7h1.8v1.8h-1.8zM451.4 83.5h1.8v1.8h-1.8zM445.2 71.9h1.8v1.8h-1.8zM445.0 82.2h1.8v1.8h-1.8zM451.6 82.3h1.8v1.8h-1.8zM457.1 105.7h1.8v1.8h-1.8zM445.2 88.2h1.8v1.8h-1.8zM412.4 98.3h1.8v1.8h-1.8zM419.5 86.3h1.8v1.8h-1.8zM437.1 78.3h1.8v1.8h-1.8zM424.5 82.1h1.8v1.8h-1.8zM443.8 95.5h1.8v1.8h-1.8zM435.2 75.5h1.8v1.8h-1.8zM437.3 76.6h1.8v1.8h-1.8zM449.6 89.4h1.8v1.8h-1.8zM426.8 71.2h1.8v1.8h-1.8zM465.8 87.1h1.8v1.8h-1.8zM423.9 71.5h1.8v1.8h-1.8zM426.2 69.7h1.8v1.8h-1.8zM449.5 84.1h1.8v1.8h-1.8zM427.1 76.0h1.8v1.8h-1.8zM446.1 80.7h1.8v1.8h-1.8zM435.8 90.5h1.8v1.8h-1.8zM434.8 87.0h1.8v1.8h-1.8zM422.9 79.4h1.8v1.8h-1.8zM444.0 78.2h1.8v1.8h-1.8zM441.6 72.3h1.8v1.8h-1.8zM439.4 80.6h1.8v1.8h-1.8zM452.7 89.0h1.8v1.8h-1.8zM435.4 79.6h1.8v1.8h-1.8zM443.8 81.9h1.8v1.8h-1.8zM435.6 67.7h1.8v1.8h-1.8zM459.0 100.4h1.8v1.8h-1.8zM430.6 75.7h1.8v1.8h-1.8zM440.4 75.3h1.8v1.8h-1.8zM404.6 95.8h1.8v1.8h-1.8zM452.6 77.6h1.8v1.8h-1.8zM426.9 71.3h1.8v1.8h-1.8zM438.1 91.2h1.8v1.8h-1.8zM436.1 74.0h1.8v1.8h-1.8zM421.1 63.4h1.8v1.8h-1.8zM409.9 66.0h1.8v1.8h-1.8zM445.6 72.5h1.8v1.8h-1.8zM418.7 68.6h1.8v1.8h-1.8zM438.9 77.3h1.8v1.8h-1.8zM439.9 71.4h1.8v1.8h-1.8zM456.8 91.2h1.8v1.8h-1.8zM442.7 66.5h1.8v1.8h-1.8zM430.7 77.2h1.8v1.8h-1.8zM429.0 85.2h1.8v1.8h-1.8zM441.6 89.8h1.8v1.8h-1.8zM436.4 68.5h1.8v1.8h-1.8zM440.0 75.0h1.8v1.8h-1.8zM433.8 91.6h1.8v1.8h-1.8zM453.8 90.5h1.8v1.8h-1.8zM448.7 73.6h1.8v1.8h-1.8zM420.7 80.2h1.8v1.8h-1.8zM447.9 83.5h1.8v1.8h-1.8zM448.5 77.4h1.8v1.8h-1.8zM445.7 93.8h1.8v1.8h-1.8zM434.6 66.5h1.8v1.8h-1.8zM429.4 72.2h1.8v1.8h-1.8zM421.8 69.2h1.8v1.8h-1.8zM440.2 95.0h1.8v1.8h-1.8zM430.4 84.8h1.8v1.8h-1.8zM441.2 77.0h1.8v1.8h-1.8zM442.9 97.2h1.8v1.8h-1.8zM442.5 84.9h1.8v1.8h-1.8zM444.0 84.5h1.8v1.8h-1.8zM439.6 86.9h1.8v1.8h-1.8zM435.2 93.2h1.8v1.8h-1.8zM431.8 74.9h1.8v1.8h-1.8zM410.0 68.8h1.8v1.8h-1.8zM431.2 73.8h1.8v1.8h-1.8zM443.4 79.9h1.8v1.8h-1.8zM413.5 108.3h1.8v1.8h-1.8zM429.1 80.5h1.8v1.8h-1.8zM440.9 82.8h1.8v1.8h-1.8zM457.2 83.8h1.8v1.8h-1.8zM434.3 81.0h1.8v1.8h-1.8zM450.0 78.1h1.8v1.8h-1.8zM424.8 80.4h1.8v1.8h-1.8zM423.2 70.0h1.8v1.8h-1.8zM442.2 85.0h1.8v1.8h-1.8zM436.1 78.6h1.8v1.8h-1.8zM447.8 61.9h1.8v1.8h-1.8zM449.1 77.9h1.8v1.8h-1.8zM435.9 74.8h1.8v1.8h-1.8zM427.4 71.8h1.8v1.8h-1.8zM422.9 67.5h1.8v1.8h-1.8zM448.0 93.3h1.8v1.8h-1.8zM449.1 83.8h1.8v1.8h-1.8zM443.2 90.7h1.8v1.8h-1.8zM446.7 100.0h1.8v1.8h-1.8zM433.2 74.2h1.8v1.8h-1.8zM463.0 95.1h1.8v1.8h-1.8zM432.3 70.6h1.8v1.8h-1.8zM452.8 87.5h1.8v1.8h-1.8zM445.1 75.8h1.8v1.8h-1.8zM432.1 79.7h1.8v1.8h-1.8zM431.5 81.5h1.8v1.8h-1.8zM441.0 70.3h1.8v1.8h-1.8zM451.2 93.5h1.8v1.8h-1.8zM431.4 91.9h1.8v1.8h-1.8zM435.3 82.1h1.8v1.8h-1.8zM426.9 79.0h1.8v1.8h-1.8zM435.7 78.0h1.8v1.8h-1.8zM398.5 111.8h1.8v1.8h-1.8zM459.2 84.6h1.8v1.8h-1.8zM438.7 87.7h1.8v1.8h-1.8zM434.1 89.5h1.8v1.8h-1.8zM437.8 89.8h1.8v1.8h-1.8zM431.0 67.9h1.8v1.8h-1.8zM430.9 77.7h1.8v1.8h-1.8zM414.8 78.4h1.8v1.8h-1.8zM443.8 94.9h1.8v1.8h-1.8zM462.9 98.4h1.8v1.8h-1.8zM423.0 62.6h1.8v1.8h-1.8zM449.5 78.9h1.8v1.8h-1.8zM423.9 82.1h1.8v1.8h-1.8zM405.4 97.6h1.8v1.8h-1.8zM434.1 74.9h1.8v1.8h-1.8zM429.1 81.5h1.8v1.8h-1.8zM426.6 72.4h1.8v1.8h-1.8zM442.7 78.7h1.8v1.8h-1.8zM440.9 67.6h1.8v1.8h-1.8zM429.5 80.2h1.8v1.8h-1.8zM444.5 76.9h1.8v1.8h-1.8zM438.4 63.0h1.8v1.8h-1.8zM429.6 81.5h1.8v1.8h-1.8zM437.2 78.9h1.8v1.8h-1.8zM403.8 100.9h1.8v1.8h-1.8zM424.9 76.7h1.8v1.8h-1.8zM445.3 77.5h1.8v1.8h-1.8zM439.1 91.4h1.8v1.8h-1.8zM438.5 81.4h1.8v1.8h-1.8zM446.3 81.7h1.8v1.8h-1.8zM439.2 89.5h1.8v1.8h-1.8zM421.7 92.1h1.8v1.8h-1.8zM420.5 71.2h1.8v1.8h-1.8zM446.1 79.6h1.8v1.8h-1.8zM444.0 92.1h1.8v1.8h-1.8zM440.7 80.0h1.8v1.8h-1.8zM450.7 104.7h1.8v1.8h-1.8zM417.3 100.3h1.8v1.8h-1.8zM427.5 82.4h1.8v1.8h-1.8zM441.0 88.7h1.8v1.8h-1.8zM433.6 75.1h1.8v1.8h-1.8zM432.2 81.1h1.8v1.8h-1.8zM438.9 75.8h1.8v1.8h-1.8zM443.7 88.2h1.8v1.8h-1.8zM452.6 87.2h1.8v1.8h-1.8zM450.0 77.8h1.8v1.8h-1.8zM434.7 78.1h1.8v1.8h-1.8zM433.4 76.1h1.8v1.8h-1.8zM425.3 73.7h1.8v1.8h-1.8zM449.0 78.9h1.8v1.8h-1.8zM461.0 101.4h1.8v1.8h-1.8zM446.5 89.6h1.8v1.8h-1.8zM447.3 89.0h1.8v1.8h-1.8zM430.5 84.1h1.8v1.8h-1.8zM443.9 89.9h1.8v1.8h-1.8zM453.6 87.8h1.8v1.8h-1.8zM416.4 61.6h1.8v1.8h-1.8zM416.7 92.8h1.8v1.8h-1.8zM423.8 81.0h1.8v1.8h-1.8zM435.0 69.7h1.8v1.8h-1.8zM438.0 73.8h1.8v1.8h-1.8zM436.3 75.0h1.8v1.8h-1.8zM443.6 79.6h1.8v1.8h-1.8zM426.5 77.5h1.8v1.8h-1.8zM430.5 88.1h1.8v1.8h-1.8zM446.8 78.0h1.8v1.8h-1.8zM425.3 90.3h1.8v1.8h-1.8zM447.0 90.3h1.8v1.8h-1.8zM441.4 76.2h1.8v1.8h-1.8zM449.1 96.6h1.8v1.8h-1.8z"/>
<path fill="#6b3a1c" d="M435.9 109.4h1.8v1.8h-1.8zM408.4 83.8h1.8v1.8h-1.8zM419.1 94.0h1.8v1.8h-1.8zM436.8 92.7h1.8v1.8h-1.8zM455.5 102.0h1.8v1.8h-1.8zM449.3 96.5h1.8v1.8h-1.8zM430.1 102.5h1.8v1.8h-1.8zM430.2 96.3h1.8v1.8h-1.8zM436.8 92.8h1.8v1.8h-1.8zM456.3 96.0h1.8v1.8h-1.8zM424.5 94.8h1.8v1.8h-1.8zM426.7 94.2h1.8v1.8h-1.8zM439.6 100.2h1.8v1.8h-1.8zM437.4 92.2h1.8v1.8h-1.8zM443.8 102.8h1.8v1.8h-1.8zM440.3 104.1h1.8v1.8h-1.8zM415.8 67.5h1.8v1.8h-1.8zM443.7 98.3h1.8v1.8h-1.8zM439.0 99.7h1.8v1.8h-1.8zM413.6 61.7h1.8v1.8h-1.8zM443.1 103.8h1.8v1.8h-1.8zM439.9 106.4h1.8v1.8h-1.8zM422.3 68.8h1.8v1.8h-1.8zM416.7 71.5h1.8v1.8h-1.8zM435.7 105.6h1.8v1.8h-1.8zM435.1 95.5h1.8v1.8h-1.8zM416.2 112.5h1.8v1.8h-1.8zM418.9 66.8h1.8v1.8h-1.8zM444.4 100.4h1.8v1.8h-1.8zM417.1 74.3h1.8v1.8h-1.8zM440.9 110.0h1.8v1.8h-1.8zM444.5 106.0h1.8v1.8h-1.8zM418.5 107.0h1.8v1.8h-1.8zM438.9 107.0h1.8v1.8h-1.8zM448.5 94.6h1.8v1.8h-1.8zM429.9 89.5h1.8v1.8h-1.8zM434.0 100.9h1.8v1.8h-1.8zM420.3 69.0h1.8v1.8h-1.8zM428.3 95.1h1.8v1.8h-1.8zM438.3 97.7h1.8v1.8h-1.8zM422.1 121.9h1.8v1.8h-1.8zM433.3 87.8h1.8v1.8h-1.8zM432.0 94.8h1.8v1.8h-1.8zM404.9 98.2h1.8v1.8h-1.8zM446.6 95.7h1.8v1.8h-1.8zM437.2 104.5h1.8v1.8h-1.8zM450.6 118.2h1.8v1.8h-1.8zM432.9 114.3h1.8v1.8h-1.8zM447.6 94.5h1.8v1.8h-1.8zM404.3 103.7h1.8v1.8h-1.8zM440.5 99.5h1.8v1.8h-1.8zM443.9 101.1h1.8v1.8h-1.8zM442.9 98.3h1.8v1.8h-1.8zM435.8 93.2h1.8v1.8h-1.8zM425.9 97.2h1.8v1.8h-1.8zM446.8 113.1h1.8v1.8h-1.8zM424.0 89.9h1.8v1.8h-1.8zM428.0 93.2h1.8v1.8h-1.8zM429.6 90.2h1.8v1.8h-1.8zM430.8 105.6h1.8v1.8h-1.8zM430.1 93.6h1.8v1.8h-1.8zM434.3 95.8h1.8v1.8h-1.8zM437.5 97.8h1.8v1.8h-1.8zM425.3 90.8h1.8v1.8h-1.8zM438.9 97.8h1.8v1.8h-1.8zM432.7 102.7h1.8v1.8h-1.8zM428.8 89.9h1.8v1.8h-1.8zM413.5 112.1h1.8v1.8h-1.8zM424.9 68.6h1.8v1.8h-1.8zM451.2 97.3h1.8v1.8h-1.8zM439.5 95.7h1.8v1.8h-1.8zM431.0 99.6h1.8v1.8h-1.8zM421.0 94.6h1.8v1.8h-1.8zM408.2 82.0h1.8v1.8h-1.8zM428.6 98.0h1.8v1.8h-1.8zM423.5 75.8h1.8v1.8h-1.8zM447.7 105.7h1.8v1.8h-1.8zM433.1 90.4h1.8v1.8h-1.8zM436.7 89.6h1.8v1.8h-1.8zM441.4 105.0h1.8v1.8h-1.8zM437.2 89.0h1.8v1.8h-1.8zM430.2 103.1h1.8v1.8h-1.8zM447.1 96.7h1.8v1.8h-1.8zM440.3 101.7h1.8v1.8h-1.8zM432.4 98.4h1.8v1.8h-1.8zM441.6 106.4h1.8v1.8h-1.8zM448.2 118.7h1.8v1.8h-1.8zM420.8 83.2h1.8v1.8h-1.8zM440.4 107.1h1.8v1.8h-1.8zM427.4 95.2h1.8v1.8h-1.8zM438.8 89.2h1.8v1.8h-1.8zM428.7 99.2h1.8v1.8h-1.8zM439.8 91.9h1.8v1.8h-1.8zM428.4 96.3h1.8v1.8h-1.8zM432.8 97.3h1.8v1.8h-1.8zM451.7 116.4h1.8v1.8h-1.8zM425.9 100.5h1.8v1.8h-1.8zM428.4 104.3h1.8v1.8h-1.8zM425.3 97.3h1.8v1.8h-1.8zM453.3 103.1h1.8v1.8h-1.8zM435.2 97.6h1.8v1.8h-1.8zM447.7 105.7h1.8v1.8h-1.8zM429.2 95.4h1.8v1.8h-1.8zM423.9 95.0h1.8v1.8h-1.8zM436.5 106.4h1.8v1.8h-1.8zM452.2 115.5h1.8v1.8h-1.8zM439.2 101.8h1.8v1.8h-1.8zM427.0 89.6h1.8v1.8h-1.8zM444.3 108.3h1.8v1.8h-1.8zM435.1 97.0h1.8v1.8h-1.8zM432.3 89.6h1.8v1.8h-1.8zM415.9 69.3h1.8v1.8h-1.8zM422.8 87.7h1.8v1.8h-1.8zM460.3 97.1h1.8v1.8h-1.8zM443.4 92.6h1.8v1.8h-1.8zM422.1 72.0h1.8v1.8h-1.8zM426.8 95.2h1.8v1.8h-1.8zM439.9 90.6h1.8v1.8h-1.8zM442.4 96.0h1.8v1.8h-1.8zM438.5 92.5h1.8v1.8h-1.8zM443.4 103.0h1.8v1.8h-1.8zM426.0 71.6h1.8v1.8h-1.8zM419.4 91.0h1.8v1.8h-1.8zM434.6 90.3h1.8v1.8h-1.8zM437.0 100.4h1.8v1.8h-1.8zM415.5 112.3h1.8v1.8h-1.8zM436.2 90.3h1.8v1.8h-1.8zM411.7 67.4h1.8v1.8h-1.8zM433.5 96.6h1.8v1.8h-1.8zM439.7 94.5h1.8v1.8h-1.8zM432.3 84.8h1.8v1.8h-1.8zM460.1 99.3h1.8v1.8h-1.8zM430.2 99.7h1.8v1.8h-1.8zM436.7 93.6h1.8v1.8h-1.8zM449.6 105.2h1.8v1.8h-1.8zM446.0 95.0h1.8v1.8h-1.8zM433.0 82.4h1.8v1.8h-1.8zM435.4 99.5h1.8v1.8h-1.8zM423.6 84.7h1.8v1.8h-1.8zM413.5 90.1h1.8v1.8h-1.8zM435.4 92.3h1.8v1.8h-1.8zM439.6 99.2h1.8v1.8h-1.8zM440.8 99.9h1.8v1.8h-1.8zM427.9 90.0h1.8v1.8h-1.8zM444.6 109.8h1.8v1.8h-1.8zM433.7 104.1h1.8v1.8h-1.8zM438.0 100.3h1.8v1.8h-1.8zM432.4 93.8h1.8v1.8h-1.8zM430.4 97.7h1.8v1.8h-1.8zM454.9 100.7h1.8v1.8h-1.8zM423.7 97.7h1.8v1.8h-1.8zM440.4 110.8h1.8v1.8h-1.8zM431.8 96.2h1.8v1.8h-1.8zM443.8 102.8h1.8v1.8h-1.8zM422.1 86.3h1.8v1.8h-1.8zM437.8 97.9h1.8v1.8h-1.8zM436.2 89.5h1.8v1.8h-1.8zM439.9 97.0h1.8v1.8h-1.8zM415.0 64.8h1.8v1.8h-1.8zM429.9 100.6h1.8v1.8h-1.8zM430.4 97.3h1.8v1.8h-1.8zM417.7 81.9h1.8v1.8h-1.8zM441.3 100.1h1.8v1.8h-1.8zM432.8 93.5h1.8v1.8h-1.8zM449.8 95.4h1.8v1.8h-1.8zM441.2 99.6h1.8v1.8h-1.8zM414.1 89.2h1.8v1.8h-1.8zM430.3 98.3h1.8v1.8h-1.8zM429.3 96.2h1.8v1.8h-1.8zM457.5 107.1h1.8v1.8h-1.8zM439.0 107.2h1.8v1.8h-1.8zM441.2 102.6h1.8v1.8h-1.8zM437.2 103.3h1.8v1.8h-1.8zM429.7 88.1h1.8v1.8h-1.8zM441.7 94.3h1.8v1.8h-1.8zM409.6 110.0h1.8v1.8h-1.8zM439.2 105.7h1.8v1.8h-1.8zM425.7 69.4h1.8v1.8h-1.8zM421.6 72.2h1.8v1.8h-1.8zM445.3 100.2h1.8v1.8h-1.8zM404.3 117.5h1.8v1.8h-1.8zM443.1 81.9h1.8v1.8h-1.8zM426.6 95.4h1.8v1.8h-1.8zM439.7 89.1h1.8v1.8h-1.8zM422.1 66.6h1.8v1.8h-1.8zM444.5 97.9h1.8v1.8h-1.8zM432.0 92.4h1.8v1.8h-1.8zM447.3 102.6h1.8v1.8h-1.8zM442.8 93.8h1.8v1.8h-1.8zM444.0 103.9h1.8v1.8h-1.8zM436.0 90.4h1.8v1.8h-1.8zM432.2 94.3h1.8v1.8h-1.8zM412.9 64.8h1.8v1.8h-1.8zM437.1 76.2h1.8v1.8h-1.8zM438.3 100.8h1.8v1.8h-1.8zM447.9 107.5h1.8v1.8h-1.8zM422.3 104.5h1.8v1.8h-1.8zM435.8 99.8h1.8v1.8h-1.8zM441.8 103.9h1.8v1.8h-1.8zM444.7 105.5h1.8v1.8h-1.8zM438.2 93.4h1.8v1.8h-1.8zM436.6 101.8h1.8v1.8h-1.8zM441.2 105.2h1.8v1.8h-1.8zM429.0 98.4h1.8v1.8h-1.8zM440.0 91.5h1.8v1.8h-1.8zM420.1 95.3h1.8v1.8h-1.8zM425.0 99.6h1.8v1.8h-1.8zM429.5 97.0h1.8v1.8h-1.8zM439.6 91.1h1.8v1.8h-1.8zM448.8 101.7h1.8v1.8h-1.8zM429.5 97.0h1.8v1.8h-1.8zM428.7 86.4h1.8v1.8h-1.8zM437.7 99.4h1.8v1.8h-1.8zM413.7 70.5h1.8v1.8h-1.8zM439.7 88.2h1.8v1.8h-1.8zM425.2 98.6h1.8v1.8h-1.8zM428.4 96.2h1.8v1.8h-1.8zM423.6 72.5h1.8v1.8h-1.8zM461.5 97.2h1.8v1.8h-1.8zM433.3 91.6h1.8v1.8h-1.8zM416.4 62.7h1.8v1.8h-1.8zM427.6 71.1h1.8v1.8h-1.8zM433.8 99.4h1.8v1.8h-1.8zM429.8 85.7h1.8v1.8h-1.8zM427.9 95.5h1.8v1.8h-1.8zM428.8 95.8h1.8v1.8h-1.8zM435.7 92.5h1.8v1.8h-1.8zM436.5 96.0h1.8v1.8h-1.8zM449.5 98.1h1.8v1.8h-1.8zM432.1 80.6h1.8v1.8h-1.8zM434.4 92.5h1.8v1.8h-1.8zM432.0 106.2h1.8v1.8h-1.8zM439.4 106.8h1.8v1.8h-1.8zM442.0 97.3h1.8v1.8h-1.8zM449.0 97.6h1.8v1.8h-1.8zM441.6 98.9h1.8v1.8h-1.8zM427.1 70.1h1.8v1.8h-1.8zM456.5 97.1h1.8v1.8h-1.8zM445.1 102.4h1.8v1.8h-1.8zM431.8 100.2h1.8v1.8h-1.8zM434.4 88.2h1.8v1.8h-1.8zM441.5 99.9h1.8v1.8h-1.8zM447.5 112.3h1.8v1.8h-1.8zM426.9 100.9h1.8v1.8h-1.8zM434.9 97.6h1.8v1.8h-1.8zM428.7 102.7h1.8v1.8h-1.8zM442.2 97.4h1.8v1.8h-1.8zM450.1 109.6h1.8v1.8h-1.8zM419.0 97.4h1.8v1.8h-1.8zM446.8 92.0h1.8v1.8h-1.8zM436.1 98.9h1.8v1.8h-1.8zM448.1 101.8h1.8v1.8h-1.8zM447.3 98.8h1.8v1.8h-1.8zM429.4 100.2h1.8v1.8h-1.8zM435.3 92.5h1.8v1.8h-1.8zM435.8 102.9h1.8v1.8h-1.8zM457.4 100.8h1.8v1.8h-1.8zM417.5 76.9h1.8v1.8h-1.8zM430.1 93.8h1.8v1.8h-1.8zM447.1 104.0h1.8v1.8h-1.8zM451.9 103.0h1.8v1.8h-1.8zM426.2 106.1h1.8v1.8h-1.8zM433.4 91.6h1.8v1.8h-1.8zM443.2 99.5h1.8v1.8h-1.8zM434.9 96.8h1.8v1.8h-1.8zM425.1 101.1h1.8v1.8h-1.8zM413.2 61.8h1.8v1.8h-1.8zM443.3 104.1h1.8v1.8h-1.8zM415.9 108.5h1.8v1.8h-1.8zM439.2 101.2h1.8v1.8h-1.8zM439.0 99.8h1.8v1.8h-1.8zM427.1 103.9h1.8v1.8h-1.8zM429.7 97.1h1.8v1.8h-1.8zM440.7 100.9h1.8v1.8h-1.8zM435.6 109.6h1.8v1.8h-1.8zM435.1 90.1h1.8v1.8h-1.8zM441.9 94.1h1.8v1.8h-1.8zM438.1 100.1h1.8v1.8h-1.8zM462.9 100.8h1.8v1.8h-1.8zM419.5 67.5h1.8v1.8h-1.8zM438.3 102.0h1.8v1.8h-1.8zM452.6 108.7h1.8v1.8h-1.8zM438.4 92.9h1.8v1.8h-1.8zM431.5 98.6h1.8v1.8h-1.8zM437.4 93.9h1.8v1.8h-1.8zM425.4 79.7h1.8v1.8h-1.8zM435.9 90.7h1.8v1.8h-1.8zM416.5 84.2h1.8v1.8h-1.8zM453.1 105.0h1.8v1.8h-1.8zM416.7 76.8h1.8v1.8h-1.8zM417.5 68.0h1.8v1.8h-1.8zM442.0 93.4h1.8v1.8h-1.8zM444.5 101.1h1.8v1.8h-1.8zM424.4 85.0h1.8v1.8h-1.8zM427.4 92.3h1.8v1.8h-1.8zM431.1 87.5h1.8v1.8h-1.8zM434.8 106.0h1.8v1.8h-1.8zM427.3 82.5h1.8v1.8h-1.8zM426.3 97.4h1.8v1.8h-1.8zM427.1 82.1h1.8v1.8h-1.8zM434.9 94.2h1.8v1.8h-1.8zM428.6 102.1h1.8v1.8h-1.8zM436.6 98.3h1.8v1.8h-1.8zM429.3 102.4h1.8v1.8h-1.8zM431.2 103.6h1.8v1.8h-1.8zM440.2 100.2h1.8v1.8h-1.8zM426.9 104.2h1.8v1.8h-1.8zM442.1 101.1h1.8v1.8h-1.8zM444.7 105.0h1.8v1.8h-1.8zM429.9 97.1h1.8v1.8h-1.8zM441.3 103.6h1.8v1.8h-1.8zM429.3 99.8h1.8v1.8h-1.8zM428.1 97.2h1.8v1.8h-1.8zM401.2 105.0h1.8v1.8h-1.8zM440.7 96.9h1.8v1.8h-1.8zM431.8 100.7h1.8v1.8h-1.8zM430.4 99.7h1.8v1.8h-1.8zM429.1 87.9h1.8v1.8h-1.8zM420.0 92.5h1.8v1.8h-1.8zM435.2 103.5h1.8v1.8h-1.8zM413.3 64.6h1.8v1.8h-1.8zM445.2 102.0h1.8v1.8h-1.8zM430.4 96.7h1.8v1.8h-1.8zM429.4 102.9h1.8v1.8h-1.8zM422.5 79.5h1.8v1.8h-1.8zM427.5 94.6h1.8v1.8h-1.8zM443.8 104.8h1.8v1.8h-1.8zM439.4 95.6h1.8v1.8h-1.8zM439.5 104.3h1.8v1.8h-1.8zM434.5 103.4h1.8v1.8h-1.8zM432.8 90.2h1.8v1.8h-1.8zM421.3 99.0h1.8v1.8h-1.8zM459.5 103.8h1.8v1.8h-1.8zM445.0 110.8h1.8v1.8h-1.8zM431.4 83.0h1.8v1.8h-1.8zM426.3 88.3h1.8v1.8h-1.8zM441.1 92.8h1.8v1.8h-1.8zM421.3 67.7h1.8v1.8h-1.8zM433.2 96.0h1.8v1.8h-1.8zM419.8 64.8h1.8v1.8h-1.8zM446.3 103.9h1.8v1.8h-1.8zM442.2 94.8h1.8v1.8h-1.8zM437.5 95.2h1.8v1.8h-1.8zM438.1 93.9h1.8v1.8h-1.8zM418.1 85.8h1.8v1.8h-1.8zM441.6 97.3h1.8v1.8h-1.8zM441.2 100.9h1.8v1.8h-1.8zM444.2 97.1h1.8v1.8h-1.8zM428.1 93.0h1.8v1.8h-1.8zM436.9 100.7h1.8v1.8h-1.8zM435.2 103.0h1.8v1.8h-1.8zM431.4 97.5h1.8v1.8h-1.8zM445.2 105.6h1.8v1.8h-1.8zM439.1 97.4h1.8v1.8h-1.8zM428.8 99.1h1.8v1.8h-1.8zM434.8 101.1h1.8v1.8h-1.8zM425.3 92.6h1.8v1.8h-1.8zM437.2 92.9h1.8v1.8h-1.8zM448.2 108.5h1.8v1.8h-1.8zM431.1 105.7h1.8v1.8h-1.8zM444.9 103.0h1.8v1.8h-1.8zM426.1 66.7h1.8v1.8h-1.8zM455.5 104.5h1.8v1.8h-1.8zM436.3 87.9h1.8v1.8h-1.8zM430.1 87.9h1.8v1.8h-1.8zM415.7 68.7h1.8v1.8h-1.8zM440.5 105.6h1.8v1.8h-1.8zM428.6 93.7h1.8v1.8h-1.8zM435.0 91.2h1.8v1.8h-1.8zM412.8 63.9h1.8v1.8h-1.8zM444.1 98.8h1.8v1.8h-1.8zM423.5 96.6h1.8v1.8h-1.8zM422.9 73.8h1.8v1.8h-1.8zM425.5 90.2h1.8v1.8h-1.8zM444.7 92.2h1.8v1.8h-1.8zM445.5 100.9h1.8v1.8h-1.8zM448.7 93.5h1.8v1.8h-1.8zM430.6 83.8h1.8v1.8h-1.8zM429.1 85.3h1.8v1.8h-1.8zM429.4 88.5h1.8v1.8h-1.8zM429.5 92.6h1.8v1.8h-1.8zM429.1 90.8h1.8v1.8h-1.8zM422.6 80.8h1.8v1.8h-1.8z"/>
<polyline points="396.8,43.7 396.8,130.4 482.4,130.4" fill="none" stroke="#4d4d4d" stroke-width="1.3"/>
<line x1="396.8" y1="43.7" x2="482.4" y2="43.7" stroke="#4d4d4d" stroke-width="1.3"/>
<line x1="395.0" y1="57.3" x2="396.8" y2="57.3" stroke="#4d4d4d" stroke-width="0.8"/>
<text x="392.8" y="59.9" font-size="7.3" fill="#222" text-anchor="end" stroke="#222" stroke-width="0.12">0.05</text>
<line x1="395.0" y1="81.1" x2="396.8" y2="81.1" stroke="#4d4d4d" stroke-width="0.8"/>
<text x="392.8" y="83.7" font-size="7.3" fill="#222" text-anchor="end" stroke="#222" stroke-width="0.12">0.00</text>
<line x1="395.0" y1="105" x2="396.8" y2="105" stroke="#4d4d4d" stroke-width="0.8"/>
<text x="392.8" y="107.6" font-size="7.3" fill="#222" text-anchor="end" stroke="#222" stroke-width="0.12">−0.05</text>
<line x1="395.0" y1="129.7" x2="396.8" y2="129.7" stroke="#4d4d4d" stroke-width="0.8"/>
<text x="392.8" y="132.3" font-size="7.3" fill="#222" text-anchor="end" stroke="#222" stroke-width="0.12">−0.10</text>
<line x1="418" y1="130.4" x2="418" y2="132.20000000000002" stroke="#4d4d4d" stroke-width="0.8"/>
<text x="418" y="138.2" font-size="7.3" fill="#222" text-anchor="middle" stroke="#222" stroke-width="0.12">−0.05</text>
<line x1="444" y1="130.4" x2="444" y2="132.20000000000002" stroke="#4d4d4d" stroke-width="0.8"/>
<text x="444" y="138.2" font-size="7.3" fill="#222" text-anchor="middle" stroke="#222" stroke-width="0.12">0.00</text>
<line x1="465.3" y1="130.4" x2="465.3" y2="132.20000000000002" stroke="#4d4d4d" stroke-width="0.8"/>
<text x="465.3" y="138.2" font-size="7.3" fill="#222" text-anchor="middle" stroke="#222" stroke-width="0.12">0.05</text>
<rect x="198.4" y="39.7" width="284" height="289.1" fill="none" stroke="#4d4d4d" stroke-width="1.4"/>
<line x1="198.4" y1="328.8" x2="198.4" y2="331.3" stroke="#4d4d4d" stroke-width="1"/>
<text x="198.9" y="342.8" font-size="9.6" fill="#222" text-anchor="middle" stroke="#222" stroke-width="0.12">−0.70</text>
<line x1="263.3" y1="328.8" x2="263.3" y2="331.3" stroke="#4d4d4d" stroke-width="1"/>
<text x="263.8" y="342.8" font-size="9.6" fill="#222" text-anchor="middle" stroke="#222" stroke-width="0.12">−0.35</text>
<line x1="328.1" y1="328.8" x2="328.1" y2="331.3" stroke="#4d4d4d" stroke-width="1"/>
<text x="328.6" y="342.8" font-size="9.6" fill="#222" text-anchor="middle" stroke="#222" stroke-width="0.12">0.00</text>
<line x1="393.4" y1="328.8" x2="393.4" y2="331.3" stroke="#4d4d4d" stroke-width="1"/>
<text x="393.9" y="342.8" font-size="9.6" fill="#222" text-anchor="middle" stroke="#222" stroke-width="0.12">0.35</text>
<line x1="463.1" y1="328.8" x2="463.1" y2="331.3" stroke="#4d4d4d" stroke-width="1"/>
<text x="463.6" y="342.8" font-size="9.6" fill="#222" text-anchor="middle" stroke="#222" stroke-width="0.12">0.70</text>
<line x1="195.9" y1="71.1" x2="198.4" y2="71.1" stroke="#4d4d4d" stroke-width="1"/>
<text x="193.5" y="74.5" font-size="9.6" fill="#222" text-anchor="end" stroke="#222" stroke-width="0.12">0.70</text>
<line x1="195.9" y1="134.3" x2="198.4" y2="134.3" stroke="#4d4d4d" stroke-width="1"/>
<text x="193.5" y="137.7" font-size="9.6" fill="#222" text-anchor="end" stroke="#222" stroke-width="0.12">0.35</text>
<line x1="195.9" y1="197.8" x2="198.4" y2="197.8" stroke="#4d4d4d" stroke-width="1"/>
<text x="193.5" y="201.2" font-size="9.6" fill="#222" text-anchor="end" stroke="#222" stroke-width="0.12">0.00</text>
<line x1="195.9" y1="260.6" x2="198.4" y2="260.6" stroke="#4d4d4d" stroke-width="1"/>
<text x="193.5" y="264" font-size="9.6" fill="#222" text-anchor="end" stroke="#222" stroke-width="0.12">−0.35</text>
<line x1="195.9" y1="319.7" x2="198.4" y2="319.7" stroke="#4d4d4d" stroke-width="1"/>
<text x="193.5" y="323.1" font-size="9.6" fill="#222" text-anchor="end" stroke="#222" stroke-width="0.12">−0.70</text>
<text x="341.3" y="359.5" font-size="13.8" fill="#000" text-anchor="middle" stroke="#000" stroke-width="0.12">RDA1 38.58%</text>
<text transform="translate(167,187) rotate(-90)" x="0" y="0" font-size="13.8" fill="#000" stroke="#000" stroke-width="0.12" text-anchor="middle">RDA2 25.92%</text>
<text x="506.6" y="147.8" font-size="13.4" fill="#000" text-anchor="start" stroke="#000" stroke-width="0.12">Layers</text>
<rect x="518.2" y="165" width="7.4" height="7.2" fill="#6e3b1f"/>
<circle cx="521.9" cy="197.3" r="3.9" fill="#b97a45"/>
<polygon points="517,229.8 526.6,229.8 521.8,222.4" fill="#e0b77f"/>
<text x="541.2" y="171.6" font-size="11" fill="#000" text-anchor="start" stroke="#000" stroke-width="0.12">O</text>
<text x="541.6" y="200.8" font-size="11" fill="#000" text-anchor="start" stroke="#000" stroke-width="0.12">A</text>
<text x="541.6" y="229" font-size="11" fill="#000" text-anchor="start" stroke="#000" stroke-width="0.12">C</text>
<text x="0.6" y="369.5" font-size="22" fill="#000" text-anchor="start" stroke="#000" stroke-width="0.12">(b)</text>
<rect x="41.2" y="367.4" width="203.4" height="23.1" fill="#fff" stroke="#707070" stroke-width="1"/>
<text x="143" y="384.4" font-size="15" fill="#1a1a1a" text-anchor="middle" stroke="#1a1a1a" stroke-width="0.12">O Horizon</text>
<text transform="translate(48.98,457.3) rotate(-90)" font-size="11.7" fill="#1a1a1a" stroke="#1a1a1a" stroke-width="0.12">Altitude</text>
<text transform="translate(65.92,457.3) rotate(-90)" font-size="11.7" fill="#1a1a1a" stroke="#1a1a1a" stroke-width="0.12">Latitude</text>
<text transform="translate(82.88,457.3) rotate(-90)" font-size="11.7" fill="#1a1a1a" stroke="#1a1a1a" stroke-width="0.12">Longitude</text>
<text transform="translate(99.83,457.3) rotate(-90)" font-size="11.7" fill="#1a1a1a" stroke="#1a1a1a" stroke-width="0.12">MAP</text>
<text transform="translate(116.77,457.3) rotate(-90)" font-size="11.7" fill="#1a1a1a" stroke="#1a1a1a" stroke-width="0.12">MAT</text>
<text transform="translate(133.72,457.3) rotate(-90)" font-size="11.7" fill="#1a1a1a" stroke="#1a1a1a" stroke-width="0.12">AI</text>
<text transform="translate(150.67,457.3) rotate(-90)" font-size="11.7" fill="#1a1a1a" stroke="#1a1a1a" stroke-width="0.12">N deposition</text>
<text transform="translate(167.62,457.3) rotate(-90)" font-size="11.7" fill="#1a1a1a" stroke="#1a1a1a" stroke-width="0.12">NDVI</text>
<text transform="translate(184.57,457.3) rotate(-90)" font-size="11.7" fill="#1a1a1a" stroke="#1a1a1a" stroke-width="0.12">BD</text>
<text transform="translate(201.52,457.3) rotate(-90)" font-size="11.7" fill="#1a1a1a" stroke="#1a1a1a" stroke-width="0.12">Moisture</text>
<text transform="translate(218.47,457.3) rotate(-90)" font-size="11.7" fill="#1a1a1a" stroke="#1a1a1a" stroke-width="0.12">pH</text>
<text transform="translate(235.42,457.3) rotate(-90)" font-size="11.7" fill="#1a1a1a" stroke="#1a1a1a" stroke-width="0.12">CIA</text>
<g stroke="#d3d3d3" stroke-width="1" fill="none">
<line x1="36.3" y1="463.9" x2="239.7" y2="463.9"/>
<line x1="36.3" y1="480.83" x2="239.7" y2="480.83"/>
<line x1="36.3" y1="497.76" x2="239.7" y2="497.76"/>
<line x1="36.3" y1="514.69" x2="239.7" y2="514.69"/>
<line x1="36.3" y1="531.62" x2="239.7" y2="531.62"/>
<line x1="36.3" y1="548.55" x2="239.7" y2="548.55"/>
<line x1="36.3" y1="565.48" x2="239.7" y2="565.48"/>
<line x1="36.3" y1="582.41" x2="239.7" y2="582.41"/>
<line x1="36.3" y1="599.34" x2="239.7" y2="599.34"/>
<line x1="36.3" y1="616.27" x2="239.7" y2="616.27"/>
<line x1="36.3" y1="633.2" x2="239.7" y2="633.2"/>
<line x1="36.3" y1="650.13" x2="239.7" y2="650.13"/>
<line x1="36.3" y1="667.06" x2="239.7" y2="667.06"/>
<line x1="36.3" y1="683.99" x2="239.7" y2="683.99"/>
<line x1="36.3" y1="700.92" x2="239.7" y2="700.92"/>
<line x1="36.3" y1="717.85" x2="239.7" y2="717.85"/>
<line x1="36.3" y1="734.78" x2="239.7" y2="734.78"/>
<line x1="36.3" y1="751.71" x2="239.7" y2="751.71"/>
<line x1="36.3" y1="768.64" x2="239.7" y2="768.64"/>
<line x1="36.3" y1="785.57" x2="239.7" y2="785.57"/>
<line x1="36.3" y1="802.5" x2="239.7" y2="802.5"/>
<line x1="36.3" y1="819.43" x2="239.7" y2="819.43"/>
<line x1="36.3" y1="836.36" x2="239.7" y2="836.36"/>
<line x1="36.3" y1="853.29" x2="239.7" y2="853.29"/>
<line x1="36.3" y1="870.22" x2="239.7" y2="870.22"/>
<line x1="36.3" y1="463.9" x2="36.3" y2="870.22"/>
<line x1="53.25" y1="463.9" x2="53.25" y2="870.22"/>
<line x1="70.2" y1="463.9" x2="70.2" y2="870.22"/>
<line x1="87.15" y1="463.9" x2="87.15" y2="870.22"/>
<line x1="104.1" y1="463.9" x2="104.1" y2="870.22"/>
<line x1="121.05" y1="463.9" x2="121.05" y2="870.22"/>
<line x1="138" y1="463.9" x2="138" y2="870.22"/>
<line x1="154.95" y1="463.9" x2="154.95" y2="870.22"/>
<line x1="171.9" y1="463.9" x2="171.9" y2="870.22"/>
<line x1="188.85" y1="463.9" x2="188.85" y2="870.22"/>
<line x1="205.8" y1="463.9" x2="205.8" y2="870.22"/>
<line x1="222.75" y1="463.9" x2="222.75" y2="870.22"/>
<line x1="239.7" y1="463.9" x2="239.7" y2="870.22"/>
</g>
<circle cx="44.77" cy="472.36" r="4.24" fill="#acd2e5"/>
<circle cx="61.72" cy="472.36" r="4.24" fill="#acd2e5"/>
<circle cx="78.67" cy="472.36" r="2.09" fill="#f8fbfd"/>
<circle cx="95.62" cy="472.36" r="3.13" fill="#fde2d3"/>
<circle cx="112.57" cy="472.36" r="5.37" fill="#ed9475"/>
<circle cx="129.52" cy="472.36" r="1.92" fill="#fbfdfe"/>
<circle cx="146.47" cy="472.36" r="3.63" fill="#fcd3bc"/>
<circle cx="163.43" cy="472.36" r="2.91" fill="#fee8db"/>
<circle cx="180.38" cy="472.36" r="4.98" fill="#f2a17f"/>
<circle cx="197.32" cy="472.36" r="5.8" fill="#72b1d3"/>
<circle cx="214.27" cy="472.36" r="3.13" fill="#fde2d3"/>
<circle cx="231.22" cy="472.36" r="2.91" fill="#e2eef5"/>
<circle cx="44.77" cy="489.29" r="2.53" fill="#ecf4f9"/>
<circle cx="61.72" cy="489.29" r="5.62" fill="#77b4d5"/>
<circle cx="78.67" cy="489.29" r="4.07" fill="#b3d6e7"/>
<circle cx="95.62" cy="489.29" r="4.47" fill="#f6b293"/>
<circle cx="112.57" cy="489.29" r="6.08" fill="#e58268"/>
<circle cx="129.52" cy="489.29" r="3.9" fill="#fac8af"/>
<circle cx="146.47" cy="489.29" r="3.63" fill="#fcd3bc"/>
<circle cx="163.43" cy="489.29" r="3.13" fill="#fde2d3"/>
<circle cx="180.38" cy="489.29" r="5.37" fill="#ed9475"/>
<circle cx="197.32" cy="489.29" r="3.63" fill="#c7e0ed"/>
<circle cx="214.27" cy="489.29" r="5.5" fill="#7bb6d6"/>
<circle cx="231.22" cy="489.29" r="3.63" fill="#fcd3bc"/>
<circle cx="44.77" cy="506.22" r="3.34" fill="#fdddca"/>
<circle cx="61.72" cy="506.22" r="2.53" fill="#fef0e8"/>
<circle cx="78.67" cy="506.22" r="3.13" fill="#daeaf3"/>
<circle cx="95.62" cy="506.22" r="2.53" fill="#fef0e8"/>
<circle cx="112.57" cy="506.22" r="3.63" fill="#c7e0ed"/>
<circle cx="129.52" cy="506.22" r="3.34" fill="#fdddca"/>
<circle cx="146.47" cy="506.22" r="4.69" fill="#99c8e0"/>
<circle cx="163.43" cy="506.22" r="3.34" fill="#fdddca"/>
<circle cx="180.38" cy="506.22" r="3.63" fill="#c7e0ed"/>
<circle cx="197.32" cy="506.22" r="5.18" fill="#ef9a7a"/>
<circle cx="214.27" cy="506.22" r="3.9" fill="#bbdaea"/>
<circle cx="231.22" cy="506.22" r="4.98" fill="#f2a17f"/>
<circle cx="44.77" cy="523.15" r="2.66" fill="#e9f2f8"/>
<circle cx="61.72" cy="523.15" r="5.62" fill="#77b4d5"/>
<circle cx="78.67" cy="523.15" r="2.66" fill="#e9f2f8"/>
<circle cx="95.62" cy="523.15" r="6.08" fill="#e58268"/>
<circle cx="112.57" cy="523.15" r="5.37" fill="#ed9475"/>
<circle cx="129.52" cy="523.15" r="5.97" fill="#e68569"/>
<circle cx="163.43" cy="523.15" r="5.62" fill="#ea8d70"/>
<circle cx="180.38" cy="523.15" r="5.5" fill="#eb9172"/>
<circle cx="197.32" cy="523.15" r="2.53" fill="#ecf4f9"/>
<circle cx="214.27" cy="523.15" r="7.49" fill="#2e78b5"/>
<circle cx="231.22" cy="523.15" r="5.37" fill="#ed9475"/>
<circle cx="44.77" cy="540.09" r="4.07" fill="#b3d6e7"/>
<circle cx="61.72" cy="540.09" r="4.24" fill="#acd2e5"/>
<circle cx="78.67" cy="540.09" r="2.91" fill="#fee8db"/>
<circle cx="95.62" cy="540.09" r="5.62" fill="#ea8d70"/>
<circle cx="112.57" cy="540.09" r="3.63" fill="#fcd3bc"/>
<circle cx="129.52" cy="540.09" r="5.62" fill="#ea8d70"/>
<circle cx="146.47" cy="540.09" r="3.9" fill="#bbdaea"/>
<circle cx="163.43" cy="540.09" r="5.37" fill="#ed9475"/>
<circle cx="180.38" cy="540.09" r="3.9" fill="#fac8af"/>
<circle cx="197.32" cy="540.09" r="3.13" fill="#fde2d3"/>
<circle cx="214.27" cy="540.09" r="7.11" fill="#3c89be"/>
<circle cx="231.22" cy="540.09" r="5.37" fill="#ed9475"/>
<circle cx="44.77" cy="557.01" r="2.09" fill="#f8fbfd"/>
<circle cx="61.72" cy="557.01" r="5.8" fill="#72b1d3"/>
<circle cx="78.67" cy="557.01" r="4.07" fill="#b3d6e7"/>
<circle cx="95.62" cy="557.01" r="6.19" fill="#e37e64"/>
<circle cx="112.57" cy="557.01" r="5.62" fill="#ea8d70"/>
<circle cx="129.52" cy="557.01" r="5.97" fill="#e68569"/>
<circle cx="163.43" cy="557.01" r="6.51" fill="#dd715a"/>
<circle cx="180.38" cy="557.01" r="4.47" fill="#f6b293"/>
<circle cx="197.32" cy="557.01" r="2.53" fill="#fef0e8"/>
<circle cx="214.27" cy="557.01" r="5.5" fill="#7bb6d6"/>
<circle cx="231.22" cy="557.01" r="7.58" fill="#bc2d35"/>
<circle cx="44.77" cy="573.94" r="2.39" fill="#f0f7fa"/>
<circle cx="61.72" cy="573.94" r="3.34" fill="#fdddca"/>
<circle cx="78.67" cy="573.94" r="3.34" fill="#fdddca"/>
<circle cx="95.62" cy="573.94" r="2.09" fill="#fff9f6"/>
<circle cx="112.57" cy="573.94" r="4.69" fill="#99c8e0"/>
<circle cx="129.52" cy="573.94" r="3.34" fill="#fdddca"/>
<circle cx="146.47" cy="573.94" r="4.47" fill="#a2cde2"/>
<circle cx="163.43" cy="573.94" r="2.66" fill="#feeee4"/>
<circle cx="180.38" cy="573.94" r="4.47" fill="#a2cde2"/>
<circle cx="197.32" cy="573.94" r="5.04" fill="#f19f7d"/>
<circle cx="214.27" cy="573.94" r="3.63" fill="#c7e0ed"/>
<circle cx="231.22" cy="573.94" r="2.24" fill="#fff6f1"/>
<circle cx="44.77" cy="590.88" r="4.07" fill="#f9c1a6"/>
<circle cx="61.72" cy="590.88" r="6.72" fill="#4b98c6"/>
<circle cx="78.67" cy="590.88" r="5.8" fill="#72b1d3"/>
<circle cx="95.62" cy="590.88" r="5.8" fill="#e8896d"/>
<circle cx="112.57" cy="590.88" r="6.36" fill="#e0785f"/>
<circle cx="129.52" cy="590.88" r="5.37" fill="#ed9475"/>
<circle cx="146.47" cy="590.88" r="4.07" fill="#f9c1a6"/>
<circle cx="163.43" cy="590.88" r="5.5" fill="#eb9172"/>
<circle cx="180.38" cy="590.88" r="5.62" fill="#ea8d70"/>
<circle cx="197.32" cy="590.88" r="2.66" fill="#e9f2f8"/>
<circle cx="214.27" cy="590.88" r="5.62" fill="#77b4d5"/>
<circle cx="231.22" cy="590.88" r="5.18" fill="#ef9a7a"/>
<circle cx="44.77" cy="607.8" r="4.07" fill="#f9c1a6"/>
<circle cx="61.72" cy="607.8" r="4.47" fill="#a2cde2"/>
<circle cx="78.67" cy="607.8" r="5.5" fill="#7bb6d6"/>
<circle cx="95.62" cy="607.8" r="3.34" fill="#fdddca"/>
<circle cx="112.57" cy="607.8" r="3.34" fill="#fdddca"/>
<circle cx="129.52" cy="607.8" r="2.66" fill="#feeee4"/>
<circle cx="146.47" cy="607.8" r="4.24" fill="#acd2e5"/>
<circle cx="163.43" cy="607.8" r="3.63" fill="#fcd3bc"/>
<circle cx="180.38" cy="607.8" r="4.07" fill="#f9c1a6"/>
<circle cx="214.27" cy="607.8" r="2.39" fill="#f0f7fa"/>
<circle cx="44.77" cy="624.74" r="4.07" fill="#b3d6e7"/>
<circle cx="61.72" cy="624.74" r="3.34" fill="#d4e7f1"/>
<circle cx="78.67" cy="624.74" r="3.13" fill="#fde2d3"/>
<circle cx="95.62" cy="624.74" r="5.37" fill="#ed9475"/>
<circle cx="112.57" cy="624.74" r="2.24" fill="#fff6f1"/>
<circle cx="129.52" cy="624.74" r="5.5" fill="#eb9172"/>
<circle cx="146.47" cy="624.74" r="3.34" fill="#d4e7f1"/>
<circle cx="163.43" cy="624.74" r="4.07" fill="#f9c1a6"/>
<circle cx="180.38" cy="624.74" r="2.39" fill="#fef3ed"/>
<circle cx="197.32" cy="624.74" r="2.91" fill="#fee8db"/>
<circle cx="214.27" cy="624.74" r="6.62" fill="#519cc8"/>
<circle cx="231.22" cy="624.74" r="3.34" fill="#fdddca"/>
<circle cx="44.77" cy="641.66" r="4.24" fill="#acd2e5"/>
<circle cx="61.72" cy="641.66" r="1.92" fill="#fbfdfe"/>
<circle cx="78.67" cy="641.66" r="3.13" fill="#fde2d3"/>
<circle cx="95.62" cy="641.66" r="3.34" fill="#fdddca"/>
<circle cx="112.57" cy="641.66" r="2.91" fill="#e2eef5"/>
<circle cx="129.52" cy="641.66" r="3.63" fill="#fcd3bc"/>
<circle cx="146.47" cy="641.66" r="5.18" fill="#86bdda"/>
<circle cx="163.43" cy="641.66" r="3.34" fill="#fdddca"/>
<circle cx="180.38" cy="641.66" r="3.34" fill="#fdddca"/>
<circle cx="197.32" cy="641.66" r="2.39" fill="#f0f7fa"/>
<circle cx="214.27" cy="641.66" r="6.62" fill="#519cc8"/>
<circle cx="231.22" cy="641.66" r="2.66" fill="#e9f2f8"/>
<circle cx="44.77" cy="658.6" r="2.09" fill="#f8fbfd"/>
<circle cx="61.72" cy="658.6" r="5.62" fill="#77b4d5"/>
<circle cx="78.67" cy="658.6" r="5.18" fill="#86bdda"/>
<circle cx="95.62" cy="658.6" r="4.24" fill="#f8bb9e"/>
<circle cx="112.57" cy="658.6" r="4.69" fill="#f5ab8a"/>
<circle cx="129.52" cy="658.6" r="3.63" fill="#fcd3bc"/>
<circle cx="146.47" cy="658.6" r="4.07" fill="#b3d6e7"/>
<circle cx="163.43" cy="658.6" r="4.24" fill="#f8bb9e"/>
<circle cx="180.38" cy="658.6" r="6.08" fill="#e58268"/>
<circle cx="197.32" cy="658.6" r="3.9" fill="#bbdaea"/>
<circle cx="214.27" cy="658.6" r="5.62" fill="#77b4d5"/>
<circle cx="231.22" cy="658.6" r="4.24" fill="#f8bb9e"/>
<circle cx="44.77" cy="675.52" r="2.91" fill="#fee8db"/>
<circle cx="61.72" cy="675.52" r="4.07" fill="#f9c1a6"/>
<circle cx="78.67" cy="675.52" r="2.09" fill="#fff9f6"/>
<circle cx="95.62" cy="675.52" r="2.53" fill="#ecf4f9"/>
<circle cx="112.57" cy="675.52" r="5.18" fill="#86bdda"/>
<circle cx="129.52" cy="675.52" r="2.39" fill="#fef3ed"/>
<circle cx="146.47" cy="675.52" r="4.84" fill="#94c6de"/>
<circle cx="163.43" cy="675.52" r="2.09" fill="#fff9f6"/>
<circle cx="180.38" cy="675.52" r="4.84" fill="#94c6de"/>
<circle cx="197.32" cy="675.52" r="5.5" fill="#eb9172"/>
<circle cx="214.27" cy="675.52" r="2.66" fill="#e9f2f8"/>
<circle cx="231.22" cy="675.52" r="3.34" fill="#fdddca"/>
<circle cx="44.77" cy="692.45" r="4.69" fill="#f5ab8a"/>
<circle cx="61.72" cy="692.45" r="6.62" fill="#519cc8"/>
<circle cx="78.67" cy="692.45" r="5.62" fill="#77b4d5"/>
<circle cx="95.62" cy="692.45" r="6.19" fill="#e37e64"/>
<circle cx="112.57" cy="692.45" r="5.62" fill="#ea8d70"/>
<circle cx="129.52" cy="692.45" r="6.08" fill="#e58268"/>
<circle cx="163.43" cy="692.45" r="6.08" fill="#e58268"/>
<circle cx="180.38" cy="692.45" r="4.69" fill="#f5ab8a"/>
<circle cx="197.32" cy="692.45" r="4.07" fill="#f9c1a6"/>
<circle cx="214.27" cy="692.45" r="6.36" fill="#5ea4cc"/>
<circle cx="231.22" cy="692.45" r="6.72" fill="#d96753"/>
<circle cx="44.77" cy="709.38" r="2.91" fill="#fee8db"/>
<circle cx="61.72" cy="709.38" r="2.53" fill="#ecf4f9"/>
<circle cx="78.67" cy="709.38" r="4.07" fill="#b3d6e7"/>
<circle cx="95.62" cy="709.38" r="3.34" fill="#fdddca"/>
<circle cx="112.57" cy="709.38" r="2.39" fill="#f0f7fa"/>
<circle cx="129.52" cy="709.38" r="4.07" fill="#f9c1a6"/>
<circle cx="146.47" cy="709.38" r="4.24" fill="#acd2e5"/>
<circle cx="163.43" cy="709.38" r="4.07" fill="#f9c1a6"/>
<circle cx="180.38" cy="709.38" r="2.09" fill="#fff9f6"/>
<circle cx="197.32" cy="709.38" r="4.47" fill="#f6b293"/>
<circle cx="214.27" cy="709.38" r="4.47" fill="#a2cde2"/>
<circle cx="231.22" cy="709.38" r="5.5" fill="#eb9172"/>
<circle cx="44.77" cy="726.32" r="6.51" fill="#569fca"/>
<circle cx="61.72" cy="726.32" r="3.9" fill="#fac8af"/>
<circle cx="78.67" cy="726.32" r="4.84" fill="#f4a684"/>
<circle cx="95.62" cy="726.32" r="3.9" fill="#bbdaea"/>
<circle cx="112.57" cy="726.32" r="3.13" fill="#daeaf3"/>
<circle cx="129.52" cy="726.32" r="4.47" fill="#a2cde2"/>
<circle cx="146.47" cy="726.32" r="5.37" fill="#7fb9d7"/>
<circle cx="163.43" cy="726.32" r="3.9" fill="#bbdaea"/>
<circle cx="180.38" cy="726.32" r="3.34" fill="#fdddca"/>
<circle cx="197.32" cy="726.32" r="5.18" fill="#86bdda"/>
<circle cx="214.27" cy="726.32" r="2.39" fill="#f0f7fa"/>
<circle cx="231.22" cy="726.32" r="2.91" fill="#e2eef5"/>
<circle cx="44.77" cy="743.24" r="3.34" fill="#d4e7f1"/>
<circle cx="61.72" cy="743.24" r="4.24" fill="#acd2e5"/>
<circle cx="78.67" cy="743.24" r="2.39" fill="#f0f7fa"/>
<circle cx="95.62" cy="743.24" r="5.18" fill="#ef9a7a"/>
<circle cx="112.57" cy="743.24" r="3.34" fill="#fdddca"/>
<circle cx="129.52" cy="743.24" r="5.18" fill="#ef9a7a"/>
<circle cx="146.47" cy="743.24" r="3.63" fill="#c7e0ed"/>
<circle cx="163.43" cy="743.24" r="5.18" fill="#ef9a7a"/>
<circle cx="180.38" cy="743.24" r="3.34" fill="#fdddca"/>
<circle cx="197.32" cy="743.24" r="2.91" fill="#fee8db"/>
<circle cx="214.27" cy="743.24" r="6.08" fill="#6aacd0"/>
<circle cx="231.22" cy="743.24" r="4.98" fill="#f2a17f"/>
<circle cx="44.77" cy="760.17" r="4.07" fill="#b3d6e7"/>
<circle cx="61.72" cy="760.17" r="4.07" fill="#f9c1a6"/>
<circle cx="78.67" cy="760.17" r="4.84" fill="#f4a684"/>
<circle cx="95.62" cy="760.17" r="2.53" fill="#fef0e8"/>
<circle cx="112.57" cy="760.17" r="4.47" fill="#a2cde2"/>
<circle cx="129.52" cy="760.17" r="3.34" fill="#fdddca"/>
<circle cx="146.47" cy="760.17" r="3.13" fill="#daeaf3"/>
<circle cx="163.43" cy="760.17" r="2.24" fill="#f4f9fb"/>
<circle cx="180.38" cy="760.17" r="4.47" fill="#a2cde2"/>
<circle cx="197.32" cy="760.17" r="4.69" fill="#f5ab8a"/>
<circle cx="214.27" cy="760.17" r="3.63" fill="#c7e0ed"/>
<circle cx="231.22" cy="760.17" r="3.13" fill="#daeaf3"/>
<circle cx="44.77" cy="777.11" r="4.84" fill="#94c6de"/>
<circle cx="61.72" cy="777.11" r="5.18" fill="#ef9a7a"/>
<circle cx="78.67" cy="777.11" r="4.24" fill="#f8bb9e"/>
<circle cx="95.62" cy="777.11" r="5.18" fill="#86bdda"/>
<circle cx="112.57" cy="777.11" r="5.18" fill="#86bdda"/>
<circle cx="129.52" cy="777.11" r="5.18" fill="#86bdda"/>
<circle cx="146.47" cy="777.11" r="6.36" fill="#5ea4cc"/>
<circle cx="163.43" cy="777.11" r="4.07" fill="#b3d6e7"/>
<circle cx="180.38" cy="777.11" r="2.66" fill="#e9f2f8"/>
<circle cx="197.32" cy="777.11" r="3.63" fill="#c7e0ed"/>
<circle cx="214.27" cy="777.11" r="3.34" fill="#fdddca"/>
<circle cx="231.22" cy="777.11" r="4.07" fill="#b3d6e7"/>
<circle cx="44.77" cy="794.03" r="4.47" fill="#a2cde2"/>
<circle cx="61.72" cy="794.03" r="7.02" fill="#d15749"/>
<circle cx="78.67" cy="794.03" r="5.37" fill="#ed9475"/>
<circle cx="95.62" cy="794.03" r="6.87" fill="#4393c3"/>
<circle cx="112.57" cy="794.03" r="7.35" fill="#347fb9"/>
<circle cx="129.52" cy="794.03" r="6.62" fill="#519cc8"/>
<circle cx="146.47" cy="794.03" r="6.36" fill="#5ea4cc"/>
<circle cx="163.43" cy="794.03" r="5.8" fill="#72b1d3"/>
<circle cx="180.38" cy="794.03" r="5.8" fill="#72b1d3"/>
<circle cx="197.32" cy="794.03" r="1.92" fill="#fbfdfe"/>
<circle cx="214.27" cy="794.03" r="5.37" fill="#ed9475"/>
<circle cx="231.22" cy="794.03" r="7.11" fill="#3c89be"/>
<circle cx="44.77" cy="810.96" r="4.07" fill="#f9c1a6"/>
<circle cx="61.72" cy="810.96" r="7.02" fill="#3f8dc0"/>
<circle cx="78.67" cy="810.96" r="5.18" fill="#86bdda"/>
<circle cx="95.62" cy="810.96" r="6.72" fill="#d96753"/>
<circle cx="112.57" cy="810.96" r="6.36" fill="#e0785f"/>
<circle cx="129.52" cy="810.96" r="6.72" fill="#d96753"/>
<circle cx="146.47" cy="810.96" r="3.34" fill="#fdddca"/>
<circle cx="163.43" cy="810.96" r="6.87" fill="#d65f4d"/>
<circle cx="180.38" cy="810.96" r="5.37" fill="#ed9475"/>
<circle cx="197.32" cy="810.96" r="3.34" fill="#fdddca"/>
<circle cx="214.27" cy="810.96" r="6.36" fill="#5ea4cc"/>
<circle cx="231.22" cy="810.96" r="7.49" fill="#c03438"/>
<circle cx="44.77" cy="827.89" r="2.09" fill="#fff9f6"/>
<circle cx="61.72" cy="827.89" r="4.07" fill="#f9c1a6"/>
<circle cx="78.67" cy="827.89" r="3.34" fill="#fdddca"/>
<circle cx="95.62" cy="827.89" r="2.53" fill="#ecf4f9"/>
<circle cx="112.57" cy="827.89" r="4.69" fill="#99c8e0"/>
<circle cx="129.52" cy="827.89" r="2.53" fill="#fef0e8"/>
<circle cx="146.47" cy="827.89" r="2.39" fill="#f0f7fa"/>
<circle cx="163.43" cy="827.89" r="2.39" fill="#f0f7fa"/>
<circle cx="180.38" cy="827.89" r="5.18" fill="#86bdda"/>
<circle cx="197.32" cy="827.89" r="5.37" fill="#ed9475"/>
<circle cx="214.27" cy="827.89" r="2.09" fill="#f8fbfd"/>
<circle cx="44.77" cy="844.83" r="3.13" fill="#daeaf3"/>
<circle cx="61.72" cy="844.83" r="4.47" fill="#f6b293"/>
<circle cx="78.67" cy="844.83" r="3.34" fill="#fdddca"/>
<circle cx="95.62" cy="844.83" r="3.63" fill="#c7e0ed"/>
<circle cx="112.57" cy="844.83" r="5.62" fill="#77b4d5"/>
<circle cx="129.52" cy="844.83" r="3.13" fill="#daeaf3"/>
<circle cx="146.47" cy="844.83" r="6.08" fill="#6aacd0"/>
<circle cx="163.43" cy="844.83" r="2.91" fill="#e2eef5"/>
<circle cx="180.38" cy="844.83" r="4.07" fill="#b3d6e7"/>
<circle cx="197.32" cy="844.83" r="3.34" fill="#fdddca"/>
<circle cx="214.27" cy="844.83" r="2.53" fill="#fef0e8"/>
<circle cx="231.22" cy="844.83" r="3.63" fill="#c7e0ed"/>
<circle cx="44.77" cy="861.75" r="3.13" fill="#daeaf3"/>
<circle cx="61.72" cy="861.75" r="4.84" fill="#f4a684"/>
<circle cx="78.67" cy="861.75" r="4.84" fill="#f4a684"/>
<circle cx="95.62" cy="861.75" r="2.91" fill="#e2eef5"/>
<circle cx="112.57" cy="861.75" r="5.18" fill="#86bdda"/>
<circle cx="129.52" cy="861.75" r="2.39" fill="#fef3ed"/>
<circle cx="146.47" cy="861.75" r="2.39" fill="#f0f7fa"/>
<circle cx="163.43" cy="861.75" r="3.13" fill="#daeaf3"/>
<circle cx="180.38" cy="861.75" r="5.18" fill="#86bdda"/>
<circle cx="197.32" cy="861.75" r="5.18" fill="#ef9a7a"/>
<circle cx="214.27" cy="861.75" r="1.92" fill="#fbfdfe"/>
<circle cx="231.22" cy="861.75" r="3.13" fill="#daeaf3"/>
<g font-size="10.3" fill="#000" stroke="#000" stroke-width="0.06" text-anchor="middle"><text x="45.88" y="477.56">***</text><text x="62.82" y="477.56">***</text><text x="96.72" y="477.56">*</text><text x="113.67" y="477.56">***</text><text x="147.57" y="477.56">**</text><text x="181.47" y="477.56">***</text><text x="198.42" y="477.56">***</text><text x="232.32" y="477.56">*</text><text x="62.82" y="494.49">***</text><text x="79.77" y="494.49">***</text><text x="96.72" y="494.49">***</text><text x="113.67" y="494.49">***</text><text x="130.62" y="494.49">***</text><text x="147.57" y="494.49">**</text><text x="164.53" y="494.49">*</text><text x="181.47" y="494.49">***</text><text x="198.42" y="494.49">**</text><text x="215.37" y="494.49">***</text><text x="232.32" y="494.49">**</text><text x="45.88" y="511.42">*</text><text x="79.77" y="511.42">*</text><text x="113.67" y="511.42">**</text><text x="147.57" y="511.42">***</text><text x="164.53" y="511.42">*</text><text x="181.47" y="511.42">**</text><text x="198.42" y="511.42">***</text><text x="215.37" y="511.42">***</text><text x="232.32" y="511.42">***</text><text x="62.82" y="528.36">***</text><text x="96.72" y="528.36">***</text><text x="113.67" y="528.36">***</text><text x="130.62" y="528.36">***</text><text x="164.53" y="528.36">***</text><text x="181.47" y="528.36">***</text><text x="215.37" y="528.36">***</text><text x="232.32" y="528.36">***</text><text x="45.88" y="545.29">***</text><text x="62.82" y="545.29">***</text><text x="96.72" y="545.29">***</text><text x="113.67" y="545.29">*</text><text x="130.62" y="545.29">***</text><text x="147.57" y="545.29">***</text><text x="164.53" y="545.29">***</text><text x="181.47" y="545.29">**</text><text x="215.37" y="545.29">***</text><text x="232.32" y="545.29">***</text><text x="62.82" y="562.22">***</text><text x="79.77" y="562.22">***</text><text x="96.72" y="562.22">***</text><text x="113.67" y="562.22">***</text><text x="130.62" y="562.22">***</text><text x="164.53" y="562.22">***</text><text x="181.47" y="562.22">***</text><text x="215.37" y="562.22">***</text><text x="232.32" y="562.22">***</text><text x="62.82" y="579.14">**</text><text x="113.67" y="579.14">***</text><text x="130.62" y="579.14">*</text><text x="147.57" y="579.14">***</text><text x="181.47" y="579.14">***</text><text x="198.42" y="579.14">***</text><text x="215.37" y="579.14">**</text><text x="45.88" y="596.08">***</text><text x="62.82" y="596.08">***</text><text x="79.77" y="596.08">***</text><text x="96.72" y="596.08">***</text><text x="113.67" y="596.08">***</text><text x="130.62" y="596.08">***</text><text x="147.57" y="596.08">***</text><text x="164.53" y="596.08">***</text><text x="181.47" y="596.08">***</text><text x="215.37" y="596.08">***</text><text x="232.32" y="596.08">***</text><text x="45.88" y="613">***</text><text x="62.82" y="613">***</text><text x="79.77" y="613">***</text><text x="96.72" y="613">*</text><text x="113.67" y="613">*</text><text x="147.57" y="613">***</text><text x="164.53" y="613">**</text><text x="181.47" y="613">***</text><text x="45.88" y="629.94">***</text><text x="62.82" y="629.94">**</text><text x="96.72" y="629.94">***</text><text x="130.62" y="629.94">***</text><text x="147.57" y="629.94">**</text><text x="164.53" y="629.94">***</text><text x="215.37" y="629.94">***</text><text x="232.32" y="629.94">*</text><text x="45.88" y="646.87">***</text><text x="79.77" y="646.87">*</text><text x="96.72" y="646.87">*</text><text x="130.62" y="646.87">**</text><text x="147.57" y="646.87">***</text><text x="164.53" y="646.87">*</text><text x="181.47" y="646.87">*</text><text x="215.37" y="646.87">***</text><text x="62.82" y="663.8">***</text><text x="79.77" y="663.8">***</text><text x="96.72" y="663.8">***</text><text x="113.67" y="663.8">***</text><text x="130.62" y="663.8">**</text><text x="147.57" y="663.8">***</text><text x="164.53" y="663.8">***</text><text x="181.47" y="663.8">***</text><text x="198.42" y="663.8">***</text><text x="215.37" y="663.8">***</text><text x="232.32" y="663.8">***</text><text x="62.82" y="680.73">***</text><text x="113.67" y="680.73">***</text><text x="147.57" y="680.73">***</text><text x="181.47" y="680.73">***</text><text x="198.42" y="680.73">***</text><text x="232.32" y="680.73">*</text><text x="45.88" y="697.65">***</text><text x="62.82" y="697.65">***</text><text x="79.77" y="697.65">***</text><text x="96.72" y="697.65">***</text><text x="113.67" y="697.65">***</text><text x="130.62" y="697.65">***</text><text x="164.53" y="697.65">***</text><text x="181.47" y="697.65">***</text><text x="198.42" y="697.65">***</text><text x="215.37" y="697.65">***</text><text x="232.32" y="697.65">***</text><text x="79.77" y="714.59">***</text><text x="96.72" y="714.59">**</text><text x="130.62" y="714.59">***</text><text x="147.57" y="714.59">***</text><text x="164.53" y="714.59">***</text><text x="198.42" y="714.59">***</text><text x="215.37" y="714.59">***</text><text x="232.32" y="714.59">***</text><text x="45.88" y="731.52">***</text><text x="62.82" y="731.52">***</text><text x="79.77" y="731.52">***</text><text x="96.72" y="731.52">***</text><text x="113.67" y="731.52">*</text><text x="130.62" y="731.52">***</text><text x="147.57" y="731.52">***</text><text x="164.53" y="731.52">***</text><text x="181.47" y="731.52">*</text><text x="198.42" y="731.52">***</text><text x="45.88" y="748.44">**</text><text x="62.82" y="748.44">***</text><text x="96.72" y="748.44">***</text><text x="113.67" y="748.44">*</text><text x="130.62" y="748.44">***</text><text x="147.57" y="748.44">***</text><text x="164.53" y="748.44">***</text><text x="181.47" y="748.44">*</text><text x="215.37" y="748.44">***</text><text x="232.32" y="748.44">***</text><text x="45.88" y="765.38">***</text><text x="62.82" y="765.38">***</text><text x="79.77" y="765.38">***</text><text x="113.67" y="765.38">***</text><text x="130.62" y="765.38">**</text><text x="181.47" y="765.38">***</text><text x="198.42" y="765.38">***</text><text x="215.37" y="765.38">***</text><text x="232.32" y="765.38">*</text><text x="45.88" y="782.31">***</text><text x="62.82" y="782.31">***</text><text x="79.77" y="782.31">***</text><text x="96.72" y="782.31">***</text><text x="113.67" y="782.31">***</text><text x="130.62" y="782.31">***</text><text x="147.57" y="782.31">***</text><text x="164.53" y="782.31">***</text><text x="198.42" y="782.31">***</text><text x="215.37" y="782.31">**</text><text x="232.32" y="782.31">***</text><text x="45.88" y="799.24">***</text><text x="62.82" y="799.24">***</text><text x="79.77" y="799.24">***</text><text x="96.72" y="799.24">***</text><text x="113.67" y="799.24">***</text><text x="130.62" y="799.24">***</text><text x="147.57" y="799.24">***</text><text x="164.53" y="799.24">***</text><text x="181.47" y="799.24">***</text><text x="215.37" y="799.24">***</text><text x="232.32" y="799.24">***</text><text x="45.88" y="816.16">***</text><text x="62.82" y="816.16">***</text><text x="79.77" y="816.16">***</text><text x="96.72" y="816.16">***</text><text x="113.67" y="816.16">***</text><text x="130.62" y="816.16">***</text><text x="147.57" y="816.16">**</text><text x="164.53" y="816.16">***</text><text x="181.47" y="816.16">***</text><text x="198.42" y="816.16">*</text><text x="215.37" y="816.16">***</text><text x="232.32" y="816.16">***</text><text x="62.82" y="833.1">***</text><text x="79.77" y="833.1">*</text><text x="113.67" y="833.1">***</text><text x="181.47" y="833.1">***</text><text x="198.42" y="833.1">***</text><text x="45.88" y="850.03">**</text><text x="62.82" y="850.03">***</text><text x="79.77" y="850.03">**</text><text x="96.72" y="850.03">***</text><text x="113.67" y="850.03">***</text><text x="130.62" y="850.03">**</text><text x="147.57" y="850.03">***</text><text x="181.47" y="850.03">***</text><text x="198.42" y="850.03">*</text><text x="232.32" y="850.03">***</text><text x="45.88" y="866.96">**</text><text x="62.82" y="866.96">***</text><text x="79.77" y="866.96">***</text><text x="113.67" y="866.96">***</text><text x="164.53" y="866.96">*</text><text x="181.47" y="866.96">***</text><text x="198.42" y="866.96">***</text><text x="232.32" y="866.96">*</text></g>
<rect x="251.6" y="367.4" width="204.2" height="23.1" fill="#fff" stroke="#707070" stroke-width="1"/>
<text x="348.1" y="384.4" font-size="15" fill="#1a1a1a" text-anchor="middle" stroke="#1a1a1a" stroke-width="0.12">A Horizon</text>
<text transform="translate(262.57,457.3) rotate(-90)" font-size="11.7" fill="#1a1a1a" stroke="#1a1a1a" stroke-width="0.12">Altitude</text>
<text transform="translate(279.52,457.3) rotate(-90)" font-size="11.7" fill="#1a1a1a" stroke="#1a1a1a" stroke-width="0.12">Latitude</text>
<text transform="translate(296.47,457.3) rotate(-90)" font-size="11.7" fill="#1a1a1a" stroke="#1a1a1a" stroke-width="0.12">Longitude</text>
<text transform="translate(313.43,457.3) rotate(-90)" font-size="11.7" fill="#1a1a1a" stroke="#1a1a1a" stroke-width="0.12">MAP</text>
<text transform="translate(330.38,457.3) rotate(-90)" font-size="11.7" fill="#1a1a1a" stroke="#1a1a1a" stroke-width="0.12">MAT</text>
<text transform="translate(347.32,457.3) rotate(-90)" font-size="11.7" fill="#1a1a1a" stroke="#1a1a1a" stroke-width="0.12">AI</text>
<text transform="translate(364.27,457.3) rotate(-90)" font-size="11.7" fill="#1a1a1a" stroke="#1a1a1a" stroke-width="0.12">N deposition</text>
<text transform="translate(381.22,457.3) rotate(-90)" font-size="11.7" fill="#1a1a1a" stroke="#1a1a1a" stroke-width="0.12">NDVI</text>
<text transform="translate(398.18,457.3) rotate(-90)" font-size="11.7" fill="#1a1a1a" stroke="#1a1a1a" stroke-width="0.12">BD</text>
<text transform="translate(415.12,457.3) rotate(-90)" font-size="11.7" fill="#1a1a1a" stroke="#1a1a1a" stroke-width="0.12">Moisture</text>
<text transform="translate(432.07,457.3) rotate(-90)" font-size="11.7" fill="#1a1a1a" stroke="#1a1a1a" stroke-width="0.12">pH</text>
<text transform="translate(449.02,457.3) rotate(-90)" font-size="11.7" fill="#1a1a1a" stroke="#1a1a1a" stroke-width="0.12">CIA</text>
<g stroke="#d3d3d3" stroke-width="1" fill="none">
<line x1="249.9" y1="463.9" x2="453.3" y2="463.9"/>
<line x1="249.9" y1="480.83" x2="453.3" y2="480.83"/>
<line x1="249.9" y1="497.76" x2="453.3" y2="497.76"/>
<line x1="249.9" y1="514.69" x2="453.3" y2="514.69"/>
<line x1="249.9" y1="531.62" x2="453.3" y2="531.62"/>
<line x1="249.9" y1="548.55" x2="453.3" y2="548.55"/>
<line x1="249.9" y1="565.48" x2="453.3" y2="565.48"/>
<line x1="249.9" y1="582.41" x2="453.3" y2="582.41"/>
<line x1="249.9" y1="599.34" x2="453.3" y2="599.34"/>
<line x1="249.9" y1="616.27" x2="453.3" y2="616.27"/>
<line x1="249.9" y1="633.2" x2="453.3" y2="633.2"/>
<line x1="249.9" y1="650.13" x2="453.3" y2="650.13"/>
<line x1="249.9" y1="667.06" x2="453.3" y2="667.06"/>
<line x1="249.9" y1="683.99" x2="453.3" y2="683.99"/>
<line x1="249.9" y1="700.92" x2="453.3" y2="700.92"/>
<line x1="249.9" y1="717.85" x2="453.3" y2="717.85"/>
<line x1="249.9" y1="734.78" x2="453.3" y2="734.78"/>
<line x1="249.9" y1="751.71" x2="453.3" y2="751.71"/>
<line x1="249.9" y1="768.64" x2="453.3" y2="768.64"/>
<line x1="249.9" y1="785.57" x2="453.3" y2="785.57"/>
<line x1="249.9" y1="802.5" x2="453.3" y2="802.5"/>
<line x1="249.9" y1="819.43" x2="453.3" y2="819.43"/>
<line x1="249.9" y1="836.36" x2="453.3" y2="836.36"/>
<line x1="249.9" y1="853.29" x2="453.3" y2="853.29"/>
<line x1="249.9" y1="870.22" x2="453.3" y2="870.22"/>
<line x1="249.9" y1="463.9" x2="249.9" y2="870.22"/>
<line x1="266.85" y1="463.9" x2="266.85" y2="870.22"/>
<line x1="283.8" y1="463.9" x2="283.8" y2="870.22"/>
<line x1="300.75" y1="463.9" x2="300.75" y2="870.22"/>
<line x1="317.7" y1="463.9" x2="317.7" y2="870.22"/>
<line x1="334.65" y1="463.9" x2="334.65" y2="870.22"/>
<line x1="351.6" y1="463.9" x2="351.6" y2="870.22"/>
<line x1="368.55" y1="463.9" x2="368.55" y2="870.22"/>
<line x1="385.5" y1="463.9" x2="385.5" y2="870.22"/>
<line x1="402.45" y1="463.9" x2="402.45" y2="870.22"/>
<line x1="419.4" y1="463.9" x2="419.4" y2="870.22"/>
<line x1="436.35" y1="463.9" x2="436.35" y2="870.22"/>
<line x1="453.3" y1="463.9" x2="453.3" y2="870.22"/>
</g>
<circle cx="258.38" cy="472.36" r="5.18" fill="#86bdda"/>
<circle cx="275.32" cy="472.36" r="4.47" fill="#a2cde2"/>
<circle cx="292.27" cy="472.36" r="3.13" fill="#fde2d3"/>
<circle cx="309.23" cy="472.36" r="4.07" fill="#f9c1a6"/>
<circle cx="326.18" cy="472.36" r="5.18" fill="#ef9a7a"/>
<circle cx="343.12" cy="472.36" r="3.13" fill="#fde2d3"/>
<circle cx="360.07" cy="472.36" r="3.13" fill="#fde2d3"/>
<circle cx="377.02" cy="472.36" r="3.9" fill="#fac8af"/>
<circle cx="393.98" cy="472.36" r="6.72" fill="#d96753"/>
<circle cx="410.93" cy="472.36" r="5.5" fill="#7bb6d6"/>
<circle cx="427.88" cy="472.36" r="2.53" fill="#ecf4f9"/>
<circle cx="444.82" cy="472.36" r="3.13" fill="#fde2d3"/>
<circle cx="258.38" cy="489.29" r="3.63" fill="#c7e0ed"/>
<circle cx="275.32" cy="489.29" r="5.97" fill="#6daed2"/>
<circle cx="292.27" cy="489.29" r="2.39" fill="#f0f7fa"/>
<circle cx="309.23" cy="489.29" r="5.37" fill="#ed9475"/>
<circle cx="326.18" cy="489.29" r="6.36" fill="#e0785f"/>
<circle cx="343.12" cy="489.29" r="4.98" fill="#f2a17f"/>
<circle cx="360.07" cy="489.29" r="4.07" fill="#f9c1a6"/>
<circle cx="377.02" cy="489.29" r="4.47" fill="#f6b293"/>
<circle cx="393.98" cy="489.29" r="5.18" fill="#ef9a7a"/>
<circle cx="410.93" cy="489.29" r="2.53" fill="#ecf4f9"/>
<circle cx="427.88" cy="489.29" r="5.62" fill="#77b4d5"/>
<circle cx="444.82" cy="489.29" r="4.98" fill="#f2a17f"/>
<circle cx="258.38" cy="506.22" r="3.34" fill="#fdddca"/>
<circle cx="275.32" cy="506.22" r="3.63" fill="#c7e0ed"/>
<circle cx="292.27" cy="506.22" r="4.07" fill="#b3d6e7"/>
<circle cx="309.23" cy="506.22" r="3.13" fill="#fde2d3"/>
<circle cx="326.18" cy="506.22" r="3.13" fill="#fde2d3"/>
<circle cx="343.12" cy="506.22" r="3.13" fill="#fde2d3"/>
<circle cx="360.07" cy="506.22" r="3.9" fill="#bbdaea"/>
<circle cx="377.02" cy="506.22" r="3.9" fill="#fac8af"/>
<circle cx="393.98" cy="506.22" r="3.9" fill="#bbdaea"/>
<circle cx="410.93" cy="506.22" r="5.18" fill="#ef9a7a"/>
<circle cx="427.88" cy="506.22" r="5.18" fill="#86bdda"/>
<circle cx="444.82" cy="506.22" r="5.5" fill="#eb9172"/>
<circle cx="258.38" cy="523.15" r="4.07" fill="#b3d6e7"/>
<circle cx="275.32" cy="523.15" r="6.08" fill="#6aacd0"/>
<circle cx="292.27" cy="523.15" r="3.13" fill="#fde2d3"/>
<circle cx="309.23" cy="523.15" r="6.51" fill="#dd715a"/>
<circle cx="326.18" cy="523.15" r="6.08" fill="#e58268"/>
<circle cx="343.12" cy="523.15" r="6.19" fill="#e37e64"/>
<circle cx="360.07" cy="523.15" r="2.91" fill="#fee8db"/>
<circle cx="377.02" cy="523.15" r="6.19" fill="#e37e64"/>
<circle cx="393.98" cy="523.15" r="5.37" fill="#ed9475"/>
<circle cx="410.93" cy="523.15" r="2.66" fill="#feeee4"/>
<circle cx="427.88" cy="523.15" r="7.8" fill="#2166ab"/>
<circle cx="444.82" cy="523.15" r="7.11" fill="#ce5146"/>
<circle cx="258.38" cy="540.09" r="4.24" fill="#acd2e5"/>
<circle cx="275.32" cy="540.09" r="4.84" fill="#94c6de"/>
<circle cx="292.27" cy="540.09" r="3.9" fill="#fac8af"/>
<circle cx="309.23" cy="540.09" r="5.5" fill="#eb9172"/>
<circle cx="326.18" cy="540.09" r="4.47" fill="#f6b293"/>
<circle cx="343.12" cy="540.09" r="5.5" fill="#eb9172"/>
<circle cx="360.07" cy="540.09" r="2.53" fill="#ecf4f9"/>
<circle cx="377.02" cy="540.09" r="5.37" fill="#ed9475"/>
<circle cx="393.98" cy="540.09" r="4.07" fill="#f9c1a6"/>
<circle cx="410.93" cy="540.09" r="3.34" fill="#fdddca"/>
<circle cx="427.88" cy="540.09" r="7.58" fill="#2b73b3"/>
<circle cx="444.82" cy="540.09" r="6.36" fill="#e0785f"/>
<circle cx="258.38" cy="557.01" r="2.66" fill="#e9f2f8"/>
<circle cx="275.32" cy="557.01" r="6.72" fill="#4b98c6"/>
<circle cx="292.27" cy="557.01" r="4.07" fill="#b3d6e7"/>
<circle cx="309.23" cy="557.01" r="6.72" fill="#d96753"/>
<circle cx="326.18" cy="557.01" r="6.87" fill="#d65f4d"/>
<circle cx="343.12" cy="557.01" r="6.36" fill="#e0785f"/>
<circle cx="360.07" cy="557.01" r="3.9" fill="#fac8af"/>
<circle cx="377.02" cy="557.01" r="6.72" fill="#d96753"/>
<circle cx="393.98" cy="557.01" r="4.69" fill="#f5ab8a"/>
<circle cx="410.93" cy="557.01" r="3.63" fill="#fcd3bc"/>
<circle cx="427.88" cy="557.01" r="5.8" fill="#72b1d3"/>
<circle cx="444.82" cy="557.01" r="8.01" fill="#9a1027"/>
<circle cx="258.38" cy="573.94" r="2.91" fill="#e2eef5"/>
<circle cx="275.32" cy="573.94" r="2.24" fill="#f4f9fb"/>
<circle cx="292.27" cy="573.94" r="2.91" fill="#fee8db"/>
<circle cx="309.23" cy="573.94" r="2.39" fill="#fef3ed"/>
<circle cx="326.18" cy="573.94" r="2.24" fill="#f4f9fb"/>
<circle cx="343.12" cy="573.94" r="2.66" fill="#feeee4"/>
<circle cx="360.07" cy="573.94" r="3.34" fill="#d4e7f1"/>
<circle cx="377.02" cy="573.94" r="2.53" fill="#fef0e8"/>
<circle cx="393.98" cy="573.94" r="3.13" fill="#daeaf3"/>
<circle cx="410.93" cy="573.94" r="4.07" fill="#f9c1a6"/>
<circle cx="427.88" cy="573.94" r="4.84" fill="#94c6de"/>
<circle cx="444.82" cy="573.94" r="2.53" fill="#fef0e8"/>
<circle cx="258.38" cy="590.88" r="2.53" fill="#fef0e8"/>
<circle cx="275.32" cy="590.88" r="6.51" fill="#569fca"/>
<circle cx="292.27" cy="590.88" r="4.24" fill="#acd2e5"/>
<circle cx="309.23" cy="590.88" r="5.8" fill="#e8896d"/>
<circle cx="326.18" cy="590.88" r="5.97" fill="#e68569"/>
<circle cx="343.12" cy="590.88" r="5.5" fill="#eb9172"/>
<circle cx="360.07" cy="590.88" r="2.53" fill="#fef0e8"/>
<circle cx="377.02" cy="590.88" r="5.8" fill="#e8896d"/>
<circle cx="393.98" cy="590.88" r="5.37" fill="#ed9475"/>
<circle cx="410.93" cy="590.88" r="2.09" fill="#fff9f6"/>
<circle cx="427.88" cy="590.88" r="6.62" fill="#519cc8"/>
<circle cx="444.82" cy="590.88" r="5.37" fill="#ed9475"/>
<circle cx="258.38" cy="607.8" r="2.91" fill="#fee8db"/>
<circle cx="275.32" cy="607.8" r="5.18" fill="#86bdda"/>
<circle cx="292.27" cy="607.8" r="5.18" fill="#86bdda"/>
<circle cx="309.23" cy="607.8" r="3.9" fill="#fac8af"/>
<circle cx="326.18" cy="607.8" r="4.47" fill="#f6b293"/>
<circle cx="343.12" cy="607.8" r="2.91" fill="#fee8db"/>
<circle cx="360.07" cy="607.8" r="1.92" fill="#fffcfa"/>
<circle cx="377.02" cy="607.8" r="4.24" fill="#f8bb9e"/>
<circle cx="393.98" cy="607.8" r="4.24" fill="#f8bb9e"/>
<circle cx="410.93" cy="607.8" r="2.66" fill="#e9f2f8"/>
<circle cx="427.88" cy="607.8" r="1.92" fill="#fbfdfe"/>
<circle cx="444.82" cy="607.8" r="1.92" fill="#fffcfa"/>
<circle cx="258.38" cy="624.74" r="4.24" fill="#acd2e5"/>
<circle cx="275.32" cy="624.74" r="4.84" fill="#94c6de"/>
<circle cx="292.27" cy="624.74" r="3.9" fill="#fac8af"/>
<circle cx="309.23" cy="624.74" r="5.97" fill="#e68569"/>
<circle cx="326.18" cy="624.74" r="4.24" fill="#f8bb9e"/>
<circle cx="343.12" cy="624.74" r="5.8" fill="#e8896d"/>
<circle cx="360.07" cy="624.74" r="1.92" fill="#fbfdfe"/>
<circle cx="377.02" cy="624.74" r="5.37" fill="#ed9475"/>
<circle cx="393.98" cy="624.74" r="4.07" fill="#f9c1a6"/>
<circle cx="410.93" cy="624.74" r="2.91" fill="#fee8db"/>
<circle cx="427.88" cy="624.74" r="7.35" fill="#347fb9"/>
<circle cx="444.82" cy="624.74" r="4.84" fill="#f4a684"/>
<circle cx="258.38" cy="641.66" r="4.07" fill="#b3d6e7"/>
<circle cx="275.32" cy="641.66" r="4.47" fill="#a2cde2"/>
<circle cx="292.27" cy="641.66" r="3.9" fill="#fac8af"/>
<circle cx="309.23" cy="641.66" r="5.37" fill="#ed9475"/>
<circle cx="326.18" cy="641.66" r="4.07" fill="#f9c1a6"/>
<circle cx="343.12" cy="641.66" r="5.37" fill="#ed9475"/>
<circle cx="360.07" cy="641.66" r="3.34" fill="#d4e7f1"/>
<circle cx="377.02" cy="641.66" r="5.37" fill="#ed9475"/>
<circle cx="393.98" cy="641.66" r="4.24" fill="#f8bb9e"/>
<circle cx="410.93" cy="641.66" r="1.92" fill="#fffcfa"/>
<circle cx="427.88" cy="641.66" r="7.21" fill="#3985bc"/>
<circle cx="444.82" cy="641.66" r="3.9" fill="#fac8af"/>
<circle cx="258.38" cy="658.6" r="2.09" fill="#f8fbfd"/>
<circle cx="275.32" cy="658.6" r="5.5" fill="#7bb6d6"/>
<circle cx="292.27" cy="658.6" r="4.07" fill="#b3d6e7"/>
<circle cx="309.23" cy="658.6" r="4.47" fill="#f6b293"/>
<circle cx="326.18" cy="658.6" r="4.98" fill="#f2a17f"/>
<circle cx="343.12" cy="658.6" r="3.9" fill="#fac8af"/>
<circle cx="360.07" cy="658.6" r="4.24" fill="#acd2e5"/>
<circle cx="377.02" cy="658.6" r="5.37" fill="#ed9475"/>
<circle cx="393.98" cy="658.6" r="5.5" fill="#eb9172"/>
<circle cx="410.93" cy="658.6" r="4.07" fill="#b3d6e7"/>
<circle cx="427.88" cy="658.6" r="5.62" fill="#77b4d5"/>
<circle cx="444.82" cy="658.6" r="4.98" fill="#f2a17f"/>
<circle cx="258.38" cy="675.52" r="3.63" fill="#fcd3bc"/>
<circle cx="275.32" cy="675.52" r="3.63" fill="#fcd3bc"/>
<circle cx="292.27" cy="675.52" r="3.13" fill="#daeaf3"/>
<circle cx="309.23" cy="675.52" r="3.63" fill="#c7e0ed"/>
<circle cx="326.18" cy="675.52" r="4.47" fill="#a2cde2"/>
<circle cx="343.12" cy="675.52" r="3.34" fill="#d4e7f1"/>
<circle cx="360.07" cy="675.52" r="4.24" fill="#acd2e5"/>
<circle cx="377.02" cy="675.52" r="3.34" fill="#d4e7f1"/>
<circle cx="393.98" cy="675.52" r="5.5" fill="#7bb6d6"/>
<circle cx="410.93" cy="675.52" r="4.84" fill="#f4a684"/>
<circle cx="427.88" cy="675.52" r="2.53" fill="#ecf4f9"/>
<circle cx="444.82" cy="675.52" r="2.91" fill="#e2eef5"/>
<circle cx="258.38" cy="692.45" r="3.34" fill="#fdddca"/>
<circle cx="275.32" cy="692.45" r="6.62" fill="#519cc8"/>
<circle cx="292.27" cy="692.45" r="4.07" fill="#b3d6e7"/>
<circle cx="309.23" cy="692.45" r="6.51" fill="#dd715a"/>
<circle cx="326.18" cy="692.45" r="6.51" fill="#dd715a"/>
<circle cx="343.12" cy="692.45" r="6.36" fill="#e0785f"/>
<circle cx="360.07" cy="692.45" r="3.13" fill="#fde2d3"/>
<circle cx="377.02" cy="692.45" r="6.51" fill="#dd715a"/>
<circle cx="393.98" cy="692.45" r="3.9" fill="#fac8af"/>
<circle cx="410.93" cy="692.45" r="4.98" fill="#f2a17f"/>
<circle cx="427.88" cy="692.45" r="6.62" fill="#519cc8"/>
<circle cx="444.82" cy="692.45" r="6.87" fill="#d65f4d"/>
<circle cx="258.38" cy="709.38" r="3.13" fill="#fde2d3"/>
<circle cx="275.32" cy="709.38" r="4.07" fill="#b3d6e7"/>
<circle cx="292.27" cy="709.38" r="4.07" fill="#b3d6e7"/>
<circle cx="309.23" cy="709.38" r="3.63" fill="#fcd3bc"/>
<circle cx="326.18" cy="709.38" r="3.9" fill="#fac8af"/>
<circle cx="343.12" cy="709.38" r="3.34" fill="#fdddca"/>
<circle cx="360.07" cy="709.38" r="3.13" fill="#daeaf3"/>
<circle cx="377.02" cy="709.38" r="3.9" fill="#fac8af"/>
<circle cx="393.98" cy="709.38" r="3.34" fill="#d4e7f1"/>
<circle cx="410.93" cy="709.38" r="4.69" fill="#f5ab8a"/>
<circle cx="427.88" cy="709.38" r="5.18" fill="#86bdda"/>
<circle cx="444.82" cy="709.38" r="5.5" fill="#eb9172"/>
<circle cx="258.38" cy="726.32" r="6.08" fill="#6aacd0"/>
<circle cx="275.32" cy="726.32" r="2.53" fill="#fef0e8"/>
<circle cx="292.27" cy="726.32" r="5.37" fill="#ed9475"/>
<circle cx="309.23" cy="726.32" r="2.66" fill="#e9f2f8"/>
<circle cx="326.18" cy="726.32" r="2.09" fill="#f8fbfd"/>
<circle cx="343.12" cy="726.32" r="3.34" fill="#d4e7f1"/>
<circle cx="360.07" cy="726.32" r="5.37" fill="#7fb9d7"/>
<circle cx="377.02" cy="726.32" r="1.92" fill="#fbfdfe"/>
<circle cx="393.98" cy="726.32" r="5.8" fill="#e8896d"/>
<circle cx="410.93" cy="726.32" r="6.08" fill="#6aacd0"/>
<circle cx="427.88" cy="726.32" r="4.47" fill="#a2cde2"/>
<circle cx="444.82" cy="726.32" r="3.13" fill="#fde2d3"/>
<circle cx="258.38" cy="743.24" r="3.34" fill="#d4e7f1"/>
<circle cx="275.32" cy="743.24" r="5.18" fill="#86bdda"/>
<circle cx="292.27" cy="743.24" r="2.39" fill="#fef3ed"/>
<circle cx="309.23" cy="743.24" r="5.62" fill="#ea8d70"/>
<circle cx="326.18" cy="743.24" r="4.84" fill="#f4a684"/>
<circle cx="343.12" cy="743.24" r="5.37" fill="#ed9475"/>
<circle cx="360.07" cy="743.24" r="2.66" fill="#e9f2f8"/>
<circle cx="377.02" cy="743.24" r="5.62" fill="#ea8d70"/>
<circle cx="393.98" cy="743.24" r="4.07" fill="#f9c1a6"/>
<circle cx="410.93" cy="743.24" r="3.34" fill="#fdddca"/>
<circle cx="427.88" cy="743.24" r="6.87" fill="#4393c3"/>
<circle cx="444.82" cy="743.24" r="5.62" fill="#ea8d70"/>
<circle cx="258.38" cy="760.17" r="4.47" fill="#a2cde2"/>
<circle cx="275.32" cy="760.17" r="2.91" fill="#e2eef5"/>
<circle cx="292.27" cy="760.17" r="5.18" fill="#ef9a7a"/>
<circle cx="309.23" cy="760.17" r="4.07" fill="#f9c1a6"/>
<circle cx="326.18" cy="760.17" r="2.53" fill="#fef0e8"/>
<circle cx="343.12" cy="760.17" r="4.07" fill="#f9c1a6"/>
<circle cx="360.07" cy="760.17" r="2.53" fill="#fef0e8"/>
<circle cx="377.02" cy="760.17" r="3.13" fill="#fde2d3"/>
<circle cx="393.98" cy="760.17" r="2.53" fill="#fef0e8"/>
<circle cx="410.93" cy="760.17" r="3.34" fill="#fdddca"/>
<circle cx="427.88" cy="760.17" r="4.98" fill="#8ec2dd"/>
<circle cx="444.82" cy="760.17" r="3.13" fill="#fde2d3"/>
<circle cx="258.38" cy="777.11" r="3.9" fill="#bbdaea"/>
<circle cx="275.32" cy="777.11" r="4.98" fill="#f2a17f"/>
<circle cx="292.27" cy="777.11" r="4.07" fill="#f9c1a6"/>
<circle cx="309.23" cy="777.11" r="4.98" fill="#8ec2dd"/>
<circle cx="326.18" cy="777.11" r="4.98" fill="#8ec2dd"/>
<circle cx="343.12" cy="777.11" r="5.18" fill="#86bdda"/>
<circle cx="360.07" cy="777.11" r="6.51" fill="#569fca"/>
<circle cx="377.02" cy="777.11" r="3.9" fill="#bbdaea"/>
<circle cx="393.98" cy="777.11" r="3.63" fill="#fcd3bc"/>
<circle cx="410.93" cy="777.11" r="4.69" fill="#99c8e0"/>
<circle cx="427.88" cy="777.11" r="2.09" fill="#fff9f6"/>
<circle cx="444.82" cy="777.11" r="3.63" fill="#c7e0ed"/>
<circle cx="258.38" cy="794.03" r="4.07" fill="#b3d6e7"/>
<circle cx="275.32" cy="794.03" r="5.62" fill="#ea8d70"/>
<circle cx="292.27" cy="794.03" r="5.37" fill="#ed9475"/>
<circle cx="309.23" cy="794.03" r="5.37" fill="#7fb9d7"/>
<circle cx="326.18" cy="794.03" r="5.62" fill="#77b4d5"/>
<circle cx="343.12" cy="794.03" r="5.37" fill="#7fb9d7"/>
<circle cx="360.07" cy="794.03" r="6.36" fill="#5ea4cc"/>
<circle cx="377.02" cy="794.03" r="4.07" fill="#b3d6e7"/>
<circle cx="393.98" cy="794.03" r="1.92" fill="#fbfdfe"/>
<circle cx="410.93" cy="794.03" r="4.47" fill="#a2cde2"/>
<circle cx="427.88" cy="794.03" r="2.91" fill="#fee8db"/>
<circle cx="444.82" cy="794.03" r="5.62" fill="#77b4d5"/>
<circle cx="258.38" cy="810.96" r="2.66" fill="#feeee4"/>
<circle cx="275.32" cy="810.96" r="7.35" fill="#347fb9"/>
<circle cx="292.27" cy="810.96" r="3.63" fill="#c7e0ed"/>
<circle cx="309.23" cy="810.96" r="7.21" fill="#cb4a43"/>
<circle cx="326.18" cy="810.96" r="7.21" fill="#cb4a43"/>
<circle cx="343.12" cy="810.96" r="7.11" fill="#ce5146"/>
<circle cx="360.07" cy="810.96" r="4.47" fill="#f6b293"/>
<circle cx="377.02" cy="810.96" r="7.21" fill="#cb4a43"/>
<circle cx="393.98" cy="810.96" r="5.18" fill="#ef9a7a"/>
<circle cx="410.93" cy="810.96" r="4.47" fill="#f6b293"/>
<circle cx="427.88" cy="810.96" r="6.72" fill="#4b98c6"/>
<circle cx="444.82" cy="810.96" r="7.8" fill="#b1182b"/>
<circle cx="258.38" cy="827.89" r="1.92" fill="#fbfdfe"/>
<circle cx="275.32" cy="827.89" r="2.91" fill="#e2eef5"/>
<circle cx="292.27" cy="827.89" r="2.66" fill="#feeee4"/>
<circle cx="309.23" cy="827.89" r="2.91" fill="#fee8db"/>
<circle cx="326.18" cy="827.89" r="3.13" fill="#fde2d3"/>
<circle cx="343.12" cy="827.89" r="3.13" fill="#fde2d3"/>
<circle cx="360.07" cy="827.89" r="3.9" fill="#fac8af"/>
<circle cx="377.02" cy="827.89" r="2.66" fill="#feeee4"/>
<circle cx="393.98" cy="827.89" r="3.34" fill="#d4e7f1"/>
<circle cx="410.93" cy="827.89" r="4.84" fill="#f4a684"/>
<circle cx="427.88" cy="827.89" r="3.13" fill="#daeaf3"/>
<circle cx="444.82" cy="827.89" r="2.53" fill="#fef0e8"/>
<circle cx="258.38" cy="844.83" r="2.91" fill="#fee8db"/>
<circle cx="275.32" cy="844.83" r="3.9" fill="#fac8af"/>
<circle cx="292.27" cy="844.83" r="2.39" fill="#fef3ed"/>
<circle cx="309.23" cy="844.83" r="3.9" fill="#bbdaea"/>
<circle cx="326.18" cy="844.83" r="5.18" fill="#86bdda"/>
<circle cx="343.12" cy="844.83" r="3.9" fill="#bbdaea"/>
<circle cx="360.07" cy="844.83" r="5.97" fill="#6daed2"/>
<circle cx="377.02" cy="844.83" r="3.34" fill="#d4e7f1"/>
<circle cx="393.98" cy="844.83" r="4.24" fill="#acd2e5"/>
<circle cx="410.93" cy="844.83" r="2.66" fill="#feeee4"/>
<circle cx="427.88" cy="844.83" r="2.66" fill="#e9f2f8"/>
<circle cx="444.82" cy="844.83" r="3.9" fill="#bbdaea"/>
<circle cx="258.38" cy="861.75" r="3.63" fill="#c7e0ed"/>
<circle cx="275.32" cy="861.75" r="2.09" fill="#fff9f6"/>
<circle cx="292.27" cy="861.75" r="4.84" fill="#f4a684"/>
<circle cx="309.23" cy="861.75" r="2.66" fill="#feeee4"/>
<circle cx="326.18" cy="861.75" r="1.92" fill="#fbfdfe"/>
<circle cx="343.12" cy="861.75" r="3.13" fill="#fde2d3"/>
<circle cx="360.07" cy="861.75" r="3.13" fill="#fde2d3"/>
<circle cx="377.02" cy="861.75" r="1.92" fill="#fbfdfe"/>
<circle cx="393.98" cy="861.75" r="3.34" fill="#d4e7f1"/>
<circle cx="410.93" cy="861.75" r="4.47" fill="#f6b293"/>
<circle cx="427.88" cy="861.75" r="3.9" fill="#bbdaea"/>
<circle cx="444.82" cy="861.75" r="2.39" fill="#f0f7fa"/>
<g font-size="10.3" fill="#000" stroke="#000" stroke-width="0.06" text-anchor="middle"><text x="259.48" y="477.56">***</text><text x="276.43" y="477.56">***</text><text x="293.38" y="477.56">*</text><text x="310.33" y="477.56">***</text><text x="327.28" y="477.56">***</text><text x="344.23" y="477.56">*</text><text x="361.18" y="477.56">*</text><text x="378.12" y="477.56">***</text><text x="395.08" y="477.56">***</text><text x="412.03" y="477.56">***</text><text x="445.93" y="477.56">*</text><text x="259.48" y="494.49">***</text><text x="276.43" y="494.49">***</text><text x="310.33" y="494.49">***</text><text x="327.28" y="494.49">***</text><text x="344.23" y="494.49">***</text><text x="361.18" y="494.49">***</text><text x="378.12" y="494.49">***</text><text x="395.08" y="494.49">***</text><text x="428.98" y="494.49">***</text><text x="445.93" y="494.49">***</text><text x="259.48" y="511.42">**</text><text x="276.43" y="511.42">***</text><text x="293.38" y="511.42">***</text><text x="310.33" y="511.42">*</text><text x="327.28" y="511.42">*</text><text x="344.23" y="511.42">*</text><text x="361.18" y="511.42">***</text><text x="378.12" y="511.42">***</text><text x="395.08" y="511.42">***</text><text x="412.03" y="511.42">***</text><text x="428.98" y="511.42">***</text><text x="445.93" y="511.42">***</text><text x="259.48" y="528.36">***</text><text x="276.43" y="528.36">***</text><text x="293.38" y="528.36">*</text><text x="310.33" y="528.36">***</text><text x="327.28" y="528.36">***</text><text x="344.23" y="528.36">***</text><text x="378.12" y="528.36">***</text><text x="395.08" y="528.36">***</text><text x="428.98" y="528.36">***</text><text x="445.93" y="528.36">***</text><text x="259.48" y="545.29">***</text><text x="276.43" y="545.29">***</text><text x="293.38" y="545.29">***</text><text x="310.33" y="545.29">***</text><text x="327.28" y="545.29">***</text><text x="344.23" y="545.29">***</text><text x="378.12" y="545.29">***</text><text x="395.08" y="545.29">***</text><text x="412.03" y="545.29">*</text><text x="428.98" y="545.29">***</text><text x="445.93" y="545.29">***</text><text x="276.43" y="562.22">***</text><text x="293.38" y="562.22">***</text><text x="310.33" y="562.22">***</text><text x="327.28" y="562.22">***</text><text x="344.23" y="562.22">***</text><text x="361.18" y="562.22">***</text><text x="378.12" y="562.22">***</text><text x="395.08" y="562.22">***</text><text x="412.03" y="562.22">**</text><text x="428.98" y="562.22">***</text><text x="445.93" y="562.22">***</text><text x="361.18" y="579.14">**</text><text x="395.08" y="579.14">**</text><text x="412.03" y="579.14">***</text><text x="428.98" y="579.14">***</text><text x="276.43" y="596.08">***</text><text x="293.38" y="596.08">***</text><text x="310.33" y="596.08">***</text><text x="327.28" y="596.08">***</text><text x="344.23" y="596.08">***</text><text x="378.12" y="596.08">***</text><text x="395.08" y="596.08">***</text><text x="428.98" y="596.08">***</text><text x="445.93" y="596.08">***</text><text x="276.43" y="613">***</text><text x="293.38" y="613">***</text><text x="310.33" y="613">***</text><text x="327.28" y="613">***</text><text x="378.12" y="613">***</text><text x="395.08" y="613">***</text><text x="259.48" y="629.94">***</text><text x="276.43" y="629.94">***</text><text x="293.38" y="629.94">***</text><text x="310.33" y="629.94">***</text><text x="327.28" y="629.94">***</text><text x="344.23" y="629.94">***</text><text x="378.12" y="629.94">***</text><text x="395.08" y="629.94">***</text><text x="428.98" y="629.94">***</text><text x="445.93" y="629.94">***</text><text x="259.48" y="646.87">***</text><text x="276.43" y="646.87">***</text><text x="293.38" y="646.87">***</text><text x="310.33" y="646.87">***</text><text x="327.28" y="646.87">***</text><text x="344.23" y="646.87">***</text><text x="361.18" y="646.87">**</text><text x="378.12" y="646.87">***</text><text x="395.08" y="646.87">***</text><text x="428.98" y="646.87">***</text><text x="445.93" y="646.87">***</text><text x="276.43" y="663.8">***</text><text x="293.38" y="663.8">***</text><text x="310.33" y="663.8">***</text><text x="327.28" y="663.8">***</text><text x="344.23" y="663.8">***</text><text x="361.18" y="663.8">***</text><text x="378.12" y="663.8">***</text><text x="395.08" y="663.8">***</text><text x="412.03" y="663.8">***</text><text x="428.98" y="663.8">***</text><text x="445.93" y="663.8">***</text><text x="259.48" y="680.73">***</text><text x="276.43" y="680.73">***</text><text x="293.38" y="680.73">**</text><text x="310.33" y="680.73">***</text><text x="327.28" y="680.73">***</text><text x="344.23" y="680.73">**</text><text x="361.18" y="680.73">***</text><text x="378.12" y="680.73">**</text><text x="395.08" y="680.73">***</text><text x="412.03" y="680.73">***</text><text x="445.93" y="680.73">*</text><text x="259.48" y="697.65">**</text><text x="276.43" y="697.65">***</text><text x="293.38" y="697.65">***</text><text x="310.33" y="697.65">***</text><text x="327.28" y="697.65">***</text><text x="344.23" y="697.65">***</text><text x="361.18" y="697.65">*</text><text x="378.12" y="697.65">***</text><text x="395.08" y="697.65">***</text><text x="412.03" y="697.65">***</text><text x="428.98" y="697.65">***</text><text x="445.93" y="697.65">***</text><text x="259.48" y="714.59">*</text><text x="276.43" y="714.59">***</text><text x="293.38" y="714.59">***</text><text x="310.33" y="714.59">**</text><text x="327.28" y="714.59">***</text><text x="344.23" y="714.59">**</text><text x="361.18" y="714.59">*</text><text x="378.12" y="714.59">***</text><text x="395.08" y="714.59">**</text><text x="412.03" y="714.59">***</text><text x="428.98" y="714.59">***</text><text x="445.93" y="714.59">***</text><text x="259.48" y="731.52">***</text><text x="293.38" y="731.52">***</text><text x="344.23" y="731.52">**</text><text x="361.18" y="731.52">***</text><text x="395.08" y="731.52">***</text><text x="412.03" y="731.52">***</text><text x="428.98" y="731.52">***</text><text x="445.93" y="731.52">*</text><text x="259.48" y="748.44">**</text><text x="276.43" y="748.44">***</text><text x="310.33" y="748.44">***</text><text x="327.28" y="748.44">***</text><text x="344.23" y="748.44">***</text><text x="378.12" y="748.44">***</text><text x="395.08" y="748.44">***</text><text x="412.03" y="748.44">**</text><text x="428.98" y="748.44">***</text><text x="445.93" y="748.44">***</text><text x="259.48" y="765.38">***</text><text x="293.38" y="765.38">***</text><text x="310.33" y="765.38">***</text><text x="344.23" y="765.38">***</text><text x="378.12" y="765.38">*</text><text x="412.03" y="765.38">**</text><text x="428.98" y="765.38">***</text><text x="445.93" y="765.38">*</text><text x="259.48" y="782.31">***</text><text x="276.43" y="782.31">***</text><text x="293.38" y="782.31">***</text><text x="310.33" y="782.31">***</text><text x="327.28" y="782.31">***</text><text x="344.23" y="782.31">***</text><text x="361.18" y="782.31">***</text><text x="378.12" y="782.31">***</text><text x="395.08" y="782.31">***</text><text x="412.03" y="782.31">***</text><text x="445.93" y="782.31">***</text><text x="259.48" y="799.24">***</text><text x="276.43" y="799.24">***</text><text x="293.38" y="799.24">***</text><text x="310.33" y="799.24">***</text><text x="327.28" y="799.24">***</text><text x="344.23" y="799.24">***</text><text x="361.18" y="799.24">***</text><text x="378.12" y="799.24">***</text><text x="412.03" y="799.24">***</text><text x="445.93" y="799.24">***</text><text x="276.43" y="816.16">***</text><text x="293.38" y="816.16">***</text><text x="310.33" y="816.16">***</text><text x="327.28" y="816.16">***</text><text x="344.23" y="816.16">***</text><text x="361.18" y="816.16">***</text><text x="378.12" y="816.16">***</text><text x="395.08" y="816.16">***</text><text x="412.03" y="816.16">***</text><text x="428.98" y="816.16">***</text><text x="445.93" y="816.16">***</text><text x="327.28" y="833.1">*</text><text x="344.23" y="833.1">*</text><text x="361.18" y="833.1">***</text><text x="395.08" y="833.1">**</text><text x="412.03" y="833.1">***</text><text x="428.98" y="833.1">**</text><text x="276.43" y="850.03">***</text><text x="310.33" y="850.03">***</text><text x="327.28" y="850.03">***</text><text x="344.23" y="850.03">***</text><text x="361.18" y="850.03">***</text><text x="378.12" y="850.03">**</text><text x="395.08" y="850.03">***</text><text x="445.93" y="850.03">***</text><text x="259.48" y="866.96">***</text><text x="293.38" y="866.96">***</text><text x="344.23" y="866.96">*</text><text x="395.08" y="866.96">**</text><text x="412.03" y="866.96">***</text><text x="428.98" y="866.96">***</text></g>
<rect x="462.4" y="367.4" width="203.6" height="23.1" fill="#fff" stroke="#707070" stroke-width="1"/>
<text x="573" y="384.4" font-size="15" fill="#1a1a1a" text-anchor="middle" stroke="#1a1a1a" stroke-width="0.12">C Horizon</text>
<text transform="translate(475.07,457.3) rotate(-90)" font-size="11.7" fill="#1a1a1a" stroke="#1a1a1a" stroke-width="0.12">Altitude</text>
<text transform="translate(492.02,457.3) rotate(-90)" font-size="11.7" fill="#1a1a1a" stroke="#1a1a1a" stroke-width="0.12">Latitude</text>
<text transform="translate(508.97,457.3) rotate(-90)" font-size="11.7" fill="#1a1a1a" stroke="#1a1a1a" stroke-width="0.12">Longitude</text>
<text transform="translate(525.93,457.3) rotate(-90)" font-size="11.7" fill="#1a1a1a" stroke="#1a1a1a" stroke-width="0.12">MAP</text>
<text transform="translate(542.88,457.3) rotate(-90)" font-size="11.7" fill="#1a1a1a" stroke="#1a1a1a" stroke-width="0.12">MAT</text>
<text transform="translate(559.83,457.3) rotate(-90)" font-size="11.7" fill="#1a1a1a" stroke="#1a1a1a" stroke-width="0.12">AI</text>
<text transform="translate(576.77,457.3) rotate(-90)" font-size="11.7" fill="#1a1a1a" stroke="#1a1a1a" stroke-width="0.12">N deposition</text>
<text transform="translate(593.73,457.3) rotate(-90)" font-size="11.7" fill="#1a1a1a" stroke="#1a1a1a" stroke-width="0.12">NDVI</text>
<text transform="translate(610.67,457.3) rotate(-90)" font-size="11.7" fill="#1a1a1a" stroke="#1a1a1a" stroke-width="0.12">BD</text>
<text transform="translate(627.62,457.3) rotate(-90)" font-size="11.7" fill="#1a1a1a" stroke="#1a1a1a" stroke-width="0.12">Moisture</text>
<text transform="translate(644.58,457.3) rotate(-90)" font-size="11.7" fill="#1a1a1a" stroke="#1a1a1a" stroke-width="0.12">pH</text>
<text transform="translate(661.52,457.3) rotate(-90)" font-size="11.7" fill="#1a1a1a" stroke="#1a1a1a" stroke-width="0.12">CIA</text>
<g stroke="#d3d3d3" stroke-width="1" fill="none">
<line x1="462.4" y1="463.9" x2="665.8" y2="463.9"/>
<line x1="462.4" y1="480.83" x2="665.8" y2="480.83"/>
<line x1="462.4" y1="497.76" x2="665.8" y2="497.76"/>
<line x1="462.4" y1="514.69" x2="665.8" y2="514.69"/>
<line x1="462.4" y1="531.62" x2="665.8" y2="531.62"/>
<line x1="462.4" y1="548.55" x2="665.8" y2="548.55"/>
<line x1="462.4" y1="565.48" x2="665.8" y2="565.48"/>
<line x1="462.4" y1="582.41" x2="665.8" y2="582.41"/>
<line x1="462.4" y1="599.34" x2="665.8" y2="599.34"/>
<line x1="462.4" y1="616.27" x2="665.8" y2="616.27"/>
<line x1="462.4" y1="633.2" x2="665.8" y2="633.2"/>
<line x1="462.4" y1="650.13" x2="665.8" y2="650.13"/>
<line x1="462.4" y1="667.06" x2="665.8" y2="667.06"/>
<line x1="462.4" y1="683.99" x2="665.8" y2="683.99"/>
<line x1="462.4" y1="700.92" x2="665.8" y2="700.92"/>
<line x1="462.4" y1="717.85" x2="665.8" y2="717.85"/>
<line x1="462.4" y1="734.78" x2="665.8" y2="734.78"/>
<line x1="462.4" y1="751.71" x2="665.8" y2="751.71"/>
<line x1="462.4" y1="768.64" x2="665.8" y2="768.64"/>
<line x1="462.4" y1="785.57" x2="665.8" y2="785.57"/>
<line x1="462.4" y1="802.5" x2="665.8" y2="802.5"/>
<line x1="462.4" y1="819.43" x2="665.8" y2="819.43"/>
<line x1="462.4" y1="836.36" x2="665.8" y2="836.36"/>
<line x1="462.4" y1="853.29" x2="665.8" y2="853.29"/>
<line x1="462.4" y1="870.22" x2="665.8" y2="870.22"/>
<line x1="462.4" y1="463.9" x2="462.4" y2="870.22"/>
<line x1="479.35" y1="463.9" x2="479.35" y2="870.22"/>
<line x1="496.3" y1="463.9" x2="496.3" y2="870.22"/>
<line x1="513.25" y1="463.9" x2="513.25" y2="870.22"/>
<line x1="530.2" y1="463.9" x2="530.2" y2="870.22"/>
<line x1="547.15" y1="463.9" x2="547.15" y2="870.22"/>
<line x1="564.1" y1="463.9" x2="564.1" y2="870.22"/>
<line x1="581.05" y1="463.9" x2="581.05" y2="870.22"/>
<line x1="598" y1="463.9" x2="598" y2="870.22"/>
<line x1="614.95" y1="463.9" x2="614.95" y2="870.22"/>
<line x1="631.9" y1="463.9" x2="631.9" y2="870.22"/>
<line x1="648.85" y1="463.9" x2="648.85" y2="870.22"/>
<line x1="665.8" y1="463.9" x2="665.8" y2="870.22"/>
</g>
<circle cx="470.88" cy="472.36" r="3.13" fill="#daeaf3"/>
<circle cx="487.82" cy="472.36" r="1.92" fill="#fbfdfe"/>
<circle cx="504.77" cy="472.36" r="2.53" fill="#fef0e8"/>
<circle cx="521.73" cy="472.36" r="2.39" fill="#fef3ed"/>
<circle cx="538.67" cy="472.36" r="2.39" fill="#f0f7fa"/>
<circle cx="555.62" cy="472.36" r="2.24" fill="#f4f9fb"/>
<circle cx="572.57" cy="472.36" r="3.34" fill="#d4e7f1"/>
<circle cx="589.52" cy="472.36" r="2.24" fill="#f4f9fb"/>
<circle cx="606.47" cy="472.36" r="5.18" fill="#ef9a7a"/>
<circle cx="623.42" cy="472.36" r="5.37" fill="#7fb9d7"/>
<circle cx="640.38" cy="472.36" r="2.66" fill="#feeee4"/>
<circle cx="657.32" cy="472.36" r="4.84" fill="#94c6de"/>
<circle cx="470.88" cy="489.29" r="3.13" fill="#daeaf3"/>
<circle cx="487.82" cy="489.29" r="5.5" fill="#7bb6d6"/>
<circle cx="504.77" cy="489.29" r="2.39" fill="#f0f7fa"/>
<circle cx="521.73" cy="489.29" r="4.98" fill="#f2a17f"/>
<circle cx="538.67" cy="489.29" r="5.37" fill="#ed9475"/>
<circle cx="555.62" cy="489.29" r="4.69" fill="#f5ab8a"/>
<circle cx="572.57" cy="489.29" r="2.91" fill="#fee8db"/>
<circle cx="589.52" cy="489.29" r="4.24" fill="#f8bb9e"/>
<circle cx="606.47" cy="489.29" r="5.18" fill="#ef9a7a"/>
<circle cx="623.42" cy="489.29" r="1.92" fill="#fbfdfe"/>
<circle cx="640.38" cy="489.29" r="5.8" fill="#72b1d3"/>
<circle cx="657.32" cy="489.29" r="4.24" fill="#f8bb9e"/>
<circle cx="470.88" cy="506.22" r="2.53" fill="#fef0e8"/>
<circle cx="487.82" cy="506.22" r="5.18" fill="#86bdda"/>
<circle cx="504.77" cy="506.22" r="4.47" fill="#a2cde2"/>
<circle cx="521.73" cy="506.22" r="3.9" fill="#fac8af"/>
<circle cx="538.67" cy="506.22" r="5.37" fill="#ed9475"/>
<circle cx="555.62" cy="506.22" r="3.63" fill="#fcd3bc"/>
<circle cx="572.57" cy="506.22" r="2.66" fill="#e9f2f8"/>
<circle cx="589.52" cy="506.22" r="4.69" fill="#f5ab8a"/>
<circle cx="606.47" cy="506.22" r="2.53" fill="#ecf4f9"/>
<circle cx="623.42" cy="506.22" r="5.18" fill="#ef9a7a"/>
<circle cx="640.38" cy="506.22" r="4.24" fill="#acd2e5"/>
<circle cx="657.32" cy="506.22" r="6.51" fill="#dd715a"/>
<circle cx="470.88" cy="523.15" r="3.63" fill="#c7e0ed"/>
<circle cx="487.82" cy="523.15" r="6.36" fill="#5ea4cc"/>
<circle cx="504.77" cy="523.15" r="1.92" fill="#fffcfa"/>
<circle cx="521.73" cy="523.15" r="6.62" fill="#db6c56"/>
<circle cx="538.67" cy="523.15" r="6.19" fill="#e37e64"/>
<circle cx="555.62" cy="523.15" r="6.36" fill="#e0785f"/>
<circle cx="572.57" cy="523.15" r="3.63" fill="#fcd3bc"/>
<circle cx="589.52" cy="523.15" r="6.51" fill="#dd715a"/>
<circle cx="606.47" cy="523.15" r="3.34" fill="#fdddca"/>
<circle cx="623.42" cy="523.15" r="4.47" fill="#f6b293"/>
<circle cx="640.38" cy="523.15" r="7.8" fill="#2166ab"/>
<circle cx="657.32" cy="523.15" r="7.58" fill="#bc2d35"/>
<circle cx="470.88" cy="540.09" r="4.98" fill="#8ec2dd"/>
<circle cx="487.82" cy="540.09" r="4.69" fill="#99c8e0"/>
<circle cx="504.77" cy="540.09" r="4.98" fill="#f2a17f"/>
<circle cx="521.73" cy="540.09" r="5.18" fill="#ef9a7a"/>
<circle cx="538.67" cy="540.09" r="4.69" fill="#f5ab8a"/>
<circle cx="555.62" cy="540.09" r="4.98" fill="#f2a17f"/>
<circle cx="572.57" cy="540.09" r="1.92" fill="#fffcfa"/>
<circle cx="589.52" cy="540.09" r="5.18" fill="#ef9a7a"/>
<circle cx="606.47" cy="540.09" r="3.34" fill="#fdddca"/>
<circle cx="623.42" cy="540.09" r="3.13" fill="#fde2d3"/>
<circle cx="640.38" cy="540.09" r="7.11" fill="#3c89be"/>
<circle cx="657.32" cy="540.09" r="5.18" fill="#ef9a7a"/>
<circle cx="470.88" cy="557.01" r="2.91" fill="#e2eef5"/>
<circle cx="487.82" cy="557.01" r="6.72" fill="#4b98c6"/>
<circle cx="504.77" cy="557.01" r="3.9" fill="#bbdaea"/>
<circle cx="521.73" cy="557.01" r="6.62" fill="#db6c56"/>
<circle cx="538.67" cy="557.01" r="7.35" fill="#c6403e"/>
<circle cx="555.62" cy="557.01" r="6.19" fill="#e37e64"/>
<circle cx="572.57" cy="557.01" r="3.9" fill="#fac8af"/>
<circle cx="589.52" cy="557.01" r="6.72" fill="#d96753"/>
<circle cx="606.47" cy="557.01" r="2.53" fill="#fef0e8"/>
<circle cx="623.42" cy="557.01" r="5.18" fill="#ef9a7a"/>
<circle cx="640.38" cy="557.01" r="6.08" fill="#6aacd0"/>
<circle cx="657.32" cy="557.01" r="8.1" fill="#900d26"/>
<circle cx="470.88" cy="573.94" r="4.47" fill="#a2cde2"/>
<circle cx="487.82" cy="573.94" r="2.66" fill="#e9f2f8"/>
<circle cx="504.77" cy="573.94" r="4.07" fill="#f9c1a6"/>
<circle cx="521.73" cy="573.94" r="2.39" fill="#fef3ed"/>
<circle cx="538.67" cy="573.94" r="2.91" fill="#fee8db"/>
<circle cx="555.62" cy="573.94" r="1.92" fill="#fffcfa"/>
<circle cx="572.57" cy="573.94" r="2.66" fill="#e9f2f8"/>
<circle cx="589.52" cy="573.94" r="2.53" fill="#fef0e8"/>
<circle cx="606.47" cy="573.94" r="4.07" fill="#f9c1a6"/>
<circle cx="623.42" cy="573.94" r="3.9" fill="#bbdaea"/>
<circle cx="640.38" cy="573.94" r="4.24" fill="#acd2e5"/>
<circle cx="657.32" cy="573.94" r="2.66" fill="#e9f2f8"/>
<circle cx="470.88" cy="590.88" r="2.79" fill="#e5f0f7"/>
<circle cx="487.82" cy="590.88" r="6.08" fill="#6aacd0"/>
<circle cx="504.77" cy="590.88" r="3.13" fill="#daeaf3"/>
<circle cx="521.73" cy="590.88" r="5.62" fill="#ea8d70"/>
<circle cx="538.67" cy="590.88" r="5.62" fill="#ea8d70"/>
<circle cx="555.62" cy="590.88" r="5.37" fill="#ed9475"/>
<circle cx="572.57" cy="590.88" r="1.92" fill="#fbfdfe"/>
<circle cx="589.52" cy="590.88" r="5.62" fill="#ea8d70"/>
<circle cx="606.47" cy="590.88" r="4.07" fill="#f9c1a6"/>
<circle cx="623.42" cy="590.88" r="3.63" fill="#fcd3bc"/>
<circle cx="640.38" cy="590.88" r="6.87" fill="#4393c3"/>
<circle cx="657.32" cy="590.88" r="5.5" fill="#eb9172"/>
<circle cx="470.88" cy="607.8" r="2.09" fill="#f8fbfd"/>
<circle cx="487.82" cy="607.8" r="4.07" fill="#b3d6e7"/>
<circle cx="504.77" cy="607.8" r="4.69" fill="#99c8e0"/>
<circle cx="521.73" cy="607.8" r="3.13" fill="#fde2d3"/>
<circle cx="538.67" cy="607.8" r="3.9" fill="#fac8af"/>
<circle cx="555.62" cy="607.8" r="2.09" fill="#fff9f6"/>
<circle cx="572.57" cy="607.8" r="2.09" fill="#f8fbfd"/>
<circle cx="589.52" cy="607.8" r="3.13" fill="#fde2d3"/>
<circle cx="606.47" cy="607.8" r="4.69" fill="#f5ab8a"/>
<circle cx="623.42" cy="607.8" r="4.24" fill="#acd2e5"/>
<circle cx="640.38" cy="607.8" r="1.92" fill="#fbfdfe"/>
<circle cx="657.32" cy="607.8" r="2.91" fill="#e2eef5"/>
<circle cx="470.88" cy="624.74" r="4.84" fill="#94c6de"/>
<circle cx="487.82" cy="624.74" r="4.24" fill="#acd2e5"/>
<circle cx="504.77" cy="624.74" r="5.18" fill="#ef9a7a"/>
<circle cx="521.73" cy="624.74" r="5.37" fill="#ed9475"/>
<circle cx="538.67" cy="624.74" r="3.9" fill="#fac8af"/>
<circle cx="555.62" cy="624.74" r="5.18" fill="#ef9a7a"/>
<circle cx="572.57" cy="624.74" r="1.92" fill="#fbfdfe"/>
<circle cx="589.52" cy="624.74" r="4.47" fill="#f6b293"/>
<circle cx="606.47" cy="624.74" r="3.9" fill="#fac8af"/>
<circle cx="623.42" cy="624.74" r="1.92" fill="#fbfdfe"/>
<circle cx="640.38" cy="624.74" r="7.02" fill="#3f8dc0"/>
<circle cx="657.32" cy="624.74" r="3.34" fill="#fdddca"/>
<circle cx="470.88" cy="641.66" r="4.24" fill="#acd2e5"/>
<circle cx="487.82" cy="641.66" r="3.63" fill="#c7e0ed"/>
<circle cx="504.77" cy="641.66" r="4.84" fill="#f4a684"/>
<circle cx="521.73" cy="641.66" r="4.69" fill="#f5ab8a"/>
<circle cx="538.67" cy="641.66" r="2.91" fill="#fee8db"/>
<circle cx="555.62" cy="641.66" r="4.69" fill="#f5ab8a"/>
<circle cx="572.57" cy="641.66" r="3.34" fill="#d4e7f1"/>
<circle cx="589.52" cy="641.66" r="4.24" fill="#f8bb9e"/>
<circle cx="606.47" cy="641.66" r="4.24" fill="#f8bb9e"/>
<circle cx="623.42" cy="641.66" r="1.92" fill="#fbfdfe"/>
<circle cx="640.38" cy="641.66" r="6.72" fill="#4b98c6"/>
<circle cx="657.32" cy="641.66" r="2.79" fill="#feebdf"/>
<circle cx="470.88" cy="658.6" r="2.53" fill="#fef0e8"/>
<circle cx="487.82" cy="658.6" r="5.62" fill="#77b4d5"/>
<circle cx="504.77" cy="658.6" r="4.84" fill="#94c6de"/>
<circle cx="521.73" cy="658.6" r="4.24" fill="#f8bb9e"/>
<circle cx="538.67" cy="658.6" r="5.37" fill="#ed9475"/>
<circle cx="555.62" cy="658.6" r="3.63" fill="#fcd3bc"/>
<circle cx="572.57" cy="658.6" r="3.34" fill="#d4e7f1"/>
<circle cx="589.52" cy="658.6" r="5.18" fill="#ef9a7a"/>
<circle cx="606.47" cy="658.6" r="4.07" fill="#f9c1a6"/>
<circle cx="623.42" cy="658.6" r="1.92" fill="#fbfdfe"/>
<circle cx="640.38" cy="658.6" r="5.37" fill="#7fb9d7"/>
<circle cx="657.32" cy="658.6" r="4.24" fill="#f8bb9e"/>
<circle cx="470.88" cy="675.52" r="3.13" fill="#fde2d3"/>
<circle cx="487.82" cy="675.52" r="3.13" fill="#fde2d3"/>
<circle cx="504.77" cy="675.52" r="3.13" fill="#daeaf3"/>
<circle cx="521.73" cy="675.52" r="4.07" fill="#b3d6e7"/>
<circle cx="538.67" cy="675.52" r="3.34" fill="#d4e7f1"/>
<circle cx="555.62" cy="675.52" r="4.69" fill="#99c8e0"/>
<circle cx="572.57" cy="675.52" r="4.47" fill="#a2cde2"/>
<circle cx="589.52" cy="675.52" r="3.9" fill="#bbdaea"/>
<circle cx="623.42" cy="675.52" r="3.13" fill="#daeaf3"/>
<circle cx="640.38" cy="675.52" r="3.13" fill="#fde2d3"/>
<circle cx="657.32" cy="675.52" r="4.24" fill="#acd2e5"/>
<circle cx="470.88" cy="692.45" r="1.92" fill="#fbfdfe"/>
<circle cx="487.82" cy="692.45" r="6.51" fill="#569fca"/>
<circle cx="504.77" cy="692.45" r="2.53" fill="#ecf4f9"/>
<circle cx="521.73" cy="692.45" r="6.08" fill="#e58268"/>
<circle cx="538.67" cy="692.45" r="6.62" fill="#db6c56"/>
<circle cx="555.62" cy="692.45" r="5.8" fill="#e8896d"/>
<circle cx="572.57" cy="692.45" r="2.66" fill="#feeee4"/>
<circle cx="589.52" cy="692.45" r="6.19" fill="#e37e64"/>
<circle cx="606.47" cy="692.45" r="2.09" fill="#fff9f6"/>
<circle cx="623.42" cy="692.45" r="5.62" fill="#ea8d70"/>
<circle cx="640.38" cy="692.45" r="6.51" fill="#569fca"/>
<circle cx="657.32" cy="692.45" r="6.62" fill="#db6c56"/>
<circle cx="470.88" cy="709.38" r="2.09" fill="#fff9f6"/>
<circle cx="487.82" cy="709.38" r="5.18" fill="#86bdda"/>
<circle cx="504.77" cy="709.38" r="3.9" fill="#bbdaea"/>
<circle cx="521.73" cy="709.38" r="4.07" fill="#f9c1a6"/>
<circle cx="538.67" cy="709.38" r="5.5" fill="#eb9172"/>
<circle cx="555.62" cy="709.38" r="3.63" fill="#fcd3bc"/>
<circle cx="572.57" cy="709.38" r="2.66" fill="#e9f2f8"/>
<circle cx="589.52" cy="709.38" r="4.47" fill="#f6b293"/>
<circle cx="606.47" cy="709.38" r="2.09" fill="#f8fbfd"/>
<circle cx="623.42" cy="709.38" r="3.63" fill="#fcd3bc"/>
<circle cx="640.38" cy="709.38" r="5.37" fill="#7fb9d7"/>
<circle cx="657.32" cy="709.38" r="5.8" fill="#e8896d"/>
<circle cx="470.88" cy="726.32" r="4.98" fill="#8ec2dd"/>
<circle cx="487.82" cy="726.32" r="2.79" fill="#e5f0f7"/>
<circle cx="504.77" cy="726.32" r="3.34" fill="#fdddca"/>
<circle cx="521.73" cy="726.32" r="1.92" fill="#fffcfa"/>
<circle cx="538.67" cy="726.32" r="2.09" fill="#fff9f6"/>
<circle cx="555.62" cy="726.32" r="2.66" fill="#e9f2f8"/>
<circle cx="572.57" cy="726.32" r="5.18" fill="#86bdda"/>
<circle cx="589.52" cy="726.32" r="2.53" fill="#fef0e8"/>
<circle cx="606.47" cy="726.32" r="5.37" fill="#ed9475"/>
<circle cx="623.42" cy="726.32" r="4.69" fill="#99c8e0"/>
<circle cx="640.38" cy="726.32" r="4.24" fill="#acd2e5"/>
<circle cx="657.32" cy="726.32" r="3.13" fill="#fde2d3"/>
<circle cx="470.88" cy="743.24" r="4.24" fill="#acd2e5"/>
<circle cx="487.82" cy="743.24" r="4.84" fill="#94c6de"/>
<circle cx="504.77" cy="743.24" r="4.24" fill="#f8bb9e"/>
<circle cx="521.73" cy="743.24" r="5.37" fill="#ed9475"/>
<circle cx="538.67" cy="743.24" r="4.69" fill="#f5ab8a"/>
<circle cx="555.62" cy="743.24" r="5.37" fill="#ed9475"/>
<circle cx="572.57" cy="743.24" r="2.39" fill="#f0f7fa"/>
<circle cx="589.52" cy="743.24" r="5.37" fill="#ed9475"/>
<circle cx="606.47" cy="743.24" r="4.07" fill="#f9c1a6"/>
<circle cx="623.42" cy="743.24" r="3.13" fill="#fde2d3"/>
<circle cx="640.38" cy="743.24" r="6.87" fill="#4393c3"/>
<circle cx="657.32" cy="743.24" r="4.98" fill="#f2a17f"/>
<circle cx="470.88" cy="760.17" r="4.84" fill="#94c6de"/>
<circle cx="487.82" cy="760.17" r="1.92" fill="#fbfdfe"/>
<circle cx="504.77" cy="760.17" r="5.8" fill="#e8896d"/>
<circle cx="521.73" cy="760.17" r="3.13" fill="#fde2d3"/>
<circle cx="538.67" cy="760.17" r="1.92" fill="#fbfdfe"/>
<circle cx="555.62" cy="760.17" r="3.34" fill="#fdddca"/>
<circle cx="572.57" cy="760.17" r="2.79" fill="#feebdf"/>
<circle cx="589.52" cy="760.17" r="2.39" fill="#fef3ed"/>
<circle cx="606.47" cy="760.17" r="4.24" fill="#f8bb9e"/>
<circle cx="623.42" cy="760.17" r="3.13" fill="#daeaf3"/>
<circle cx="640.38" cy="760.17" r="4.69" fill="#99c8e0"/>
<circle cx="657.32" cy="760.17" r="2.53" fill="#ecf4f9"/>
<circle cx="470.88" cy="777.11" r="1.92" fill="#fbfdfe"/>
<circle cx="487.82" cy="777.11" r="3.34" fill="#fdddca"/>
<circle cx="504.77" cy="777.11" r="1.92" fill="#fbfdfe"/>
<circle cx="521.73" cy="777.11" r="3.63" fill="#c7e0ed"/>
<circle cx="538.67" cy="777.11" r="3.9" fill="#bbdaea"/>
<circle cx="555.62" cy="777.11" r="3.9" fill="#bbdaea"/>
<circle cx="572.57" cy="777.11" r="4.98" fill="#8ec2dd"/>
<circle cx="589.52" cy="777.11" r="2.91" fill="#e2eef5"/>
<circle cx="606.47" cy="777.11" r="4.07" fill="#f9c1a6"/>
<circle cx="623.42" cy="777.11" r="3.9" fill="#bbdaea"/>
<circle cx="640.38" cy="777.11" r="2.79" fill="#feebdf"/>
<circle cx="657.32" cy="777.11" r="4.07" fill="#b3d6e7"/>
<circle cx="470.88" cy="794.03" r="2.91" fill="#e2eef5"/>
<circle cx="487.82" cy="794.03" r="3.63" fill="#fcd3bc"/>
<circle cx="504.77" cy="794.03" r="4.84" fill="#f4a684"/>
<circle cx="521.73" cy="794.03" r="1.92" fill="#fbfdfe"/>
<circle cx="538.67" cy="794.03" r="4.07" fill="#b3d6e7"/>
<circle cx="555.62" cy="794.03" r="2.53" fill="#fef0e8"/>
<circle cx="572.57" cy="794.03" r="3.13" fill="#daeaf3"/>
<circle cx="589.52" cy="794.03" r="1.92" fill="#fbfdfe"/>
<circle cx="606.47" cy="794.03" r="3.34" fill="#fdddca"/>
<circle cx="623.42" cy="794.03" r="4.07" fill="#b3d6e7"/>
<circle cx="640.38" cy="794.03" r="1.92" fill="#fbfdfe"/>
<circle cx="657.32" cy="794.03" r="5.37" fill="#7fb9d7"/>
<circle cx="470.88" cy="810.96" r="1.92" fill="#fbfdfe"/>
<circle cx="487.82" cy="810.96" r="6.87" fill="#4393c3"/>
<circle cx="504.77" cy="810.96" r="3.13" fill="#daeaf3"/>
<circle cx="521.73" cy="810.96" r="7.11" fill="#ce5146"/>
<circle cx="538.67" cy="810.96" r="7.21" fill="#cb4a43"/>
<circle cx="555.62" cy="810.96" r="6.72" fill="#d96753"/>
<circle cx="572.57" cy="810.96" r="4.24" fill="#f8bb9e"/>
<circle cx="589.52" cy="810.96" r="7.11" fill="#ce5146"/>
<circle cx="606.47" cy="810.96" r="2.39" fill="#fef3ed"/>
<circle cx="623.42" cy="810.96" r="5.8" fill="#e8896d"/>
<circle cx="640.38" cy="810.96" r="6.72" fill="#4b98c6"/>
<circle cx="657.32" cy="810.96" r="7.67" fill="#b82431"/>
<circle cx="470.88" cy="827.89" r="3.34" fill="#d4e7f1"/>
<circle cx="487.82" cy="827.89" r="3.9" fill="#bbdaea"/>
<circle cx="504.77" cy="827.89" r="3.13" fill="#fde2d3"/>
<circle cx="521.73" cy="827.89" r="3.34" fill="#fdddca"/>
<circle cx="538.67" cy="827.89" r="4.24" fill="#f8bb9e"/>
<circle cx="555.62" cy="827.89" r="2.91" fill="#fee8db"/>
<circle cx="572.57" cy="827.89" r="3.13" fill="#fde2d3"/>
<circle cx="589.52" cy="827.89" r="3.34" fill="#fdddca"/>
<circle cx="606.47" cy="827.89" r="4.07" fill="#f9c1a6"/>
<circle cx="623.42" cy="827.89" r="3.13" fill="#daeaf3"/>
<circle cx="640.38" cy="827.89" r="3.13" fill="#daeaf3"/>
<circle cx="657.32" cy="827.89" r="1.92" fill="#fbfdfe"/>
<circle cx="470.88" cy="844.83" r="3.13" fill="#fde2d3"/>
<circle cx="487.82" cy="844.83" r="1.92" fill="#fbfdfe"/>
<circle cx="504.77" cy="844.83" r="2.39" fill="#f0f7fa"/>
<circle cx="521.73" cy="844.83" r="2.39" fill="#f0f7fa"/>
<circle cx="538.67" cy="844.83" r="2.91" fill="#e2eef5"/>
<circle cx="555.62" cy="844.83" r="1.92" fill="#fbfdfe"/>
<circle cx="572.57" cy="844.83" r="4.07" fill="#b3d6e7"/>
<circle cx="589.52" cy="844.83" r="2.66" fill="#e9f2f8"/>
<circle cx="606.47" cy="844.83" r="2.39" fill="#f0f7fa"/>
<circle cx="623.42" cy="844.83" r="2.39" fill="#fef3ed"/>
<circle cx="640.38" cy="844.83" r="1.92" fill="#fbfdfe"/>
<circle cx="657.32" cy="844.83" r="3.63" fill="#c7e0ed"/>
<circle cx="470.88" cy="861.75" r="4.69" fill="#99c8e0"/>
<circle cx="487.82" cy="861.75" r="1.92" fill="#fbfdfe"/>
<circle cx="504.77" cy="861.75" r="5.37" fill="#ed9475"/>
<circle cx="521.73" cy="861.75" r="2.79" fill="#feebdf"/>
<circle cx="538.67" cy="861.75" r="2.53" fill="#fef0e8"/>
<circle cx="555.62" cy="861.75" r="2.91" fill="#fee8db"/>
<circle cx="572.57" cy="861.75" r="3.13" fill="#fde2d3"/>
<circle cx="589.52" cy="861.75" r="1.92" fill="#fbfdfe"/>
<circle cx="606.47" cy="861.75" r="4.24" fill="#f8bb9e"/>
<circle cx="623.42" cy="861.75" r="3.13" fill="#daeaf3"/>
<circle cx="640.38" cy="861.75" r="3.9" fill="#bbdaea"/>
<circle cx="657.32" cy="861.75" r="3.34" fill="#d4e7f1"/>
<g font-size="10.3" fill="#000" stroke="#000" stroke-width="0.06" text-anchor="middle"><text x="471.98" y="477.56">*</text><text x="573.67" y="477.56">**</text><text x="607.57" y="477.56">***</text><text x="624.52" y="477.56">***</text><text x="658.42" y="477.56">***</text><text x="471.98" y="494.49">**</text><text x="488.93" y="494.49">***</text><text x="522.83" y="494.49">***</text><text x="539.77" y="494.49">***</text><text x="556.73" y="494.49">***</text><text x="590.62" y="494.49">***</text><text x="607.57" y="494.49">***</text><text x="641.48" y="494.49">***</text><text x="658.42" y="494.49">***</text><text x="488.93" y="511.42">***</text><text x="505.88" y="511.42">***</text><text x="522.83" y="511.42">***</text><text x="539.77" y="511.42">***</text><text x="556.73" y="511.42">**</text><text x="590.62" y="511.42">***</text><text x="624.52" y="511.42">***</text><text x="641.48" y="511.42">***</text><text x="658.42" y="511.42">***</text><text x="471.98" y="528.36">***</text><text x="488.93" y="528.36">***</text><text x="522.83" y="528.36">***</text><text x="539.77" y="528.36">***</text><text x="556.73" y="528.36">***</text><text x="573.67" y="528.36">**</text><text x="590.62" y="528.36">***</text><text x="607.57" y="528.36">**</text><text x="624.52" y="528.36">***</text><text x="641.48" y="528.36">***</text><text x="658.42" y="528.36">***</text><text x="471.98" y="545.29">***</text><text x="488.93" y="545.29">***</text><text x="505.88" y="545.29">***</text><text x="522.83" y="545.29">***</text><text x="539.77" y="545.29">***</text><text x="556.73" y="545.29">***</text><text x="590.62" y="545.29">***</text><text x="607.57" y="545.29">**</text><text x="624.52" y="545.29">*</text><text x="641.48" y="545.29">***</text><text x="658.42" y="545.29">***</text><text x="488.93" y="562.22">***</text><text x="505.88" y="562.22">***</text><text x="522.83" y="562.22">***</text><text x="539.77" y="562.22">***</text><text x="556.73" y="562.22">***</text><text x="573.67" y="562.22">***</text><text x="590.62" y="562.22">***</text><text x="624.52" y="562.22">***</text><text x="641.48" y="562.22">***</text><text x="658.42" y="562.22">***</text><text x="471.98" y="579.14">***</text><text x="505.88" y="579.14">***</text><text x="607.57" y="579.14">***</text><text x="624.52" y="579.14">***</text><text x="641.48" y="579.14">***</text><text x="488.93" y="596.08">***</text><text x="505.88" y="596.08">*</text><text x="522.83" y="596.08">***</text><text x="539.77" y="596.08">***</text><text x="556.73" y="596.08">***</text><text x="590.62" y="596.08">***</text><text x="607.57" y="596.08">***</text><text x="624.52" y="596.08">**</text><text x="641.48" y="596.08">***</text><text x="658.42" y="596.08">***</text><text x="488.93" y="613">***</text><text x="505.88" y="613">***</text><text x="522.83" y="613">*</text><text x="539.77" y="613">***</text><text x="590.62" y="613">*</text><text x="607.57" y="613">***</text><text x="624.52" y="613">***</text><text x="658.42" y="613">*</text><text x="471.98" y="629.94">***</text><text x="488.93" y="629.94">***</text><text x="505.88" y="629.94">***</text><text x="522.83" y="629.94">***</text><text x="539.77" y="629.94">***</text><text x="556.73" y="629.94">***</text><text x="590.62" y="629.94">***</text><text x="607.57" y="629.94">***</text><text x="641.48" y="629.94">***</text><text x="658.42" y="629.94">*</text><text x="471.98" y="646.87">***</text><text x="488.93" y="646.87">***</text><text x="505.88" y="646.87">***</text><text x="522.83" y="646.87">***</text><text x="556.73" y="646.87">***</text><text x="573.67" y="646.87">**</text><text x="590.62" y="646.87">***</text><text x="607.57" y="646.87">***</text><text x="641.48" y="646.87">***</text><text x="488.93" y="663.8">***</text><text x="505.88" y="663.8">***</text><text x="522.83" y="663.8">***</text><text x="539.77" y="663.8">***</text><text x="556.73" y="663.8">**</text><text x="573.67" y="663.8">**</text><text x="590.62" y="663.8">***</text><text x="607.57" y="663.8">***</text><text x="641.48" y="663.8">***</text><text x="658.42" y="663.8">***</text><text x="471.98" y="680.73">*</text><text x="488.93" y="680.73">*</text><text x="505.88" y="680.73">*</text><text x="522.83" y="680.73">***</text><text x="539.77" y="680.73">**</text><text x="556.73" y="680.73">***</text><text x="573.67" y="680.73">***</text><text x="590.62" y="680.73">***</text><text x="624.52" y="680.73">*</text><text x="641.48" y="680.73">*</text><text x="658.42" y="680.73">***</text><text x="488.93" y="697.65">***</text><text x="522.83" y="697.65">***</text><text x="539.77" y="697.65">***</text><text x="556.73" y="697.65">***</text><text x="590.62" y="697.65">***</text><text x="624.52" y="697.65">***</text><text x="641.48" y="697.65">***</text><text x="658.42" y="697.65">***</text><text x="488.93" y="714.59">***</text><text x="505.88" y="714.59">***</text><text x="522.83" y="714.59">***</text><text x="539.77" y="714.59">***</text><text x="556.73" y="714.59">**</text><text x="590.62" y="714.59">***</text><text x="624.52" y="714.59">**</text><text x="641.48" y="714.59">***</text><text x="658.42" y="714.59">***</text><text x="471.98" y="731.52">***</text><text x="505.88" y="731.52">*</text><text x="573.67" y="731.52">***</text><text x="607.57" y="731.52">***</text><text x="624.52" y="731.52">***</text><text x="641.48" y="731.52">***</text><text x="658.42" y="731.52">*</text><text x="471.98" y="748.44">***</text><text x="488.93" y="748.44">***</text><text x="505.88" y="748.44">***</text><text x="522.83" y="748.44">***</text><text x="539.77" y="748.44">***</text><text x="556.73" y="748.44">***</text><text x="590.62" y="748.44">***</text><text x="607.57" y="748.44">***</text><text x="624.52" y="748.44">*</text><text x="641.48" y="748.44">***</text><text x="658.42" y="748.44">***</text><text x="471.98" y="765.38">***</text><text x="505.88" y="765.38">***</text><text x="522.83" y="765.38">*</text><text x="556.73" y="765.38">**</text><text x="607.57" y="765.38">***</text><text x="624.52" y="765.38">*</text><text x="641.48" y="765.38">***</text><text x="488.93" y="782.31">**</text><text x="522.83" y="782.31">***</text><text x="539.77" y="782.31">***</text><text x="556.73" y="782.31">***</text><text x="573.67" y="782.31">***</text><text x="607.57" y="782.31">***</text><text x="624.52" y="782.31">***</text><text x="658.42" y="782.31">***</text><text x="471.98" y="799.24">*</text><text x="488.93" y="799.24">**</text><text x="505.88" y="799.24">***</text><text x="539.77" y="799.24">***</text><text x="573.67" y="799.24">*</text><text x="607.57" y="799.24">**</text><text x="624.52" y="799.24">***</text><text x="658.42" y="799.24">***</text><text x="488.93" y="816.16">***</text><text x="505.88" y="816.16">*</text><text x="522.83" y="816.16">***</text><text x="539.77" y="816.16">***</text><text x="556.73" y="816.16">***</text><text x="573.67" y="816.16">***</text><text x="590.62" y="816.16">***</text><text x="624.52" y="816.16">***</text><text x="641.48" y="816.16">***</text><text x="658.42" y="816.16">***</text><text x="471.98" y="833.1">**</text><text x="488.93" y="833.1">***</text><text x="505.88" y="833.1">*</text><text x="522.83" y="833.1">**</text><text x="539.77" y="833.1">***</text><text x="556.73" y="833.1">*</text><text x="573.67" y="833.1">*</text><text x="590.62" y="833.1">**</text><text x="607.57" y="833.1">***</text><text x="624.52" y="833.1">**</text><text x="641.48" y="833.1">**</text><text x="471.98" y="850.03">*</text><text x="539.77" y="850.03">*</text><text x="573.67" y="850.03">***</text><text x="658.42" y="850.03">***</text><text x="471.98" y="866.96">***</text><text x="505.88" y="866.96">***</text><text x="573.67" y="866.96">*</text><text x="607.57" y="866.96">***</text><text x="624.52" y="866.96">*</text><text x="641.48" y="866.96">***</text><text x="658.42" y="866.96">**</text></g>
<text x="30.2" y="475.86" font-size="11.8" fill="#1a1a1a" text-anchor="end" stroke="#1a1a1a" stroke-width="0.12">SOC</text>
<text x="30.2" y="492.79" font-size="11.8" fill="#1a1a1a" text-anchor="end" stroke="#1a1a1a" stroke-width="0.12">P</text>
<text x="30.2" y="509.72" font-size="11.8" fill="#1a1a1a" text-anchor="end" stroke="#1a1a1a" stroke-width="0.12">K</text>
<text x="30.2" y="526.65" font-size="11.8" fill="#1a1a1a" text-anchor="end" stroke="#1a1a1a" stroke-width="0.12">Ca</text>
<text x="30.2" y="543.59" font-size="11.8" fill="#1a1a1a" text-anchor="end" stroke="#1a1a1a" stroke-width="0.12">Mg</text>
<text x="30.2" y="560.51" font-size="11.8" fill="#1a1a1a" text-anchor="end" stroke="#1a1a1a" stroke-width="0.12">Na</text>
<text x="30.2" y="577.44" font-size="11.8" fill="#1a1a1a" text-anchor="end" stroke="#1a1a1a" stroke-width="0.12">Fe</text>
<text x="30.2" y="594.38" font-size="11.8" fill="#1a1a1a" text-anchor="end" stroke="#1a1a1a" stroke-width="0.12">Mn</text>
<text x="30.2" y="611.3" font-size="11.8" fill="#1a1a1a" text-anchor="end" stroke="#1a1a1a" stroke-width="0.12">Mo</text>
<text x="30.2" y="628.24" font-size="11.8" fill="#1a1a1a" text-anchor="end" stroke="#1a1a1a" stroke-width="0.12">Ni</text>
<text x="30.2" y="645.16" font-size="11.8" fill="#1a1a1a" text-anchor="end" stroke="#1a1a1a" stroke-width="0.12">Cu</text>
<text x="30.2" y="662.1" font-size="11.8" fill="#1a1a1a" text-anchor="end" stroke="#1a1a1a" stroke-width="0.12">Zn</text>
<text x="30.2" y="679.02" font-size="11.8" fill="#1a1a1a" text-anchor="end" stroke="#1a1a1a" stroke-width="0.12">Al</text>
<text x="30.2" y="695.95" font-size="11.8" fill="#1a1a1a" text-anchor="end" stroke="#1a1a1a" stroke-width="0.12">Ba</text>
<text x="30.2" y="712.88" font-size="11.8" fill="#1a1a1a" text-anchor="end" stroke="#1a1a1a" stroke-width="0.12">Be</text>
<text x="30.2" y="729.82" font-size="11.8" fill="#1a1a1a" text-anchor="end" stroke="#1a1a1a" stroke-width="0.12">Cd</text>
<text x="30.2" y="746.74" font-size="11.8" fill="#1a1a1a" text-anchor="end" stroke="#1a1a1a" stroke-width="0.12">Co</text>
<text x="30.2" y="763.67" font-size="11.8" fill="#1a1a1a" text-anchor="end" stroke="#1a1a1a" stroke-width="0.12">Cr</text>
<text x="30.2" y="780.61" font-size="11.8" fill="#1a1a1a" text-anchor="end" stroke="#1a1a1a" stroke-width="0.12">Pb</text>
<text x="30.2" y="797.53" font-size="11.8" fill="#1a1a1a" text-anchor="end" stroke="#1a1a1a" stroke-width="0.12">Sb</text>
<text x="30.2" y="814.46" font-size="11.8" fill="#1a1a1a" text-anchor="end" stroke="#1a1a1a" stroke-width="0.12">Sr</text>
<text x="30.2" y="831.39" font-size="11.8" fill="#1a1a1a" text-anchor="end" stroke="#1a1a1a" stroke-width="0.12">Ti</text>
<text x="30.2" y="848.33" font-size="11.8" fill="#1a1a1a" text-anchor="end" stroke="#1a1a1a" stroke-width="0.12">Tl</text>
<text x="30.2" y="865.25" font-size="11.8" fill="#1a1a1a" text-anchor="end" stroke="#1a1a1a" stroke-width="0.12">V</text>
<defs><linearGradient id="rdbu" x1="0" y1="0" x2="0" y2="1">
<stop offset="0.0" stop-color="#053061"/>
<stop offset="0.1" stop-color="#2166ac"/>
<stop offset="0.2" stop-color="#4393c3"/>
<stop offset="0.3" stop-color="#92c5de"/>
<stop offset="0.4" stop-color="#d1e5f0"/>
<stop offset="0.5" stop-color="#ffffff"/>
<stop offset="0.6" stop-color="#fddbc7"/>
<stop offset="0.7" stop-color="#f4a582"/>
<stop offset="0.8" stop-color="#d6604d"/>
<stop offset="0.9" stop-color="#b2182b"/>
<stop offset="1.0" stop-color="#67001f"/>
</linearGradient></defs>
<rect x="672" y="462" width="15.8" height="410" fill="url(#rdbu)" stroke="#222" stroke-width="1"/>
<line x1="687.8" y1="462" x2="691" y2="462" stroke="#222" stroke-width="0.8"/>
<text x="694.6" y="465.4" font-size="9.8" fill="#222" text-anchor="start" stroke="#222" stroke-width="0.12">1</text>
<line x1="687.8" y1="503" x2="691" y2="503" stroke="#222" stroke-width="0.8"/>
<text x="694.6" y="506.4" font-size="9.8" fill="#222" text-anchor="start" stroke="#222" stroke-width="0.12">0.8</text>
<line x1="687.8" y1="544" x2="691" y2="544" stroke="#222" stroke-width="0.8"/>
<text x="694.6" y="547.4" font-size="9.8" fill="#222" text-anchor="start" stroke="#222" stroke-width="0.12">0.6</text>
<line x1="687.8" y1="585" x2="691" y2="585" stroke="#222" stroke-width="0.8"/>
<text x="694.6" y="588.4" font-size="9.8" fill="#222" text-anchor="start" stroke="#222" stroke-width="0.12">0.4</text>
<line x1="687.8" y1="626" x2="691" y2="626" stroke="#222" stroke-width="0.8"/>
<text x="694.6" y="629.4" font-size="9.8" fill="#222" text-anchor="start" stroke="#222" stroke-width="0.12">0.2</text>
<line x1="687.8" y1="667" x2="691" y2="667" stroke="#222" stroke-width="0.8"/>
<text x="694.6" y="670.4" font-size="9.8" fill="#222" text-anchor="start" stroke="#222" stroke-width="0.12">0</text>
<line x1="687.8" y1="708" x2="691" y2="708" stroke="#222" stroke-width="0.8"/>
<text x="694.6" y="711.4" font-size="9.8" fill="#222" text-anchor="start" stroke="#222" stroke-width="0.12">−0.2</text>
<line x1="687.8" y1="749" x2="691" y2="749" stroke="#222" stroke-width="0.8"/>
<text x="694.6" y="752.4" font-size="9.8" fill="#222" text-anchor="start" stroke="#222" stroke-width="0.12">−0.4</text>
<line x1="687.8" y1="790" x2="691" y2="790" stroke="#222" stroke-width="0.8"/>
<text x="694.6" y="793.4" font-size="9.8" fill="#222" text-anchor="start" stroke="#222" stroke-width="0.12">−0.6</text>
<line x1="687.8" y1="831" x2="691" y2="831" stroke="#222" stroke-width="0.8"/>
<text x="694.6" y="834.4" font-size="9.8" fill="#222" text-anchor="start" stroke="#222" stroke-width="0.12">−0.8</text>
<line x1="687.8" y1="872" x2="691" y2="872" stroke="#222" stroke-width="0.8"/>
<text x="694.6" y="875.4" font-size="9.8" fill="#222" text-anchor="start" stroke="#222" stroke-width="0.12">−1</text>
<rect x="793" y="43.29" width="12.3" height="72.71" fill="#789db2"/>
<rect x="808.28" y="31.94" width="12.3" height="84.06" fill="#789db2"/>
<rect x="823.56" y="47.08" width="12.3" height="68.92" fill="#789db2"/>
<rect x="838.84" y="25.26" width="12.3" height="90.74" fill="#789db2"/>
<rect x="854.12" y="34.53" width="12.3" height="81.47" fill="#789db2"/>
<rect x="869.4" y="31.64" width="12.3" height="84.36" fill="#789db2"/>
<rect x="884.68" y="54.75" width="12.3" height="61.25" fill="#789db2"/>
<rect x="899.96" y="30.74" width="12.3" height="85.26" fill="#789db2"/>
<rect x="915.24" y="47.38" width="12.3" height="68.62" fill="#789db2"/>
<rect x="930.52" y="40.2" width="12.3" height="75.8" fill="#789db2"/>
<rect x="945.8" y="38.31" width="12.3" height="77.69" fill="#789db2"/>
<rect x="961.08" y="39.51" width="12.3" height="76.49" fill="#789db2"/>
<rect x="976.36" y="53.45" width="12.3" height="62.55" fill="#789db2"/>
<rect x="991.64" y="31.64" width="12.3" height="84.36" fill="#789db2"/>
<rect x="1006.92" y="51.46" width="12.3" height="64.54" fill="#789db2"/>
<rect x="1022.2" y="37.02" width="12.3" height="78.98" fill="#789db2"/>
<rect x="1037.48" y="44.89" width="12.3" height="71.11" fill="#789db2"/>
<rect x="1052.76" y="45.48" width="12.3" height="70.52" fill="#789db2"/>
<rect x="1068.04" y="30.05" width="12.3" height="85.95" fill="#789db2"/>
<rect x="1083.32" y="27.16" width="12.3" height="88.84" fill="#789db2"/>
<rect x="1098.6" y="23.07" width="12.3" height="92.93" fill="#789db2"/>
<rect x="1113.88" y="56.64" width="12.3" height="59.36" fill="#789db2"/>
<rect x="1129.16" y="42.1" width="12.3" height="73.9" fill="#789db2"/>
<rect x="1144.44" y="52.75" width="12.3" height="63.25" fill="#789db2"/>
<line x1="790" y1="13.2" x2="790" y2="116.7" stroke="#111" stroke-width="1.25"/>
<line x1="789.3" y1="116" x2="1159.5" y2="116" stroke="#111" stroke-width="1.3"/>
<line x1="787.6" y1="91.1" x2="790" y2="91.1" stroke="#333" stroke-width="0.8"/>
<text x="784.4" y="94.6" font-size="10" fill="#222" text-anchor="end" stroke="#222" stroke-width="0.12">25</text>
<line x1="787.6" y1="66.2" x2="790" y2="66.2" stroke="#333" stroke-width="0.8"/>
<text x="784.4" y="69.7" font-size="10" fill="#222" text-anchor="end" stroke="#222" stroke-width="0.12">50</text>
<line x1="787.6" y1="41.3" x2="790" y2="41.3" stroke="#333" stroke-width="0.8"/>
<text x="784.4" y="44.8" font-size="10" fill="#222" text-anchor="end" stroke="#222" stroke-width="0.12">75</text>
<line x1="787.6" y1="16.4" x2="790" y2="16.4" stroke="#333" stroke-width="0.8"/>
<text x="784.4" y="19.9" font-size="10" fill="#222" text-anchor="end" stroke="#222" stroke-width="0.12">100</text>
<text transform="translate(758.4,65.1) rotate(-90)" font-size="11.8" fill="#1a1a1a" stroke="#1a1a1a" stroke-width="0.12" text-anchor="middle">Explained variation (%)</text>
<g stroke="#fff" stroke-opacity="0.22" stroke-width="0.7">
<rect x="792.5" y="118" width="15.28" height="15.23" fill="#738faf"/>
<rect x="807.78" y="118" width="15.28" height="15.23" fill="#a6b7cc"/>
<rect x="823.06" y="118" width="15.28" height="15.23" fill="#869db9"/>
<rect x="838.34" y="118" width="15.28" height="15.23" fill="#9baec5"/>
<rect x="853.62" y="118" width="15.28" height="15.23" fill="#9baec5"/>
<rect x="868.9" y="118" width="15.28" height="15.23" fill="#50759b"/>
<rect x="884.18" y="118" width="15.28" height="15.23" fill="#9baec5"/>
<rect x="899.46" y="118" width="15.28" height="15.23" fill="#bdc9d9"/>
<rect x="914.74" y="118" width="15.28" height="15.23" fill="#c8d3e0"/>
<rect x="930.02" y="118" width="15.28" height="15.23" fill="#a6b7cc"/>
<rect x="945.3" y="118" width="15.28" height="15.23" fill="#90a5bf"/>
<rect x="960.58" y="118" width="15.28" height="15.23" fill="#9baec5"/>
<rect x="975.86" y="118" width="15.28" height="15.23" fill="#869db9"/>
<rect x="991.14" y="118" width="15.28" height="15.23" fill="#9baec5"/>
<rect x="1006.42" y="118" width="15.28" height="15.23" fill="#bdc9d9"/>
<rect x="1021.7" y="118" width="15.28" height="15.23" fill="#9baec5"/>
<rect x="1036.98" y="118" width="15.28" height="15.23" fill="#b1c0d2"/>
<rect x="1052.26" y="118" width="15.28" height="15.23" fill="#b1c0d2"/>
<rect x="1067.54" y="118" width="15.28" height="15.23" fill="#bdc9d9"/>
<rect x="1082.82" y="118" width="15.28" height="15.23" fill="#c8d3e0"/>
<rect x="1098.1" y="118" width="15.28" height="15.23" fill="#9baec5"/>
<rect x="1113.38" y="118" width="15.28" height="15.23" fill="#738faf"/>
<rect x="1128.66" y="118" width="15.28" height="15.23" fill="#e0e6ed"/>
<rect x="1143.94" y="118" width="15.28" height="15.23" fill="#90a5bf"/>
<rect x="792.5" y="133.23" width="15.28" height="15.23" fill="#90a5bf"/>
<rect x="807.78" y="133.23" width="15.28" height="15.23" fill="#587b9f"/>
<rect x="823.06" y="133.23" width="15.28" height="15.23" fill="#b1c0d2"/>
<rect x="838.34" y="133.23" width="15.28" height="15.23" fill="#2f5c88"/>
<rect x="853.62" y="133.23" width="15.28" height="15.23" fill="#869db9"/>
<rect x="868.9" y="133.23" width="15.28" height="15.23" fill="#b1c0d2"/>
<rect x="884.18" y="133.23" width="15.28" height="15.23" fill="#9baec5"/>
<rect x="899.46" y="133.23" width="15.28" height="15.23" fill="#a6b7cc"/>
<rect x="914.74" y="133.23" width="15.28" height="15.23" fill="#a6b7cc"/>
<rect x="930.02" y="133.23" width="15.28" height="15.23" fill="#9baec5"/>
<rect x="945.3" y="133.23" width="15.28" height="15.23" fill="#738faf"/>
<rect x="960.58" y="133.23" width="15.28" height="15.23" fill="#9baec5"/>
<rect x="975.86" y="133.23" width="15.28" height="15.23" fill="#90a5bf"/>
<rect x="991.14" y="133.23" width="15.28" height="15.23" fill="#a6b7cc"/>
<rect x="1006.42" y="133.23" width="15.28" height="15.23" fill="#c8d3e0"/>
<rect x="1021.7" y="133.23" width="15.28" height="15.23" fill="#a6b7cc"/>
<rect x="1036.98" y="133.23" width="15.28" height="15.23" fill="#90a5bf"/>
<rect x="1052.26" y="133.23" width="15.28" height="15.23" fill="#bdc9d9"/>
<rect x="1067.54" y="133.23" width="15.28" height="15.23" fill="#b1c0d2"/>
<rect x="1082.82" y="133.23" width="15.28" height="15.23" fill="#d4dde6"/>
<rect x="1098.1" y="133.23" width="15.28" height="15.23" fill="#b1c0d2"/>
<rect x="1113.38" y="133.23" width="15.28" height="15.23" fill="#9baec5"/>
<rect x="1128.66" y="133.23" width="15.28" height="15.23" fill="#d4dde6"/>
<rect x="1143.94" y="133.23" width="15.28" height="15.23" fill="#b1c0d2"/>
<rect x="792.5" y="148.45" width="15.28" height="15.23" fill="#869db9"/>
<rect x="807.78" y="148.45" width="15.28" height="15.23" fill="#90a5bf"/>
<rect x="823.06" y="148.45" width="15.28" height="15.23" fill="#90a5bf"/>
<rect x="838.34" y="148.45" width="15.28" height="15.23" fill="#b1c0d2"/>
<rect x="853.62" y="148.45" width="15.28" height="15.23" fill="#c8d3e0"/>
<rect x="868.9" y="148.45" width="15.28" height="15.23" fill="#b1c0d2"/>
<rect x="884.18" y="148.45" width="15.28" height="15.23" fill="#869db9"/>
<rect x="899.46" y="148.45" width="15.28" height="15.23" fill="#d4dde6"/>
<rect x="914.74" y="148.45" width="15.28" height="15.23" fill="#b1c0d2"/>
<rect x="930.02" y="148.45" width="15.28" height="15.23" fill="#b1c0d2"/>
<rect x="945.3" y="148.45" width="15.28" height="15.23" fill="#9baec5"/>
<rect x="960.58" y="148.45" width="15.28" height="15.23" fill="#90a5bf"/>
<rect x="975.86" y="148.45" width="15.28" height="15.23" fill="#738faf"/>
<rect x="991.14" y="148.45" width="15.28" height="15.23" fill="#a6b7cc"/>
<rect x="1006.42" y="148.45" width="15.28" height="15.23" fill="#bdc9d9"/>
<rect x="1021.7" y="148.45" width="15.28" height="15.23" fill="#90a5bf"/>
<rect x="1036.98" y="148.45" width="15.28" height="15.23" fill="#a6b7cc"/>
<rect x="1052.26" y="148.45" width="15.28" height="15.23" fill="#a6b7cc"/>
<rect x="1067.54" y="148.45" width="15.28" height="15.23" fill="#a6b7cc"/>
<rect x="1082.82" y="148.45" width="15.28" height="15.23" fill="#d4dde6"/>
<rect x="1098.1" y="148.45" width="15.28" height="15.23" fill="#b1c0d2"/>
<rect x="1113.38" y="148.45" width="15.28" height="15.23" fill="#7c96b4"/>
<rect x="1128.66" y="148.45" width="15.28" height="15.23" fill="#d4dde6"/>
<rect x="1143.94" y="148.45" width="15.28" height="15.23" fill="#9baec5"/>
<rect x="792.5" y="163.68" width="15.28" height="15.23" fill="#b1c0d2"/>
<rect x="807.78" y="163.68" width="15.28" height="15.23" fill="#7c96b4"/>
<rect x="823.06" y="163.68" width="15.28" height="15.23" fill="#a6b7cc"/>
<rect x="838.34" y="163.68" width="15.28" height="15.23" fill="#b1c0d2"/>
<rect x="853.62" y="163.68" width="15.28" height="15.23" fill="#bdc9d9"/>
<rect x="868.9" y="163.68" width="15.28" height="15.23" fill="#b1c0d2"/>
<rect x="884.18" y="163.68" width="15.28" height="15.23" fill="#b1c0d2"/>
<rect x="899.46" y="163.68" width="15.28" height="15.23" fill="#bdc9d9"/>
<rect x="914.74" y="163.68" width="15.28" height="15.23" fill="#b1c0d2"/>
<rect x="930.02" y="163.68" width="15.28" height="15.23" fill="#a6b7cc"/>
<rect x="945.3" y="163.68" width="15.28" height="15.23" fill="#9baec5"/>
<rect x="960.58" y="163.68" width="15.28" height="15.23" fill="#a6b7cc"/>
<rect x="975.86" y="163.68" width="15.28" height="15.23" fill="#b1c0d2"/>
<rect x="991.14" y="163.68" width="15.28" height="15.23" fill="#b1c0d2"/>
<rect x="1006.42" y="163.68" width="15.28" height="15.23" fill="#b1c0d2"/>
<rect x="1021.7" y="163.68" width="15.28" height="15.23" fill="#a6b7cc"/>
<rect x="1036.98" y="163.68" width="15.28" height="15.23" fill="#b1c0d2"/>
<rect x="1052.26" y="163.68" width="15.28" height="15.23" fill="#9baec5"/>
<rect x="1067.54" y="163.68" width="15.28" height="15.23" fill="#b1c0d2"/>
<rect x="1082.82" y="163.68" width="15.28" height="15.23" fill="#e0e6ed"/>
<rect x="1098.1" y="163.68" width="15.28" height="15.23" fill="#b1c0d2"/>
<rect x="1113.38" y="163.68" width="15.28" height="15.23" fill="#bdc9d9"/>
<rect x="1128.66" y="163.68" width="15.28" height="15.23" fill="#bdc9d9"/>
<rect x="1143.94" y="163.68" width="15.28" height="15.23" fill="#b1c0d2"/>
<rect x="792.5" y="178.91" width="15.28" height="15.23" fill="#90a5bf"/>
<rect x="807.78" y="178.91" width="15.28" height="15.23" fill="#869db9"/>
<rect x="823.06" y="178.91" width="15.28" height="15.23" fill="#869db9"/>
<rect x="838.34" y="178.91" width="15.28" height="15.23" fill="#90a5bf"/>
<rect x="853.62" y="178.91" width="15.28" height="15.23" fill="#9baec5"/>
<rect x="868.9" y="178.91" width="15.28" height="15.23" fill="#a6b7cc"/>
<rect x="884.18" y="178.91" width="15.28" height="15.23" fill="#7c96b4"/>
<rect x="899.46" y="178.91" width="15.28" height="15.23" fill="#bdc9d9"/>
<rect x="914.74" y="178.91" width="15.28" height="15.23" fill="#9baec5"/>
<rect x="930.02" y="178.91" width="15.28" height="15.23" fill="#a6b7cc"/>
<rect x="945.3" y="178.91" width="15.28" height="15.23" fill="#90a5bf"/>
<rect x="960.58" y="178.91" width="15.28" height="15.23" fill="#9baec5"/>
<rect x="975.86" y="178.91" width="15.28" height="15.23" fill="#869db9"/>
<rect x="991.14" y="178.91" width="15.28" height="15.23" fill="#a6b7cc"/>
<rect x="1006.42" y="178.91" width="15.28" height="15.23" fill="#a6b7cc"/>
<rect x="1021.7" y="178.91" width="15.28" height="15.23" fill="#9baec5"/>
<rect x="1036.98" y="178.91" width="15.28" height="15.23" fill="#9baec5"/>
<rect x="1052.26" y="178.91" width="15.28" height="15.23" fill="#b1c0d2"/>
<rect x="1067.54" y="178.91" width="15.28" height="15.23" fill="#9baec5"/>
<rect x="1082.82" y="178.91" width="15.28" height="15.23" fill="#bdc9d9"/>
<rect x="1098.1" y="178.91" width="15.28" height="15.23" fill="#a6b7cc"/>
<rect x="1113.38" y="178.91" width="15.28" height="15.23" fill="#90a5bf"/>
<rect x="1128.66" y="178.91" width="15.28" height="15.23" fill="#a6b7cc"/>
<rect x="1143.94" y="178.91" width="15.28" height="15.23" fill="#90a5bf"/>
<rect x="792.5" y="194.14" width="15.28" height="15.23" fill="#90a5bf"/>
<rect x="807.78" y="194.14" width="15.28" height="15.23" fill="#90a5bf"/>
<rect x="823.06" y="194.14" width="15.28" height="15.23" fill="#9baec5"/>
<rect x="838.34" y="194.14" width="15.28" height="15.23" fill="#9baec5"/>
<rect x="853.62" y="194.14" width="15.28" height="15.23" fill="#a6b7cc"/>
<rect x="868.9" y="194.14" width="15.28" height="15.23" fill="#b1c0d2"/>
<rect x="884.18" y="194.14" width="15.28" height="15.23" fill="#869db9"/>
<rect x="899.46" y="194.14" width="15.28" height="15.23" fill="#bdc9d9"/>
<rect x="914.74" y="194.14" width="15.28" height="15.23" fill="#a6b7cc"/>
<rect x="930.02" y="194.14" width="15.28" height="15.23" fill="#90a5bf"/>
<rect x="945.3" y="194.14" width="15.28" height="15.23" fill="#a6b7cc"/>
<rect x="960.58" y="194.14" width="15.28" height="15.23" fill="#a6b7cc"/>
<rect x="975.86" y="194.14" width="15.28" height="15.23" fill="#90a5bf"/>
<rect x="991.14" y="194.14" width="15.28" height="15.23" fill="#9baec5"/>
<rect x="1006.42" y="194.14" width="15.28" height="15.23" fill="#d4dde6"/>
<rect x="1021.7" y="194.14" width="15.28" height="15.23" fill="#9baec5"/>
<rect x="1036.98" y="194.14" width="15.28" height="15.23" fill="#a6b7cc"/>
<rect x="1052.26" y="194.14" width="15.28" height="15.23" fill="#9baec5"/>
<rect x="1067.54" y="194.14" width="15.28" height="15.23" fill="#a6b7cc"/>
<rect x="1082.82" y="194.14" width="15.28" height="15.23" fill="#bdc9d9"/>
<rect x="1098.1" y="194.14" width="15.28" height="15.23" fill="#a6b7cc"/>
<rect x="1113.38" y="194.14" width="15.28" height="15.23" fill="#90a5bf"/>
<rect x="1128.66" y="194.14" width="15.28" height="15.23" fill="#bdc9d9"/>
<rect x="1143.94" y="194.14" width="15.28" height="15.23" fill="#9baec5"/>
<rect x="792.5" y="209.36" width="15.28" height="15.23" fill="#7c96b4"/>
<rect x="807.78" y="209.36" width="15.28" height="15.23" fill="#869db9"/>
<rect x="823.06" y="209.36" width="15.28" height="15.23" fill="#9baec5"/>
<rect x="838.34" y="209.36" width="15.28" height="15.23" fill="#9baec5"/>
<rect x="853.62" y="209.36" width="15.28" height="15.23" fill="#a6b7cc"/>
<rect x="868.9" y="209.36" width="15.28" height="15.23" fill="#a6b7cc"/>
<rect x="884.18" y="209.36" width="15.28" height="15.23" fill="#869db9"/>
<rect x="899.46" y="209.36" width="15.28" height="15.23" fill="#b1c0d2"/>
<rect x="914.74" y="209.36" width="15.28" height="15.23" fill="#b1c0d2"/>
<rect x="930.02" y="209.36" width="15.28" height="15.23" fill="#a6b7cc"/>
<rect x="945.3" y="209.36" width="15.28" height="15.23" fill="#869db9"/>
<rect x="960.58" y="209.36" width="15.28" height="15.23" fill="#9baec5"/>
<rect x="975.86" y="209.36" width="15.28" height="15.23" fill="#869db9"/>
<rect x="991.14" y="209.36" width="15.28" height="15.23" fill="#b1c0d2"/>
<rect x="1006.42" y="209.36" width="15.28" height="15.23" fill="#bdc9d9"/>
<rect x="1021.7" y="209.36" width="15.28" height="15.23" fill="#90a5bf"/>
<rect x="1036.98" y="209.36" width="15.28" height="15.23" fill="#9baec5"/>
<rect x="1052.26" y="209.36" width="15.28" height="15.23" fill="#d4dde6"/>
<rect x="1067.54" y="209.36" width="15.28" height="15.23" fill="#a6b7cc"/>
<rect x="1082.82" y="209.36" width="15.28" height="15.23" fill="#bdc9d9"/>
<rect x="1098.1" y="209.36" width="15.28" height="15.23" fill="#a6b7cc"/>
<rect x="1113.38" y="209.36" width="15.28" height="15.23" fill="#9baec5"/>
<rect x="1128.66" y="209.36" width="15.28" height="15.23" fill="#b1c0d2"/>
<rect x="1143.94" y="209.36" width="15.28" height="15.23" fill="#a6b7cc"/>
<rect x="792.5" y="224.59" width="15.28" height="15.23" fill="#7c96b4"/>
<rect x="807.78" y="224.59" width="15.28" height="15.23" fill="#6a88a9"/>
<rect x="823.06" y="224.59" width="15.28" height="15.23" fill="#9baec5"/>
<rect x="838.34" y="224.59" width="15.28" height="15.23" fill="#a6b7cc"/>
<rect x="853.62" y="224.59" width="15.28" height="15.23" fill="#d4dde6"/>
<rect x="868.9" y="224.59" width="15.28" height="15.23" fill="#a6b7cc"/>
<rect x="884.18" y="224.59" width="15.28" height="15.23" fill="#9baec5"/>
<rect x="899.46" y="224.59" width="15.28" height="15.23" fill="#e0e6ed"/>
<rect x="914.74" y="224.59" width="15.28" height="15.23" fill="#b1c0d2"/>
<rect x="930.02" y="224.59" width="15.28" height="15.23" fill="#b1c0d2"/>
<rect x="945.3" y="224.59" width="15.28" height="15.23" fill="#9baec5"/>
<rect x="960.58" y="224.59" width="15.28" height="15.23" fill="#9baec5"/>
<rect x="975.86" y="224.59" width="15.28" height="15.23" fill="#9baec5"/>
<rect x="991.14" y="224.59" width="15.28" height="15.23" fill="#9baec5"/>
<rect x="1006.42" y="224.59" width="15.28" height="15.23" fill="#bdc9d9"/>
<rect x="1021.7" y="224.59" width="15.28" height="15.23" fill="#90a5bf"/>
<rect x="1036.98" y="224.59" width="15.28" height="15.23" fill="#a6b7cc"/>
<rect x="1052.26" y="224.59" width="15.28" height="15.23" fill="#c8d3e0"/>
<rect x="1067.54" y="224.59" width="15.28" height="15.23" fill="#b1c0d2"/>
<rect x="1082.82" y="224.59" width="15.28" height="15.23" fill="#c8d3e0"/>
<rect x="1098.1" y="224.59" width="15.28" height="15.23" fill="#a6b7cc"/>
<rect x="1113.38" y="224.59" width="15.28" height="15.23" fill="#bdc9d9"/>
<rect x="1128.66" y="224.59" width="15.28" height="15.23" fill="#bdc9d9"/>
<rect x="1143.94" y="224.59" width="15.28" height="15.23" fill="#b1c0d2"/>
<rect x="792.5" y="239.82" width="15.28" height="15.23" fill="#90a5bf"/>
<rect x="807.78" y="239.82" width="15.28" height="15.23" fill="#6a88a9"/>
<rect x="823.06" y="239.82" width="15.28" height="15.23" fill="#9baec5"/>
<rect x="838.34" y="239.82" width="15.28" height="15.23" fill="#9baec5"/>
<rect x="853.62" y="239.82" width="15.28" height="15.23" fill="#b1c0d2"/>
<rect x="868.9" y="239.82" width="15.28" height="15.23" fill="#b1c0d2"/>
<rect x="884.18" y="239.82" width="15.28" height="15.23" fill="#869db9"/>
<rect x="899.46" y="239.82" width="15.28" height="15.23" fill="#b1c0d2"/>
<rect x="914.74" y="239.82" width="15.28" height="15.23" fill="#a6b7cc"/>
<rect x="930.02" y="239.82" width="15.28" height="15.23" fill="#90a5bf"/>
<rect x="945.3" y="239.82" width="15.28" height="15.23" fill="#869db9"/>
<rect x="960.58" y="239.82" width="15.28" height="15.23" fill="#bdc9d9"/>
<rect x="975.86" y="239.82" width="15.28" height="15.23" fill="#869db9"/>
<rect x="991.14" y="239.82" width="15.28" height="15.23" fill="#b1c0d2"/>
<rect x="1006.42" y="239.82" width="15.28" height="15.23" fill="#c8d3e0"/>
<rect x="1021.7" y="239.82" width="15.28" height="15.23" fill="#869db9"/>
<rect x="1036.98" y="239.82" width="15.28" height="15.23" fill="#a6b7cc"/>
<rect x="1052.26" y="239.82" width="15.28" height="15.23" fill="#bdc9d9"/>
<rect x="1067.54" y="239.82" width="15.28" height="15.23" fill="#9baec5"/>
<rect x="1082.82" y="239.82" width="15.28" height="15.23" fill="#b1c0d2"/>
<rect x="1098.1" y="239.82" width="15.28" height="15.23" fill="#b1c0d2"/>
<rect x="1113.38" y="239.82" width="15.28" height="15.23" fill="#a6b7cc"/>
<rect x="1128.66" y="239.82" width="15.28" height="15.23" fill="#d4dde6"/>
<rect x="1143.94" y="239.82" width="15.28" height="15.23" fill="#a6b7cc"/>
<rect x="792.5" y="255.05" width="15.28" height="15.23" fill="#9baec5"/>
<rect x="807.78" y="255.05" width="15.28" height="15.23" fill="#869db9"/>
<rect x="823.06" y="255.05" width="15.28" height="15.23" fill="#9baec5"/>
<rect x="838.34" y="255.05" width="15.28" height="15.23" fill="#a6b7cc"/>
<rect x="853.62" y="255.05" width="15.28" height="15.23" fill="#9baec5"/>
<rect x="868.9" y="255.05" width="15.28" height="15.23" fill="#bdc9d9"/>
<rect x="884.18" y="255.05" width="15.28" height="15.23" fill="#90a5bf"/>
<rect x="899.46" y="255.05" width="15.28" height="15.23" fill="#b1c0d2"/>
<rect x="914.74" y="255.05" width="15.28" height="15.23" fill="#869db9"/>
<rect x="930.02" y="255.05" width="15.28" height="15.23" fill="#9baec5"/>
<rect x="945.3" y="255.05" width="15.28" height="15.23" fill="#9baec5"/>
<rect x="960.58" y="255.05" width="15.28" height="15.23" fill="#7c96b4"/>
<rect x="975.86" y="255.05" width="15.28" height="15.23" fill="#869db9"/>
<rect x="991.14" y="255.05" width="15.28" height="15.23" fill="#a6b7cc"/>
<rect x="1006.42" y="255.05" width="15.28" height="15.23" fill="#9baec5"/>
<rect x="1021.7" y="255.05" width="15.28" height="15.23" fill="#869db9"/>
<rect x="1036.98" y="255.05" width="15.28" height="15.23" fill="#9baec5"/>
<rect x="1052.26" y="255.05" width="15.28" height="15.23" fill="#b1c0d2"/>
<rect x="1067.54" y="255.05" width="15.28" height="15.23" fill="#a6b7cc"/>
<rect x="1082.82" y="255.05" width="15.28" height="15.23" fill="#d4dde6"/>
<rect x="1098.1" y="255.05" width="15.28" height="15.23" fill="#b1c0d2"/>
<rect x="1113.38" y="255.05" width="15.28" height="15.23" fill="#9baec5"/>
<rect x="1128.66" y="255.05" width="15.28" height="15.23" fill="#bdc9d9"/>
<rect x="1143.94" y="255.05" width="15.28" height="15.23" fill="#90a5bf"/>
<rect x="792.5" y="270.27" width="15.28" height="15.23" fill="#869db9"/>
<rect x="807.78" y="270.27" width="15.28" height="15.23" fill="#90a5bf"/>
<rect x="823.06" y="270.27" width="15.28" height="15.23" fill="#a6b7cc"/>
<rect x="838.34" y="270.27" width="15.28" height="15.23" fill="#7c96b4"/>
<rect x="853.62" y="270.27" width="15.28" height="15.23" fill="#90a5bf"/>
<rect x="868.9" y="270.27" width="15.28" height="15.23" fill="#a6b7cc"/>
<rect x="884.18" y="270.27" width="15.28" height="15.23" fill="#869db9"/>
<rect x="899.46" y="270.27" width="15.28" height="15.23" fill="#b1c0d2"/>
<rect x="914.74" y="270.27" width="15.28" height="15.23" fill="#b1c0d2"/>
<rect x="930.02" y="270.27" width="15.28" height="15.23" fill="#90a5bf"/>
<rect x="945.3" y="270.27" width="15.28" height="15.23" fill="#738faf"/>
<rect x="960.58" y="270.27" width="15.28" height="15.23" fill="#90a5bf"/>
<rect x="975.86" y="270.27" width="15.28" height="15.23" fill="#869db9"/>
<rect x="991.14" y="270.27" width="15.28" height="15.23" fill="#9baec5"/>
<rect x="1006.42" y="270.27" width="15.28" height="15.23" fill="#b1c0d2"/>
<rect x="1021.7" y="270.27" width="15.28" height="15.23" fill="#90a5bf"/>
<rect x="1036.98" y="270.27" width="15.28" height="15.23" fill="#6a88a9"/>
<rect x="1052.26" y="270.27" width="15.28" height="15.23" fill="#bdc9d9"/>
<rect x="1067.54" y="270.27" width="15.28" height="15.23" fill="#9baec5"/>
<rect x="1082.82" y="270.27" width="15.28" height="15.23" fill="#d4dde6"/>
<rect x="1098.1" y="270.27" width="15.28" height="15.23" fill="#9baec5"/>
<rect x="1113.38" y="270.27" width="15.28" height="15.23" fill="#b1c0d2"/>
<rect x="1128.66" y="270.27" width="15.28" height="15.23" fill="#bdc9d9"/>
<rect x="1143.94" y="270.27" width="15.28" height="15.23" fill="#b1c0d2"/>
</g>
<text x="784.8" y="131.55" font-size="10.5" fill="#1a1a1a" text-anchor="end" stroke="#1a1a1a" stroke-width="0.12">CIA</text>
<text x="784.8" y="146.75" font-size="10.5" fill="#1a1a1a" text-anchor="end" stroke="#1a1a1a" stroke-width="0.12">pH</text>
<text x="784.8" y="161.94" font-size="10.5" fill="#1a1a1a" text-anchor="end" stroke="#1a1a1a" stroke-width="0.12">Moisture</text>
<text x="784.8" y="177.13" font-size="10.5" fill="#1a1a1a" text-anchor="end" stroke="#1a1a1a" stroke-width="0.12">NDVI</text>
<text x="784.8" y="192.33" font-size="10.5" fill="#1a1a1a" text-anchor="end" stroke="#1a1a1a" stroke-width="0.12">N deposition</text>
<text x="784.8" y="207.53" font-size="10.5" fill="#1a1a1a" text-anchor="end" stroke="#1a1a1a" stroke-width="0.12">AI</text>
<text x="784.8" y="222.72" font-size="10.5" fill="#1a1a1a" text-anchor="end" stroke="#1a1a1a" stroke-width="0.12">MAT</text>
<text x="784.8" y="237.91" font-size="10.5" fill="#1a1a1a" text-anchor="end" stroke="#1a1a1a" stroke-width="0.12">MAP</text>
<text x="784.8" y="253.11" font-size="10.5" fill="#1a1a1a" text-anchor="end" stroke="#1a1a1a" stroke-width="0.12">Altitude</text>
<text x="784.8" y="268.31" font-size="10.5" fill="#1a1a1a" text-anchor="end" stroke="#1a1a1a" stroke-width="0.12">Longitude</text>
<text x="784.8" y="283.5" font-size="10.5" fill="#1a1a1a" text-anchor="end" stroke="#1a1a1a" stroke-width="0.12">Latitude</text>
<text x="796.94" y="296.9" font-size="10.4" fill="#1a1a1a" text-anchor="middle" stroke="#1a1a1a" stroke-width="0.12">SOC</text>
<text x="817.16" y="296.9" font-size="10.4" fill="#1a1a1a" text-anchor="middle" stroke="#1a1a1a" stroke-width="0.12">P</text>
<text x="830.79" y="296.9" font-size="10.4" fill="#1a1a1a" text-anchor="middle" stroke="#1a1a1a" stroke-width="0.12">K</text>
<text x="846.11" y="296.9" font-size="10.4" fill="#1a1a1a" text-anchor="middle" stroke="#1a1a1a" stroke-width="0.12">Ca</text>
<text x="861.43" y="296.9" font-size="10.4" fill="#1a1a1a" text-anchor="middle" stroke="#1a1a1a" stroke-width="0.12">Mg</text>
<text x="876.76" y="296.9" font-size="10.4" fill="#1a1a1a" text-anchor="middle" stroke="#1a1a1a" stroke-width="0.12">Na</text>
<text x="892.08" y="296.9" font-size="10.4" fill="#1a1a1a" text-anchor="middle" stroke="#1a1a1a" stroke-width="0.12">Fe</text>
<text x="907.4" y="296.9" font-size="10.4" fill="#1a1a1a" text-anchor="middle" stroke="#1a1a1a" stroke-width="0.12">Mn</text>
<text x="922.73" y="296.9" font-size="10.4" fill="#1a1a1a" text-anchor="middle" stroke="#1a1a1a" stroke-width="0.12">Mo</text>
<text x="938.05" y="296.9" font-size="10.4" fill="#1a1a1a" text-anchor="middle" stroke="#1a1a1a" stroke-width="0.12">Ni</text>
<text x="953.37" y="296.9" font-size="10.4" fill="#1a1a1a" text-anchor="middle" stroke="#1a1a1a" stroke-width="0.12">Cu</text>
<text x="968.7" y="296.9" font-size="10.4" fill="#1a1a1a" text-anchor="middle" stroke="#1a1a1a" stroke-width="0.12">Zn</text>
<text x="984.02" y="296.9" font-size="10.4" fill="#1a1a1a" text-anchor="middle" stroke="#1a1a1a" stroke-width="0.12">Al</text>
<text x="999.35" y="296.9" font-size="10.4" fill="#1a1a1a" text-anchor="middle" stroke="#1a1a1a" stroke-width="0.12">Ba</text>
<text x="1014.67" y="296.9" font-size="10.4" fill="#1a1a1a" text-anchor="middle" stroke="#1a1a1a" stroke-width="0.12">Be</text>
<text x="1029.99" y="296.9" font-size="10.4" fill="#1a1a1a" text-anchor="middle" stroke="#1a1a1a" stroke-width="0.12">Cd</text>
<text x="1045.32" y="296.9" font-size="10.4" fill="#1a1a1a" text-anchor="middle" stroke="#1a1a1a" stroke-width="0.12">Co</text>
<text x="1060.64" y="296.9" font-size="10.4" fill="#1a1a1a" text-anchor="middle" stroke="#1a1a1a" stroke-width="0.12">Cr</text>
<text x="1075.96" y="296.9" font-size="10.4" fill="#1a1a1a" text-anchor="middle" stroke="#1a1a1a" stroke-width="0.12">Pb</text>
<text x="1091.29" y="296.9" font-size="10.4" fill="#1a1a1a" text-anchor="middle" stroke="#1a1a1a" stroke-width="0.12">Sb</text>
<text x="1106.61" y="296.9" font-size="10.4" fill="#1a1a1a" text-anchor="middle" stroke="#1a1a1a" stroke-width="0.12">Sr</text>
<text x="1121.93" y="296.9" font-size="10.4" fill="#1a1a1a" text-anchor="middle" stroke="#1a1a1a" stroke-width="0.12">Ti</text>
<text x="1137.26" y="296.9" font-size="10.4" fill="#1a1a1a" text-anchor="middle" stroke="#1a1a1a" stroke-width="0.12">Tl</text>
<text x="1152.58" y="296.9" font-size="10.4" fill="#1a1a1a" text-anchor="middle" stroke="#1a1a1a" stroke-width="0.12">V</text>
<rect x="1159.6" y="12" width="16" height="273.5" fill="#fff" stroke="#7a7a7a" stroke-width="1"/>
<text transform="translate(1173.2,148.75) rotate(-90)" font-size="12.5" fill="#1a1a1a" stroke="#1a1a1a" stroke-width="0.12" text-anchor="middle">O horizon</text>
<rect x="793" y="354.27" width="12.3" height="57.93" fill="#789db2"/>
<rect x="808.27" y="329.37" width="12.3" height="82.83" fill="#789db2"/>
<rect x="823.55" y="337.8" width="12.3" height="74.4" fill="#789db2"/>
<rect x="838.83" y="323.45" width="12.3" height="88.75" fill="#789db2"/>
<rect x="854.1" y="327.46" width="12.3" height="84.74" fill="#789db2"/>
<rect x="869.38" y="322.84" width="12.3" height="89.36" fill="#789db2"/>
<rect x="884.65" y="343.43" width="12.3" height="68.77" fill="#789db2"/>
<rect x="899.92" y="341.32" width="12.3" height="70.88" fill="#789db2"/>
<rect x="915.2" y="340.61" width="12.3" height="71.59" fill="#789db2"/>
<rect x="930.48" y="328.27" width="12.3" height="83.93" fill="#789db2"/>
<rect x="945.75" y="327.86" width="12.3" height="84.34" fill="#789db2"/>
<rect x="961.02" y="331.08" width="12.3" height="81.12" fill="#789db2"/>
<rect x="976.3" y="346.44" width="12.3" height="65.76" fill="#789db2"/>
<rect x="991.58" y="322.34" width="12.3" height="89.86" fill="#789db2"/>
<rect x="1006.85" y="336.2" width="12.3" height="76" fill="#789db2"/>
<rect x="1022.12" y="341.82" width="12.3" height="70.38" fill="#789db2"/>
<rect x="1037.4" y="333.19" width="12.3" height="79.01" fill="#789db2"/>
<rect x="1052.67" y="323.45" width="12.3" height="88.75" fill="#789db2"/>
<rect x="1067.95" y="332.28" width="12.3" height="79.92" fill="#789db2"/>
<rect x="1083.22" y="326.16" width="12.3" height="86.04" fill="#789db2"/>
<rect x="1098.5" y="316.52" width="12.3" height="95.68" fill="#789db2"/>
<rect x="1113.78" y="344.83" width="12.3" height="67.37" fill="#789db2"/>
<rect x="1129.05" y="332.48" width="12.3" height="79.72" fill="#789db2"/>
<rect x="1144.33" y="334.39" width="12.3" height="77.81" fill="#789db2"/>
<line x1="790" y1="308.1" x2="790" y2="412.9" stroke="#111" stroke-width="1.25"/>
<line x1="789.3" y1="412.2" x2="1159.5" y2="412.2" stroke="#111" stroke-width="1.3"/>
<line x1="787.6" y1="387.1" x2="790" y2="387.1" stroke="#333" stroke-width="0.8"/>
<text x="784.4" y="390.6" font-size="10" fill="#222" text-anchor="end" stroke="#222" stroke-width="0.12">25</text>
<line x1="787.6" y1="362" x2="790" y2="362" stroke="#333" stroke-width="0.8"/>
<text x="784.4" y="365.5" font-size="10" fill="#222" text-anchor="end" stroke="#222" stroke-width="0.12">50</text>
<line x1="787.6" y1="336.9" x2="790" y2="336.9" stroke="#333" stroke-width="0.8"/>
<text x="784.4" y="340.4" font-size="10" fill="#222" text-anchor="end" stroke="#222" stroke-width="0.12">75</text>
<line x1="787.6" y1="311.8" x2="790" y2="311.8" stroke="#333" stroke-width="0.8"/>
<text x="784.4" y="315.3" font-size="10" fill="#222" text-anchor="end" stroke="#222" stroke-width="0.12">100</text>
<text transform="translate(758.4,360.65) rotate(-90)" font-size="11.8" fill="#1a1a1a" stroke="#1a1a1a" stroke-width="0.12" text-anchor="middle">Explained variation (%)</text>
<g stroke="#fff" stroke-opacity="0.22" stroke-width="0.7">
<rect x="791.1" y="414.1" width="15.28" height="15.22" fill="#738faf"/>
<rect x="806.38" y="414.1" width="15.28" height="15.22" fill="#738faf"/>
<rect x="821.65" y="414.1" width="15.28" height="15.22" fill="#587b9f"/>
<rect x="836.93" y="414.1" width="15.28" height="15.22" fill="#869db9"/>
<rect x="852.2" y="414.1" width="15.28" height="15.22" fill="#a6b7cc"/>
<rect x="867.48" y="414.1" width="15.28" height="15.22" fill="#476e96"/>
<rect x="882.75" y="414.1" width="15.28" height="15.22" fill="#6a88a9"/>
<rect x="898.02" y="414.1" width="15.28" height="15.22" fill="#b1c0d2"/>
<rect x="913.3" y="414.1" width="15.28" height="15.22" fill="#c8d3e0"/>
<rect x="928.58" y="414.1" width="15.28" height="15.22" fill="#90a5bf"/>
<rect x="943.85" y="414.1" width="15.28" height="15.22" fill="#6a88a9"/>
<rect x="959.12" y="414.1" width="15.28" height="15.22" fill="#a6b7cc"/>
<rect x="974.4" y="414.1" width="15.28" height="15.22" fill="#869db9"/>
<rect x="989.68" y="414.1" width="15.28" height="15.22" fill="#a6b7cc"/>
<rect x="1004.95" y="414.1" width="15.28" height="15.22" fill="#90a5bf"/>
<rect x="1020.23" y="414.1" width="15.28" height="15.22" fill="#bdc9d9"/>
<rect x="1035.5" y="414.1" width="15.28" height="15.22" fill="#a6b7cc"/>
<rect x="1050.78" y="414.1" width="15.28" height="15.22" fill="#c8d3e0"/>
<rect x="1066.05" y="414.1" width="15.28" height="15.22" fill="#c8d3e0"/>
<rect x="1081.33" y="414.1" width="15.28" height="15.22" fill="#d4dde6"/>
<rect x="1096.6" y="414.1" width="15.28" height="15.22" fill="#869db9"/>
<rect x="1111.88" y="414.1" width="15.28" height="15.22" fill="#6a88a9"/>
<rect x="1127.15" y="414.1" width="15.28" height="15.22" fill="#c8d3e0"/>
<rect x="1142.42" y="414.1" width="15.28" height="15.22" fill="#869db9"/>
<rect x="791.1" y="429.32" width="15.28" height="15.22" fill="#b1c0d2"/>
<rect x="806.38" y="429.32" width="15.28" height="15.22" fill="#738faf"/>
<rect x="821.65" y="429.32" width="15.28" height="15.22" fill="#7c96b4"/>
<rect x="836.93" y="429.32" width="15.28" height="15.22" fill="#6182a4"/>
<rect x="852.2" y="429.32" width="15.28" height="15.22" fill="#7c96b4"/>
<rect x="867.48" y="429.32" width="15.28" height="15.22" fill="#9baec5"/>
<rect x="882.75" y="429.32" width="15.28" height="15.22" fill="#738faf"/>
<rect x="898.02" y="429.32" width="15.28" height="15.22" fill="#90a5bf"/>
<rect x="913.3" y="429.32" width="15.28" height="15.22" fill="#c8d3e0"/>
<rect x="928.58" y="429.32" width="15.28" height="15.22" fill="#7c96b4"/>
<rect x="943.85" y="429.32" width="15.28" height="15.22" fill="#587b9f"/>
<rect x="959.12" y="429.32" width="15.28" height="15.22" fill="#869db9"/>
<rect x="974.4" y="429.32" width="15.28" height="15.22" fill="#869db9"/>
<rect x="989.68" y="429.32" width="15.28" height="15.22" fill="#a6b7cc"/>
<rect x="1004.95" y="429.32" width="15.28" height="15.22" fill="#90a5bf"/>
<rect x="1020.23" y="429.32" width="15.28" height="15.22" fill="#b1c0d2"/>
<rect x="1035.5" y="429.32" width="15.28" height="15.22" fill="#7c96b4"/>
<rect x="1050.78" y="429.32" width="15.28" height="15.22" fill="#bdc9d9"/>
<rect x="1066.05" y="429.32" width="15.28" height="15.22" fill="#c8d3e0"/>
<rect x="1081.33" y="429.32" width="15.28" height="15.22" fill="#ecf0f4"/>
<rect x="1096.6" y="429.32" width="15.28" height="15.22" fill="#bdc9d9"/>
<rect x="1111.88" y="429.32" width="15.28" height="15.22" fill="#738faf"/>
<rect x="1127.15" y="429.32" width="15.28" height="15.22" fill="#c8d3e0"/>
<rect x="1142.42" y="429.32" width="15.28" height="15.22" fill="#a6b7cc"/>
<rect x="791.1" y="444.54" width="15.28" height="15.22" fill="#3f6891"/>
<rect x="806.38" y="444.54" width="15.28" height="15.22" fill="#6a88a9"/>
<rect x="821.65" y="444.54" width="15.28" height="15.22" fill="#587b9f"/>
<rect x="836.93" y="444.54" width="15.28" height="15.22" fill="#b1c0d2"/>
<rect x="852.2" y="444.54" width="15.28" height="15.22" fill="#bdc9d9"/>
<rect x="867.48" y="444.54" width="15.28" height="15.22" fill="#9baec5"/>
<rect x="882.75" y="444.54" width="15.28" height="15.22" fill="#6a88a9"/>
<rect x="898.02" y="444.54" width="15.28" height="15.22" fill="#bdc9d9"/>
<rect x="913.3" y="444.54" width="15.28" height="15.22" fill="#a6b7cc"/>
<rect x="928.58" y="444.54" width="15.28" height="15.22" fill="#90a5bf"/>
<rect x="943.85" y="444.54" width="15.28" height="15.22" fill="#7c96b4"/>
<rect x="959.12" y="444.54" width="15.28" height="15.22" fill="#90a5bf"/>
<rect x="974.4" y="444.54" width="15.28" height="15.22" fill="#3f6891"/>
<rect x="989.68" y="444.54" width="15.28" height="15.22" fill="#9baec5"/>
<rect x="1004.95" y="444.54" width="15.28" height="15.22" fill="#6a88a9"/>
<rect x="1020.23" y="444.54" width="15.28" height="15.22" fill="#7c96b4"/>
<rect x="1035.5" y="444.54" width="15.28" height="15.22" fill="#9baec5"/>
<rect x="1050.78" y="444.54" width="15.28" height="15.22" fill="#bdc9d9"/>
<rect x="1066.05" y="444.54" width="15.28" height="15.22" fill="#a6b7cc"/>
<rect x="1081.33" y="444.54" width="15.28" height="15.22" fill="#d4dde6"/>
<rect x="1096.6" y="444.54" width="15.28" height="15.22" fill="#b1c0d2"/>
<rect x="1111.88" y="444.54" width="15.28" height="15.22" fill="#587b9f"/>
<rect x="1127.15" y="444.54" width="15.28" height="15.22" fill="#b1c0d2"/>
<rect x="1142.42" y="444.54" width="15.28" height="15.22" fill="#869db9"/>
<rect x="791.1" y="459.75" width="15.28" height="15.22" fill="#9baec5"/>
<rect x="806.38" y="459.75" width="15.28" height="15.22" fill="#7c96b4"/>
<rect x="821.65" y="459.75" width="15.28" height="15.22" fill="#9baec5"/>
<rect x="836.93" y="459.75" width="15.28" height="15.22" fill="#b1c0d2"/>
<rect x="852.2" y="459.75" width="15.28" height="15.22" fill="#b1c0d2"/>
<rect x="867.48" y="459.75" width="15.28" height="15.22" fill="#bdc9d9"/>
<rect x="882.75" y="459.75" width="15.28" height="15.22" fill="#9baec5"/>
<rect x="898.02" y="459.75" width="15.28" height="15.22" fill="#bdc9d9"/>
<rect x="913.3" y="459.75" width="15.28" height="15.22" fill="#bdc9d9"/>
<rect x="928.58" y="459.75" width="15.28" height="15.22" fill="#9baec5"/>
<rect x="943.85" y="459.75" width="15.28" height="15.22" fill="#9baec5"/>
<rect x="959.12" y="459.75" width="15.28" height="15.22" fill="#90a5bf"/>
<rect x="974.4" y="459.75" width="15.28" height="15.22" fill="#9baec5"/>
<rect x="989.68" y="459.75" width="15.28" height="15.22" fill="#b1c0d2"/>
<rect x="1004.95" y="459.75" width="15.28" height="15.22" fill="#b1c0d2"/>
<rect x="1020.23" y="459.75" width="15.28" height="15.22" fill="#a6b7cc"/>
<rect x="1035.5" y="459.75" width="15.28" height="15.22" fill="#b1c0d2"/>
<rect x="1050.78" y="459.75" width="15.28" height="15.22" fill="#b1c0d2"/>
<rect x="1066.05" y="459.75" width="15.28" height="15.22" fill="#bdc9d9"/>
<rect x="1081.33" y="459.75" width="15.28" height="15.22" fill="#e0e6ed"/>
<rect x="1096.6" y="459.75" width="15.28" height="15.22" fill="#b1c0d2"/>
<rect x="1111.88" y="459.75" width="15.28" height="15.22" fill="#869db9"/>
<rect x="1127.15" y="459.75" width="15.28" height="15.22" fill="#bdc9d9"/>
<rect x="1142.42" y="459.75" width="15.28" height="15.22" fill="#90a5bf"/>
<rect x="791.1" y="474.97" width="15.28" height="15.22" fill="#9baec5"/>
<rect x="806.38" y="474.97" width="15.28" height="15.22" fill="#6a88a9"/>
<rect x="821.65" y="474.97" width="15.28" height="15.22" fill="#6a88a9"/>
<rect x="836.93" y="474.97" width="15.28" height="15.22" fill="#7c96b4"/>
<rect x="852.2" y="474.97" width="15.28" height="15.22" fill="#6a88a9"/>
<rect x="867.48" y="474.97" width="15.28" height="15.22" fill="#9baec5"/>
<rect x="882.75" y="474.97" width="15.28" height="15.22" fill="#6a88a9"/>
<rect x="898.02" y="474.97" width="15.28" height="15.22" fill="#b1c0d2"/>
<rect x="913.3" y="474.97" width="15.28" height="15.22" fill="#a6b7cc"/>
<rect x="928.58" y="474.97" width="15.28" height="15.22" fill="#869db9"/>
<rect x="943.85" y="474.97" width="15.28" height="15.22" fill="#7c96b4"/>
<rect x="959.12" y="474.97" width="15.28" height="15.22" fill="#869db9"/>
<rect x="974.4" y="474.97" width="15.28" height="15.22" fill="#6182a4"/>
<rect x="989.68" y="474.97" width="15.28" height="15.22" fill="#90a5bf"/>
<rect x="1004.95" y="474.97" width="15.28" height="15.22" fill="#6a88a9"/>
<rect x="1020.23" y="474.97" width="15.28" height="15.22" fill="#90a5bf"/>
<rect x="1035.5" y="474.97" width="15.28" height="15.22" fill="#738faf"/>
<rect x="1050.78" y="474.97" width="15.28" height="15.22" fill="#869db9"/>
<rect x="1066.05" y="474.97" width="15.28" height="15.22" fill="#869db9"/>
<rect x="1081.33" y="474.97" width="15.28" height="15.22" fill="#c8d3e0"/>
<rect x="1096.6" y="474.97" width="15.28" height="15.22" fill="#869db9"/>
<rect x="1111.88" y="474.97" width="15.28" height="15.22" fill="#7c96b4"/>
<rect x="1127.15" y="474.97" width="15.28" height="15.22" fill="#90a5bf"/>
<rect x="1142.42" y="474.97" width="15.28" height="15.22" fill="#738faf"/>
<rect x="791.1" y="490.19" width="15.28" height="15.22" fill="#9baec5"/>
<rect x="806.38" y="490.19" width="15.28" height="15.22" fill="#869db9"/>
<rect x="821.65" y="490.19" width="15.28" height="15.22" fill="#869db9"/>
<rect x="836.93" y="490.19" width="15.28" height="15.22" fill="#b1c0d2"/>
<rect x="852.2" y="490.19" width="15.28" height="15.22" fill="#c8d3e0"/>
<rect x="867.48" y="490.19" width="15.28" height="15.22" fill="#9baec5"/>
<rect x="882.75" y="490.19" width="15.28" height="15.22" fill="#90a5bf"/>
<rect x="898.02" y="490.19" width="15.28" height="15.22" fill="#b1c0d2"/>
<rect x="913.3" y="490.19" width="15.28" height="15.22" fill="#bdc9d9"/>
<rect x="928.58" y="490.19" width="15.28" height="15.22" fill="#9baec5"/>
<rect x="943.85" y="490.19" width="15.28" height="15.22" fill="#9baec5"/>
<rect x="959.12" y="490.19" width="15.28" height="15.22" fill="#9baec5"/>
<rect x="974.4" y="490.19" width="15.28" height="15.22" fill="#869db9"/>
<rect x="989.68" y="490.19" width="15.28" height="15.22" fill="#b1c0d2"/>
<rect x="1004.95" y="490.19" width="15.28" height="15.22" fill="#a6b7cc"/>
<rect x="1020.23" y="490.19" width="15.28" height="15.22" fill="#b1c0d2"/>
<rect x="1035.5" y="490.19" width="15.28" height="15.22" fill="#b1c0d2"/>
<rect x="1050.78" y="490.19" width="15.28" height="15.22" fill="#d4dde6"/>
<rect x="1066.05" y="490.19" width="15.28" height="15.22" fill="#a6b7cc"/>
<rect x="1081.33" y="490.19" width="15.28" height="15.22" fill="#d4dde6"/>
<rect x="1096.6" y="490.19" width="15.28" height="15.22" fill="#a6b7cc"/>
<rect x="1111.88" y="490.19" width="15.28" height="15.22" fill="#9baec5"/>
<rect x="1127.15" y="490.19" width="15.28" height="15.22" fill="#b1c0d2"/>
<rect x="1142.42" y="490.19" width="15.28" height="15.22" fill="#bdc9d9"/>
<rect x="791.1" y="505.41" width="15.28" height="15.22" fill="#90a5bf"/>
<rect x="806.38" y="505.41" width="15.28" height="15.22" fill="#7c96b4"/>
<rect x="821.65" y="505.41" width="15.28" height="15.22" fill="#90a5bf"/>
<rect x="836.93" y="505.41" width="15.28" height="15.22" fill="#9baec5"/>
<rect x="852.2" y="505.41" width="15.28" height="15.22" fill="#a6b7cc"/>
<rect x="867.48" y="505.41" width="15.28" height="15.22" fill="#9baec5"/>
<rect x="882.75" y="505.41" width="15.28" height="15.22" fill="#7c96b4"/>
<rect x="898.02" y="505.41" width="15.28" height="15.22" fill="#b1c0d2"/>
<rect x="913.3" y="505.41" width="15.28" height="15.22" fill="#b1c0d2"/>
<rect x="928.58" y="505.41" width="15.28" height="15.22" fill="#90a5bf"/>
<rect x="943.85" y="505.41" width="15.28" height="15.22" fill="#6a88a9"/>
<rect x="959.12" y="505.41" width="15.28" height="15.22" fill="#90a5bf"/>
<rect x="974.4" y="505.41" width="15.28" height="15.22" fill="#90a5bf"/>
<rect x="989.68" y="505.41" width="15.28" height="15.22" fill="#b1c0d2"/>
<rect x="1004.95" y="505.41" width="15.28" height="15.22" fill="#b1c0d2"/>
<rect x="1020.23" y="505.41" width="15.28" height="15.22" fill="#a6b7cc"/>
<rect x="1035.5" y="505.41" width="15.28" height="15.22" fill="#90a5bf"/>
<rect x="1050.78" y="505.41" width="15.28" height="15.22" fill="#d4dde6"/>
<rect x="1066.05" y="505.41" width="15.28" height="15.22" fill="#a6b7cc"/>
<rect x="1081.33" y="505.41" width="15.28" height="15.22" fill="#b1c0d2"/>
<rect x="1096.6" y="505.41" width="15.28" height="15.22" fill="#b1c0d2"/>
<rect x="1111.88" y="505.41" width="15.28" height="15.22" fill="#869db9"/>
<rect x="1127.15" y="505.41" width="15.28" height="15.22" fill="#b1c0d2"/>
<rect x="1142.42" y="505.41" width="15.28" height="15.22" fill="#a6b7cc"/>
<rect x="791.1" y="520.63" width="15.28" height="15.22" fill="#869db9"/>
<rect x="806.38" y="520.63" width="15.28" height="15.22" fill="#738faf"/>
<rect x="821.65" y="520.63" width="15.28" height="15.22" fill="#869db9"/>
<rect x="836.93" y="520.63" width="15.28" height="15.22" fill="#b1c0d2"/>
<rect x="852.2" y="520.63" width="15.28" height="15.22" fill="#d4dde6"/>
<rect x="867.48" y="520.63" width="15.28" height="15.22" fill="#9baec5"/>
<rect x="882.75" y="520.63" width="15.28" height="15.22" fill="#90a5bf"/>
<rect x="898.02" y="520.63" width="15.28" height="15.22" fill="#bdc9d9"/>
<rect x="913.3" y="520.63" width="15.28" height="15.22" fill="#bdc9d9"/>
<rect x="928.58" y="520.63" width="15.28" height="15.22" fill="#9baec5"/>
<rect x="943.85" y="520.63" width="15.28" height="15.22" fill="#869db9"/>
<rect x="959.12" y="520.63" width="15.28" height="15.22" fill="#9baec5"/>
<rect x="974.4" y="520.63" width="15.28" height="15.22" fill="#90a5bf"/>
<rect x="989.68" y="520.63" width="15.28" height="15.22" fill="#869db9"/>
<rect x="1004.95" y="520.63" width="15.28" height="15.22" fill="#a6b7cc"/>
<rect x="1020.23" y="520.63" width="15.28" height="15.22" fill="#b1c0d2"/>
<rect x="1035.5" y="520.63" width="15.28" height="15.22" fill="#c8d3e0"/>
<rect x="1050.78" y="520.63" width="15.28" height="15.22" fill="#c8d3e0"/>
<rect x="1066.05" y="520.63" width="15.28" height="15.22" fill="#b1c0d2"/>
<rect x="1081.33" y="520.63" width="15.28" height="15.22" fill="#c8d3e0"/>
<rect x="1096.6" y="520.63" width="15.28" height="15.22" fill="#7c96b4"/>
<rect x="1111.88" y="520.63" width="15.28" height="15.22" fill="#a6b7cc"/>
<rect x="1127.15" y="520.63" width="15.28" height="15.22" fill="#bdc9d9"/>
<rect x="1142.42" y="520.63" width="15.28" height="15.22" fill="#b1c0d2"/>
<rect x="791.1" y="535.85" width="15.28" height="15.22" fill="#7c96b4"/>
<rect x="806.38" y="535.85" width="15.28" height="15.22" fill="#6182a4"/>
<rect x="821.65" y="535.85" width="15.28" height="15.22" fill="#9baec5"/>
<rect x="836.93" y="535.85" width="15.28" height="15.22" fill="#a6b7cc"/>
<rect x="852.2" y="535.85" width="15.28" height="15.22" fill="#b1c0d2"/>
<rect x="867.48" y="535.85" width="15.28" height="15.22" fill="#b1c0d2"/>
<rect x="882.75" y="535.85" width="15.28" height="15.22" fill="#9baec5"/>
<rect x="898.02" y="535.85" width="15.28" height="15.22" fill="#bdc9d9"/>
<rect x="913.3" y="535.85" width="15.28" height="15.22" fill="#b1c0d2"/>
<rect x="928.58" y="535.85" width="15.28" height="15.22" fill="#869db9"/>
<rect x="943.85" y="535.85" width="15.28" height="15.22" fill="#738faf"/>
<rect x="959.12" y="535.85" width="15.28" height="15.22" fill="#9baec5"/>
<rect x="974.4" y="535.85" width="15.28" height="15.22" fill="#7c96b4"/>
<rect x="989.68" y="535.85" width="15.28" height="15.22" fill="#869db9"/>
<rect x="1004.95" y="535.85" width="15.28" height="15.22" fill="#90a5bf"/>
<rect x="1020.23" y="535.85" width="15.28" height="15.22" fill="#b1c0d2"/>
<rect x="1035.5" y="535.85" width="15.28" height="15.22" fill="#b1c0d2"/>
<rect x="1050.78" y="535.85" width="15.28" height="15.22" fill="#a6b7cc"/>
<rect x="1066.05" y="535.85" width="15.28" height="15.22" fill="#869db9"/>
<rect x="1081.33" y="535.85" width="15.28" height="15.22" fill="#a6b7cc"/>
<rect x="1096.6" y="535.85" width="15.28" height="15.22" fill="#a6b7cc"/>
<rect x="1111.88" y="535.85" width="15.28" height="15.22" fill="#90a5bf"/>
<rect x="1127.15" y="535.85" width="15.28" height="15.22" fill="#bdc9d9"/>
<rect x="1142.42" y="535.85" width="15.28" height="15.22" fill="#a6b7cc"/>
<rect x="791.1" y="551.06" width="15.28" height="15.22" fill="#90a5bf"/>
<rect x="806.38" y="551.06" width="15.28" height="15.22" fill="#6a88a9"/>
<rect x="821.65" y="551.06" width="15.28" height="15.22" fill="#7c96b4"/>
<rect x="836.93" y="551.06" width="15.28" height="15.22" fill="#7c96b4"/>
<rect x="852.2" y="551.06" width="15.28" height="15.22" fill="#7c96b4"/>
<rect x="867.48" y="551.06" width="15.28" height="15.22" fill="#b1c0d2"/>
<rect x="882.75" y="551.06" width="15.28" height="15.22" fill="#7c96b4"/>
<rect x="898.02" y="551.06" width="15.28" height="15.22" fill="#a6b7cc"/>
<rect x="913.3" y="551.06" width="15.28" height="15.22" fill="#869db9"/>
<rect x="928.58" y="551.06" width="15.28" height="15.22" fill="#7c96b4"/>
<rect x="943.85" y="551.06" width="15.28" height="15.22" fill="#7c96b4"/>
<rect x="959.12" y="551.06" width="15.28" height="15.22" fill="#869db9"/>
<rect x="974.4" y="551.06" width="15.28" height="15.22" fill="#869db9"/>
<rect x="989.68" y="551.06" width="15.28" height="15.22" fill="#a6b7cc"/>
<rect x="1004.95" y="551.06" width="15.28" height="15.22" fill="#869db9"/>
<rect x="1020.23" y="551.06" width="15.28" height="15.22" fill="#7c96b4"/>
<rect x="1035.5" y="551.06" width="15.28" height="15.22" fill="#9baec5"/>
<rect x="1050.78" y="551.06" width="15.28" height="15.22" fill="#a6b7cc"/>
<rect x="1066.05" y="551.06" width="15.28" height="15.22" fill="#b1c0d2"/>
<rect x="1081.33" y="551.06" width="15.28" height="15.22" fill="#c8d3e0"/>
<rect x="1096.6" y="551.06" width="15.28" height="15.22" fill="#9baec5"/>
<rect x="1111.88" y="551.06" width="15.28" height="15.22" fill="#7c96b4"/>
<rect x="1127.15" y="551.06" width="15.28" height="15.22" fill="#bdc9d9"/>
<rect x="1142.42" y="551.06" width="15.28" height="15.22" fill="#738faf"/>
<rect x="791.1" y="566.28" width="15.28" height="15.22" fill="#7c96b4"/>
<rect x="806.38" y="566.28" width="15.28" height="15.22" fill="#6a88a9"/>
<rect x="821.65" y="566.28" width="15.28" height="15.22" fill="#738faf"/>
<rect x="836.93" y="566.28" width="15.28" height="15.22" fill="#7c96b4"/>
<rect x="852.2" y="566.28" width="15.28" height="15.22" fill="#869db9"/>
<rect x="867.48" y="566.28" width="15.28" height="15.22" fill="#90a5bf"/>
<rect x="882.75" y="566.28" width="15.28" height="15.22" fill="#6a88a9"/>
<rect x="898.02" y="566.28" width="15.28" height="15.22" fill="#a6b7cc"/>
<rect x="913.3" y="566.28" width="15.28" height="15.22" fill="#a6b7cc"/>
<rect x="928.58" y="566.28" width="15.28" height="15.22" fill="#869db9"/>
<rect x="943.85" y="566.28" width="15.28" height="15.22" fill="#869db9"/>
<rect x="959.12" y="566.28" width="15.28" height="15.22" fill="#7c96b4"/>
<rect x="974.4" y="566.28" width="15.28" height="15.22" fill="#7c96b4"/>
<rect x="989.68" y="566.28" width="15.28" height="15.22" fill="#869db9"/>
<rect x="1004.95" y="566.28" width="15.28" height="15.22" fill="#869db9"/>
<rect x="1020.23" y="566.28" width="15.28" height="15.22" fill="#b1c0d2"/>
<rect x="1035.5" y="566.28" width="15.28" height="15.22" fill="#6a88a9"/>
<rect x="1050.78" y="566.28" width="15.28" height="15.22" fill="#d4dde6"/>
<rect x="1066.05" y="566.28" width="15.28" height="15.22" fill="#b1c0d2"/>
<rect x="1081.33" y="566.28" width="15.28" height="15.22" fill="#c8d3e0"/>
<rect x="1096.6" y="566.28" width="15.28" height="15.22" fill="#869db9"/>
<rect x="1111.88" y="566.28" width="15.28" height="15.22" fill="#90a5bf"/>
<rect x="1127.15" y="566.28" width="15.28" height="15.22" fill="#b1c0d2"/>
<rect x="1142.42" y="566.28" width="15.28" height="15.22" fill="#869db9"/>
</g>
<text x="784.8" y="425.7" font-size="10.5" fill="#1a1a1a" text-anchor="end" stroke="#1a1a1a" stroke-width="0.12">CIA</text>
<text x="784.8" y="440.81" font-size="10.5" fill="#1a1a1a" text-anchor="end" stroke="#1a1a1a" stroke-width="0.12">pH</text>
<text x="784.8" y="455.92" font-size="10.5" fill="#1a1a1a" text-anchor="end" stroke="#1a1a1a" stroke-width="0.12">Moisture</text>
<text x="784.8" y="471.03" font-size="10.5" fill="#1a1a1a" text-anchor="end" stroke="#1a1a1a" stroke-width="0.12">NDVI</text>
<text x="784.8" y="486.14" font-size="10.5" fill="#1a1a1a" text-anchor="end" stroke="#1a1a1a" stroke-width="0.12">N deposition</text>
<text x="784.8" y="501.25" font-size="10.5" fill="#1a1a1a" text-anchor="end" stroke="#1a1a1a" stroke-width="0.12">AI</text>
<text x="784.8" y="516.36" font-size="10.5" fill="#1a1a1a" text-anchor="end" stroke="#1a1a1a" stroke-width="0.12">MAT</text>
<text x="784.8" y="531.47" font-size="10.5" fill="#1a1a1a" text-anchor="end" stroke="#1a1a1a" stroke-width="0.12">MAP</text>
<text x="784.8" y="546.58" font-size="10.5" fill="#1a1a1a" text-anchor="end" stroke="#1a1a1a" stroke-width="0.12">Altitude</text>
<text x="784.8" y="561.69" font-size="10.5" fill="#1a1a1a" text-anchor="end" stroke="#1a1a1a" stroke-width="0.12">Longitude</text>
<text x="784.8" y="576.8" font-size="10.5" fill="#1a1a1a" text-anchor="end" stroke="#1a1a1a" stroke-width="0.12">Latitude</text>
<text x="795.54" y="591.8" font-size="10.4" fill="#1a1a1a" text-anchor="middle" stroke="#1a1a1a" stroke-width="0.12">SOC</text>
<text x="815.76" y="591.8" font-size="10.4" fill="#1a1a1a" text-anchor="middle" stroke="#1a1a1a" stroke-width="0.12">P</text>
<text x="829.37" y="591.8" font-size="10.4" fill="#1a1a1a" text-anchor="middle" stroke="#1a1a1a" stroke-width="0.12">K</text>
<text x="844.69" y="591.8" font-size="10.4" fill="#1a1a1a" text-anchor="middle" stroke="#1a1a1a" stroke-width="0.12">Ca</text>
<text x="860.01" y="591.8" font-size="10.4" fill="#1a1a1a" text-anchor="middle" stroke="#1a1a1a" stroke-width="0.12">Mg</text>
<text x="875.33" y="591.8" font-size="10.4" fill="#1a1a1a" text-anchor="middle" stroke="#1a1a1a" stroke-width="0.12">Na</text>
<text x="890.65" y="591.8" font-size="10.4" fill="#1a1a1a" text-anchor="middle" stroke="#1a1a1a" stroke-width="0.12">Fe</text>
<text x="905.97" y="591.8" font-size="10.4" fill="#1a1a1a" text-anchor="middle" stroke="#1a1a1a" stroke-width="0.12">Mn</text>
<text x="921.29" y="591.8" font-size="10.4" fill="#1a1a1a" text-anchor="middle" stroke="#1a1a1a" stroke-width="0.12">Mo</text>
<text x="936.6" y="591.8" font-size="10.4" fill="#1a1a1a" text-anchor="middle" stroke="#1a1a1a" stroke-width="0.12">Ni</text>
<text x="951.92" y="591.8" font-size="10.4" fill="#1a1a1a" text-anchor="middle" stroke="#1a1a1a" stroke-width="0.12">Cu</text>
<text x="967.24" y="591.8" font-size="10.4" fill="#1a1a1a" text-anchor="middle" stroke="#1a1a1a" stroke-width="0.12">Zn</text>
<text x="982.56" y="591.8" font-size="10.4" fill="#1a1a1a" text-anchor="middle" stroke="#1a1a1a" stroke-width="0.12">Al</text>
<text x="997.88" y="591.8" font-size="10.4" fill="#1a1a1a" text-anchor="middle" stroke="#1a1a1a" stroke-width="0.12">Ba</text>
<text x="1013.2" y="591.8" font-size="10.4" fill="#1a1a1a" text-anchor="middle" stroke="#1a1a1a" stroke-width="0.12">Be</text>
<text x="1028.51" y="591.8" font-size="10.4" fill="#1a1a1a" text-anchor="middle" stroke="#1a1a1a" stroke-width="0.12">Cd</text>
<text x="1043.83" y="591.8" font-size="10.4" fill="#1a1a1a" text-anchor="middle" stroke="#1a1a1a" stroke-width="0.12">Co</text>
<text x="1059.15" y="591.8" font-size="10.4" fill="#1a1a1a" text-anchor="middle" stroke="#1a1a1a" stroke-width="0.12">Cr</text>
<text x="1074.47" y="591.8" font-size="10.4" fill="#1a1a1a" text-anchor="middle" stroke="#1a1a1a" stroke-width="0.12">Pb</text>
<text x="1089.79" y="591.8" font-size="10.4" fill="#1a1a1a" text-anchor="middle" stroke="#1a1a1a" stroke-width="0.12">Sb</text>
<text x="1105.11" y="591.8" font-size="10.4" fill="#1a1a1a" text-anchor="middle" stroke="#1a1a1a" stroke-width="0.12">Sr</text>
<text x="1120.43" y="591.8" font-size="10.4" fill="#1a1a1a" text-anchor="middle" stroke="#1a1a1a" stroke-width="0.12">Ti</text>
<text x="1135.74" y="591.8" font-size="10.4" fill="#1a1a1a" text-anchor="middle" stroke="#1a1a1a" stroke-width="0.12">Tl</text>
<text x="1151.06" y="591.8" font-size="10.4" fill="#1a1a1a" text-anchor="middle" stroke="#1a1a1a" stroke-width="0.12">V</text>
<rect x="1159.6" y="308.5" width="16" height="273" fill="#fff" stroke="#7a7a7a" stroke-width="1"/>
<text transform="translate(1173.2,445) rotate(-90)" font-size="12.5" fill="#1a1a1a" stroke="#1a1a1a" stroke-width="0.12" text-anchor="middle">A horizon</text>
<rect x="793" y="681.53" width="12.3" height="21.97" fill="#789db2"/>
<rect x="808.28" y="623.66" width="12.3" height="79.84" fill="#789db2"/>
<rect x="823.56" y="625.57" width="12.3" height="77.93" fill="#789db2"/>
<rect x="838.84" y="614.03" width="12.3" height="89.47" fill="#789db2"/>
<rect x="854.12" y="611.52" width="12.3" height="91.98" fill="#789db2"/>
<rect x="869.4" y="607.21" width="12.3" height="96.29" fill="#789db2"/>
<rect x="884.68" y="625.87" width="12.3" height="77.63" fill="#789db2"/>
<rect x="899.96" y="648.74" width="12.3" height="54.76" fill="#789db2"/>
<rect x="915.24" y="621.25" width="12.3" height="82.25" fill="#789db2"/>
<rect x="930.52" y="616.84" width="12.3" height="86.66" fill="#789db2"/>
<rect x="945.8" y="636.2" width="12.3" height="67.3" fill="#789db2"/>
<rect x="961.08" y="632.79" width="12.3" height="70.71" fill="#789db2"/>
<rect x="976.36" y="626.77" width="12.3" height="76.73" fill="#789db2"/>
<rect x="991.64" y="617.24" width="12.3" height="86.26" fill="#789db2"/>
<rect x="1006.92" y="620.55" width="12.3" height="82.95" fill="#789db2"/>
<rect x="1022.2" y="663.08" width="12.3" height="40.42" fill="#789db2"/>
<rect x="1037.48" y="616.84" width="12.3" height="86.66" fill="#789db2"/>
<rect x="1052.76" y="608.72" width="12.3" height="94.78" fill="#789db2"/>
<rect x="1068.04" y="637.6" width="12.3" height="65.9" fill="#789db2"/>
<rect x="1083.32" y="615.04" width="12.3" height="88.46" fill="#789db2"/>
<rect x="1098.6" y="609.02" width="12.3" height="94.48" fill="#789db2"/>
<rect x="1113.88" y="620.05" width="12.3" height="83.45" fill="#789db2"/>
<rect x="1129.16" y="624.97" width="12.3" height="78.53" fill="#789db2"/>
<rect x="1144.44" y="613.73" width="12.3" height="89.77" fill="#789db2"/>
<line x1="790" y1="601" x2="790" y2="704.2" stroke="#111" stroke-width="1.25"/>
<line x1="789.3" y1="703.5" x2="1159.5" y2="703.5" stroke="#111" stroke-width="1.3"/>
<line x1="787.6" y1="678.42" x2="790" y2="678.42" stroke="#333" stroke-width="0.8"/>
<text x="784.4" y="681.92" font-size="10" fill="#222" text-anchor="end" stroke="#222" stroke-width="0.12">25</text>
<line x1="787.6" y1="653.35" x2="790" y2="653.35" stroke="#333" stroke-width="0.8"/>
<text x="784.4" y="656.85" font-size="10" fill="#222" text-anchor="end" stroke="#222" stroke-width="0.12">50</text>
<line x1="787.6" y1="628.27" x2="790" y2="628.27" stroke="#333" stroke-width="0.8"/>
<text x="784.4" y="631.77" font-size="10" fill="#222" text-anchor="end" stroke="#222" stroke-width="0.12">75</text>
<line x1="787.6" y1="603.2" x2="790" y2="603.2" stroke="#333" stroke-width="0.8"/>
<text x="784.4" y="606.7" font-size="10" fill="#222" text-anchor="end" stroke="#222" stroke-width="0.12">100</text>
<text transform="translate(758.4,652.75) rotate(-90)" font-size="11.8" fill="#1a1a1a" stroke="#1a1a1a" stroke-width="0.12" text-anchor="middle">Explained variation (%)</text>
<g stroke="#fff" stroke-opacity="0.22" stroke-width="0.7">
<rect x="792.5" y="705.1" width="15.28" height="15.23" fill="#a6b7cc"/>
<rect x="807.78" y="705.1" width="15.28" height="15.23" fill="#7c96b4"/>
<rect x="823.06" y="705.1" width="15.28" height="15.23" fill="#587b9f"/>
<rect x="838.34" y="705.1" width="15.28" height="15.23" fill="#90a5bf"/>
<rect x="853.62" y="705.1" width="15.28" height="15.23" fill="#b1c0d2"/>
<rect x="868.9" y="705.1" width="15.28" height="15.23" fill="#37628d"/>
<rect x="884.18" y="705.1" width="15.28" height="15.23" fill="#869db9"/>
<rect x="899.46" y="705.1" width="15.28" height="15.23" fill="#c8d3e0"/>
<rect x="914.74" y="705.1" width="15.28" height="15.23" fill="#90a5bf"/>
<rect x="930.02" y="705.1" width="15.28" height="15.23" fill="#6182a4"/>
<rect x="945.3" y="705.1" width="15.28" height="15.23" fill="#a6b7cc"/>
<rect x="960.58" y="705.1" width="15.28" height="15.23" fill="#bdc9d9"/>
<rect x="975.86" y="705.1" width="15.28" height="15.23" fill="#869db9"/>
<rect x="991.14" y="705.1" width="15.28" height="15.23" fill="#9baec5"/>
<rect x="1006.42" y="705.1" width="15.28" height="15.23" fill="#90a5bf"/>
<rect x="1021.7" y="705.1" width="15.28" height="15.23" fill="#e0e6ed"/>
<rect x="1036.98" y="705.1" width="15.28" height="15.23" fill="#9baec5"/>
<rect x="1052.26" y="705.1" width="15.28" height="15.23" fill="#c8d3e0"/>
<rect x="1067.54" y="705.1" width="15.28" height="15.23" fill="#d4dde6"/>
<rect x="1082.82" y="705.1" width="15.28" height="15.23" fill="#e0e6ed"/>
<rect x="1098.1" y="705.1" width="15.28" height="15.23" fill="#869db9"/>
<rect x="1113.38" y="705.1" width="15.28" height="15.23" fill="#50759b"/>
<rect x="1128.66" y="705.1" width="15.28" height="15.23" fill="#c8d3e0"/>
<rect x="1143.94" y="705.1" width="15.28" height="15.23" fill="#6a88a9"/>
<rect x="792.5" y="720.33" width="15.28" height="15.23" fill="#c8d3e0"/>
<rect x="807.78" y="720.33" width="15.28" height="15.23" fill="#7c96b4"/>
<rect x="823.06" y="720.33" width="15.28" height="15.23" fill="#b1c0d2"/>
<rect x="838.34" y="720.33" width="15.28" height="15.23" fill="#9baec5"/>
<rect x="853.62" y="720.33" width="15.28" height="15.23" fill="#a6b7cc"/>
<rect x="868.9" y="720.33" width="15.28" height="15.23" fill="#c8d3e0"/>
<rect x="884.18" y="720.33" width="15.28" height="15.23" fill="#738faf"/>
<rect x="899.46" y="720.33" width="15.28" height="15.23" fill="#9baec5"/>
<rect x="914.74" y="720.33" width="15.28" height="15.23" fill="#bdc9d9"/>
<rect x="930.02" y="720.33" width="15.28" height="15.23" fill="#738faf"/>
<rect x="945.3" y="720.33" width="15.28" height="15.23" fill="#7c96b4"/>
<rect x="960.58" y="720.33" width="15.28" height="15.23" fill="#a6b7cc"/>
<rect x="975.86" y="720.33" width="15.28" height="15.23" fill="#9baec5"/>
<rect x="991.14" y="720.33" width="15.28" height="15.23" fill="#d4dde6"/>
<rect x="1006.42" y="720.33" width="15.28" height="15.23" fill="#b1c0d2"/>
<rect x="1021.7" y="720.33" width="15.28" height="15.23" fill="#c8d3e0"/>
<rect x="1036.98" y="720.33" width="15.28" height="15.23" fill="#869db9"/>
<rect x="1052.26" y="720.33" width="15.28" height="15.23" fill="#bdc9d9"/>
<rect x="1067.54" y="720.33" width="15.28" height="15.23" fill="#e0e6ed"/>
<rect x="1082.82" y="720.33" width="15.28" height="15.23" fill="#ecf0f4"/>
<rect x="1098.1" y="720.33" width="15.28" height="15.23" fill="#d4dde6"/>
<rect x="1113.38" y="720.33" width="15.28" height="15.23" fill="#869db9"/>
<rect x="1128.66" y="720.33" width="15.28" height="15.23" fill="#e0e6ed"/>
<rect x="1143.94" y="720.33" width="15.28" height="15.23" fill="#9baec5"/>
<rect x="792.5" y="735.55" width="15.28" height="15.23" fill="#a6b7cc"/>
<rect x="807.78" y="735.55" width="15.28" height="15.23" fill="#738faf"/>
<rect x="823.06" y="735.55" width="15.28" height="15.23" fill="#90a5bf"/>
<rect x="838.34" y="735.55" width="15.28" height="15.23" fill="#e0e6ed"/>
<rect x="853.62" y="735.55" width="15.28" height="15.23" fill="#9baec5"/>
<rect x="868.9" y="735.55" width="15.28" height="15.23" fill="#a6b7cc"/>
<rect x="884.18" y="735.55" width="15.28" height="15.23" fill="#7c96b4"/>
<rect x="899.46" y="735.55" width="15.28" height="15.23" fill="#e0e6ed"/>
<rect x="914.74" y="735.55" width="15.28" height="15.23" fill="#9baec5"/>
<rect x="930.02" y="735.55" width="15.28" height="15.23" fill="#869db9"/>
<rect x="945.3" y="735.55" width="15.28" height="15.23" fill="#bdc9d9"/>
<rect x="960.58" y="735.55" width="15.28" height="15.23" fill="#c8d3e0"/>
<rect x="975.86" y="735.55" width="15.28" height="15.23" fill="#9baec5"/>
<rect x="991.14" y="735.55" width="15.28" height="15.23" fill="#b1c0d2"/>
<rect x="1006.42" y="735.55" width="15.28" height="15.23" fill="#a6b7cc"/>
<rect x="1021.7" y="735.55" width="15.28" height="15.23" fill="#d4dde6"/>
<rect x="1036.98" y="735.55" width="15.28" height="15.23" fill="#9baec5"/>
<rect x="1052.26" y="735.55" width="15.28" height="15.23" fill="#e0e6ed"/>
<rect x="1067.54" y="735.55" width="15.28" height="15.23" fill="#c8d3e0"/>
<rect x="1082.82" y="735.55" width="15.28" height="15.23" fill="#e0e6ed"/>
<rect x="1098.1" y="735.55" width="15.28" height="15.23" fill="#b1c0d2"/>
<rect x="1113.38" y="735.55" width="15.28" height="15.23" fill="#738faf"/>
<rect x="1128.66" y="735.55" width="15.28" height="15.23" fill="#d4dde6"/>
<rect x="1143.94" y="735.55" width="15.28" height="15.23" fill="#869db9"/>
<rect x="792.5" y="750.78" width="15.28" height="15.23" fill="#c8d3e0"/>
<rect x="807.78" y="750.78" width="15.28" height="15.23" fill="#9baec5"/>
<rect x="823.06" y="750.78" width="15.28" height="15.23" fill="#b1c0d2"/>
<rect x="838.34" y="750.78" width="15.28" height="15.23" fill="#b1c0d2"/>
<rect x="853.62" y="750.78" width="15.28" height="15.23" fill="#a6b7cc"/>
<rect x="868.9" y="750.78" width="15.28" height="15.23" fill="#b1c0d2"/>
<rect x="884.18" y="750.78" width="15.28" height="15.23" fill="#9baec5"/>
<rect x="899.46" y="750.78" width="15.28" height="15.23" fill="#d4dde6"/>
<rect x="914.74" y="750.78" width="15.28" height="15.23" fill="#c8d3e0"/>
<rect x="930.02" y="750.78" width="15.28" height="15.23" fill="#b1c0d2"/>
<rect x="945.3" y="750.78" width="15.28" height="15.23" fill="#c8d3e0"/>
<rect x="960.58" y="750.78" width="15.28" height="15.23" fill="#b1c0d2"/>
<rect x="975.86" y="750.78" width="15.28" height="15.23" fill="#a6b7cc"/>
<rect x="991.14" y="750.78" width="15.28" height="15.23" fill="#b1c0d2"/>
<rect x="1006.42" y="750.78" width="15.28" height="15.23" fill="#bdc9d9"/>
<rect x="1021.7" y="750.78" width="15.28" height="15.23" fill="#ecf0f4"/>
<rect x="1036.98" y="750.78" width="15.28" height="15.23" fill="#b1c0d2"/>
<rect x="1052.26" y="750.78" width="15.28" height="15.23" fill="#e0e6ed"/>
<rect x="1067.54" y="750.78" width="15.28" height="15.23" fill="#d4dde6"/>
<rect x="1082.82" y="750.78" width="15.28" height="15.23" fill="#e0e6ed"/>
<rect x="1098.1" y="750.78" width="15.28" height="15.23" fill="#b1c0d2"/>
<rect x="1113.38" y="750.78" width="15.28" height="15.23" fill="#a6b7cc"/>
<rect x="1128.66" y="750.78" width="15.28" height="15.23" fill="#c8d3e0"/>
<rect x="1143.94" y="750.78" width="15.28" height="15.23" fill="#9baec5"/>
<rect x="792.5" y="766.01" width="15.28" height="15.23" fill="#d4dde6"/>
<rect x="807.78" y="766.01" width="15.28" height="15.23" fill="#7c96b4"/>
<rect x="823.06" y="766.01" width="15.28" height="15.23" fill="#90a5bf"/>
<rect x="838.34" y="766.01" width="15.28" height="15.23" fill="#90a5bf"/>
<rect x="853.62" y="766.01" width="15.28" height="15.23" fill="#7c96b4"/>
<rect x="868.9" y="766.01" width="15.28" height="15.23" fill="#a6b7cc"/>
<rect x="884.18" y="766.01" width="15.28" height="15.23" fill="#7c96b4"/>
<rect x="899.46" y="766.01" width="15.28" height="15.23" fill="#b1c0d2"/>
<rect x="914.74" y="766.01" width="15.28" height="15.23" fill="#b1c0d2"/>
<rect x="930.02" y="766.01" width="15.28" height="15.23" fill="#9baec5"/>
<rect x="945.3" y="766.01" width="15.28" height="15.23" fill="#b1c0d2"/>
<rect x="960.58" y="766.01" width="15.28" height="15.23" fill="#b1c0d2"/>
<rect x="975.86" y="766.01" width="15.28" height="15.23" fill="#90a5bf"/>
<rect x="991.14" y="766.01" width="15.28" height="15.23" fill="#9baec5"/>
<rect x="1006.42" y="766.01" width="15.28" height="15.23" fill="#b1c0d2"/>
<rect x="1021.7" y="766.01" width="15.28" height="15.23" fill="#d4dde6"/>
<rect x="1036.98" y="766.01" width="15.28" height="15.23" fill="#869db9"/>
<rect x="1052.26" y="766.01" width="15.28" height="15.23" fill="#9baec5"/>
<rect x="1067.54" y="766.01" width="15.28" height="15.23" fill="#b1c0d2"/>
<rect x="1082.82" y="766.01" width="15.28" height="15.23" fill="#e0e6ed"/>
<rect x="1098.1" y="766.01" width="15.28" height="15.23" fill="#90a5bf"/>
<rect x="1113.38" y="766.01" width="15.28" height="15.23" fill="#869db9"/>
<rect x="1128.66" y="766.01" width="15.28" height="15.23" fill="#a6b7cc"/>
<rect x="1143.94" y="766.01" width="15.28" height="15.23" fill="#738faf"/>
<rect x="792.5" y="781.24" width="15.28" height="15.23" fill="#d4dde6"/>
<rect x="807.78" y="781.24" width="15.28" height="15.23" fill="#90a5bf"/>
<rect x="823.06" y="781.24" width="15.28" height="15.23" fill="#9baec5"/>
<rect x="838.34" y="781.24" width="15.28" height="15.23" fill="#d4dde6"/>
<rect x="853.62" y="781.24" width="15.28" height="15.23" fill="#b1c0d2"/>
<rect x="868.9" y="781.24" width="15.28" height="15.23" fill="#a6b7cc"/>
<rect x="884.18" y="781.24" width="15.28" height="15.23" fill="#9baec5"/>
<rect x="899.46" y="781.24" width="15.28" height="15.23" fill="#c8d3e0"/>
<rect x="914.74" y="781.24" width="15.28" height="15.23" fill="#bdc9d9"/>
<rect x="930.02" y="781.24" width="15.28" height="15.23" fill="#b1c0d2"/>
<rect x="945.3" y="781.24" width="15.28" height="15.23" fill="#a6b7cc"/>
<rect x="960.58" y="781.24" width="15.28" height="15.23" fill="#b1c0d2"/>
<rect x="975.86" y="781.24" width="15.28" height="15.23" fill="#90a5bf"/>
<rect x="991.14" y="781.24" width="15.28" height="15.23" fill="#a6b7cc"/>
<rect x="1006.42" y="781.24" width="15.28" height="15.23" fill="#b1c0d2"/>
<rect x="1021.7" y="781.24" width="15.28" height="15.23" fill="#e0e6ed"/>
<rect x="1036.98" y="781.24" width="15.28" height="15.23" fill="#a6b7cc"/>
<rect x="1052.26" y="781.24" width="15.28" height="15.23" fill="#d4dde6"/>
<rect x="1067.54" y="781.24" width="15.28" height="15.23" fill="#c8d3e0"/>
<rect x="1082.82" y="781.24" width="15.28" height="15.23" fill="#e0e6ed"/>
<rect x="1098.1" y="781.24" width="15.28" height="15.23" fill="#a6b7cc"/>
<rect x="1113.38" y="781.24" width="15.28" height="15.23" fill="#9baec5"/>
<rect x="1128.66" y="781.24" width="15.28" height="15.23" fill="#b1c0d2"/>
<rect x="1143.94" y="781.24" width="15.28" height="15.23" fill="#a6b7cc"/>
<rect x="792.5" y="796.46" width="15.28" height="15.23" fill="#c8d3e0"/>
<rect x="807.78" y="796.46" width="15.28" height="15.23" fill="#90a5bf"/>
<rect x="823.06" y="796.46" width="15.28" height="15.23" fill="#9baec5"/>
<rect x="838.34" y="796.46" width="15.28" height="15.23" fill="#bdc9d9"/>
<rect x="853.62" y="796.46" width="15.28" height="15.23" fill="#b1c0d2"/>
<rect x="868.9" y="796.46" width="15.28" height="15.23" fill="#a6b7cc"/>
<rect x="884.18" y="796.46" width="15.28" height="15.23" fill="#a6b7cc"/>
<rect x="899.46" y="796.46" width="15.28" height="15.23" fill="#c8d3e0"/>
<rect x="914.74" y="796.46" width="15.28" height="15.23" fill="#b1c0d2"/>
<rect x="930.02" y="796.46" width="15.28" height="15.23" fill="#9baec5"/>
<rect x="945.3" y="796.46" width="15.28" height="15.23" fill="#9baec5"/>
<rect x="960.58" y="796.46" width="15.28" height="15.23" fill="#d4dde6"/>
<rect x="975.86" y="796.46" width="15.28" height="15.23" fill="#9baec5"/>
<rect x="991.14" y="796.46" width="15.28" height="15.23" fill="#bdc9d9"/>
<rect x="1006.42" y="796.46" width="15.28" height="15.23" fill="#a6b7cc"/>
<rect x="1021.7" y="796.46" width="15.28" height="15.23" fill="#e0e6ed"/>
<rect x="1036.98" y="796.46" width="15.28" height="15.23" fill="#90a5bf"/>
<rect x="1052.26" y="796.46" width="15.28" height="15.23" fill="#e0e6ed"/>
<rect x="1067.54" y="796.46" width="15.28" height="15.23" fill="#c8d3e0"/>
<rect x="1082.82" y="796.46" width="15.28" height="15.23" fill="#bdc9d9"/>
<rect x="1098.1" y="796.46" width="15.28" height="15.23" fill="#c8d3e0"/>
<rect x="1113.38" y="796.46" width="15.28" height="15.23" fill="#869db9"/>
<rect x="1128.66" y="796.46" width="15.28" height="15.23" fill="#bdc9d9"/>
<rect x="1143.94" y="796.46" width="15.28" height="15.23" fill="#a6b7cc"/>
<rect x="792.5" y="811.69" width="15.28" height="15.23" fill="#bdc9d9"/>
<rect x="807.78" y="811.69" width="15.28" height="15.23" fill="#90a5bf"/>
<rect x="823.06" y="811.69" width="15.28" height="15.23" fill="#9baec5"/>
<rect x="838.34" y="811.69" width="15.28" height="15.23" fill="#c8d3e0"/>
<rect x="853.62" y="811.69" width="15.28" height="15.23" fill="#bdc9d9"/>
<rect x="868.9" y="811.69" width="15.28" height="15.23" fill="#b1c0d2"/>
<rect x="884.18" y="811.69" width="15.28" height="15.23" fill="#9baec5"/>
<rect x="899.46" y="811.69" width="15.28" height="15.23" fill="#e0e6ed"/>
<rect x="914.74" y="811.69" width="15.28" height="15.23" fill="#a6b7cc"/>
<rect x="930.02" y="811.69" width="15.28" height="15.23" fill="#a6b7cc"/>
<rect x="945.3" y="811.69" width="15.28" height="15.23" fill="#bdc9d9"/>
<rect x="960.58" y="811.69" width="15.28" height="15.23" fill="#bdc9d9"/>
<rect x="975.86" y="811.69" width="15.28" height="15.23" fill="#90a5bf"/>
<rect x="991.14" y="811.69" width="15.28" height="15.23" fill="#a6b7cc"/>
<rect x="1006.42" y="811.69" width="15.28" height="15.23" fill="#9baec5"/>
<rect x="1021.7" y="811.69" width="15.28" height="15.23" fill="#d4dde6"/>
<rect x="1036.98" y="811.69" width="15.28" height="15.23" fill="#b1c0d2"/>
<rect x="1052.26" y="811.69" width="15.28" height="15.23" fill="#d4dde6"/>
<rect x="1067.54" y="811.69" width="15.28" height="15.23" fill="#c8d3e0"/>
<rect x="1082.82" y="811.69" width="15.28" height="15.23" fill="#d4dde6"/>
<rect x="1098.1" y="811.69" width="15.28" height="15.23" fill="#9baec5"/>
<rect x="1113.38" y="811.69" width="15.28" height="15.23" fill="#90a5bf"/>
<rect x="1128.66" y="811.69" width="15.28" height="15.23" fill="#bdc9d9"/>
<rect x="1143.94" y="811.69" width="15.28" height="15.23" fill="#b1c0d2"/>
<rect x="792.5" y="826.92" width="15.28" height="15.23" fill="#d4dde6"/>
<rect x="807.78" y="826.92" width="15.28" height="15.23" fill="#869db9"/>
<rect x="823.06" y="826.92" width="15.28" height="15.23" fill="#90a5bf"/>
<rect x="838.34" y="826.92" width="15.28" height="15.23" fill="#bdc9d9"/>
<rect x="853.62" y="826.92" width="15.28" height="15.23" fill="#b1c0d2"/>
<rect x="868.9" y="826.92" width="15.28" height="15.23" fill="#bdc9d9"/>
<rect x="884.18" y="826.92" width="15.28" height="15.23" fill="#a6b7cc"/>
<rect x="899.46" y="826.92" width="15.28" height="15.23" fill="#bdc9d9"/>
<rect x="914.74" y="826.92" width="15.28" height="15.23" fill="#b1c0d2"/>
<rect x="930.02" y="826.92" width="15.28" height="15.23" fill="#a6b7cc"/>
<rect x="945.3" y="826.92" width="15.28" height="15.23" fill="#a6b7cc"/>
<rect x="960.58" y="826.92" width="15.28" height="15.23" fill="#c8d3e0"/>
<rect x="975.86" y="826.92" width="15.28" height="15.23" fill="#738faf"/>
<rect x="991.14" y="826.92" width="15.28" height="15.23" fill="#b1c0d2"/>
<rect x="1006.42" y="826.92" width="15.28" height="15.23" fill="#9baec5"/>
<rect x="1021.7" y="826.92" width="15.28" height="15.23" fill="#e0e6ed"/>
<rect x="1036.98" y="826.92" width="15.28" height="15.23" fill="#a6b7cc"/>
<rect x="1052.26" y="826.92" width="15.28" height="15.23" fill="#a6b7cc"/>
<rect x="1067.54" y="826.92" width="15.28" height="15.23" fill="#a6b7cc"/>
<rect x="1082.82" y="826.92" width="15.28" height="15.23" fill="#bdc9d9"/>
<rect x="1098.1" y="826.92" width="15.28" height="15.23" fill="#b1c0d2"/>
<rect x="1113.38" y="826.92" width="15.28" height="15.23" fill="#90a5bf"/>
<rect x="1128.66" y="826.92" width="15.28" height="15.23" fill="#bdc9d9"/>
<rect x="1143.94" y="826.92" width="15.28" height="15.23" fill="#a6b7cc"/>
<rect x="792.5" y="842.15" width="15.28" height="15.23" fill="#b1c0d2"/>
<rect x="807.78" y="842.15" width="15.28" height="15.23" fill="#738faf"/>
<rect x="823.06" y="842.15" width="15.28" height="15.23" fill="#90a5bf"/>
<rect x="838.34" y="842.15" width="15.28" height="15.23" fill="#9baec5"/>
<rect x="853.62" y="842.15" width="15.28" height="15.23" fill="#869db9"/>
<rect x="868.9" y="842.15" width="15.28" height="15.23" fill="#b1c0d2"/>
<rect x="884.18" y="842.15" width="15.28" height="15.23" fill="#869db9"/>
<rect x="899.46" y="842.15" width="15.28" height="15.23" fill="#bdc9d9"/>
<rect x="914.74" y="842.15" width="15.28" height="15.23" fill="#90a5bf"/>
<rect x="930.02" y="842.15" width="15.28" height="15.23" fill="#6a88a9"/>
<rect x="945.3" y="842.15" width="15.28" height="15.23" fill="#9baec5"/>
<rect x="960.58" y="842.15" width="15.28" height="15.23" fill="#a6b7cc"/>
<rect x="975.86" y="842.15" width="15.28" height="15.23" fill="#90a5bf"/>
<rect x="991.14" y="842.15" width="15.28" height="15.23" fill="#90a5bf"/>
<rect x="1006.42" y="842.15" width="15.28" height="15.23" fill="#9baec5"/>
<rect x="1021.7" y="842.15" width="15.28" height="15.23" fill="#d4dde6"/>
<rect x="1036.98" y="842.15" width="15.28" height="15.23" fill="#869db9"/>
<rect x="1052.26" y="842.15" width="15.28" height="15.23" fill="#b1c0d2"/>
<rect x="1067.54" y="842.15" width="15.28" height="15.23" fill="#d4dde6"/>
<rect x="1082.82" y="842.15" width="15.28" height="15.23" fill="#d4dde6"/>
<rect x="1098.1" y="842.15" width="15.28" height="15.23" fill="#a6b7cc"/>
<rect x="1113.38" y="842.15" width="15.28" height="15.23" fill="#7c96b4"/>
<rect x="1128.66" y="842.15" width="15.28" height="15.23" fill="#bdc9d9"/>
<rect x="1143.94" y="842.15" width="15.28" height="15.23" fill="#738faf"/>
<rect x="792.5" y="857.37" width="15.28" height="15.23" fill="#d4dde6"/>
<rect x="807.78" y="857.37" width="15.28" height="15.23" fill="#869db9"/>
<rect x="823.06" y="857.37" width="15.28" height="15.23" fill="#9baec5"/>
<rect x="838.34" y="857.37" width="15.28" height="15.23" fill="#a6b7cc"/>
<rect x="853.62" y="857.37" width="15.28" height="15.23" fill="#9baec5"/>
<rect x="868.9" y="857.37" width="15.28" height="15.23" fill="#a6b7cc"/>
<rect x="884.18" y="857.37" width="15.28" height="15.23" fill="#7c96b4"/>
<rect x="899.46" y="857.37" width="15.28" height="15.23" fill="#bdc9d9"/>
<rect x="914.74" y="857.37" width="15.28" height="15.23" fill="#a6b7cc"/>
<rect x="930.02" y="857.37" width="15.28" height="15.23" fill="#90a5bf"/>
<rect x="945.3" y="857.37" width="15.28" height="15.23" fill="#b1c0d2"/>
<rect x="960.58" y="857.37" width="15.28" height="15.23" fill="#a6b7cc"/>
<rect x="975.86" y="857.37" width="15.28" height="15.23" fill="#90a5bf"/>
<rect x="991.14" y="857.37" width="15.28" height="15.23" fill="#9baec5"/>
<rect x="1006.42" y="857.37" width="15.28" height="15.23" fill="#9baec5"/>
<rect x="1021.7" y="857.37" width="15.28" height="15.23" fill="#d4dde6"/>
<rect x="1036.98" y="857.37" width="15.28" height="15.23" fill="#7c96b4"/>
<rect x="1052.26" y="857.37" width="15.28" height="15.23" fill="#e0e6ed"/>
<rect x="1067.54" y="857.37" width="15.28" height="15.23" fill="#c8d3e0"/>
<rect x="1082.82" y="857.37" width="15.28" height="15.23" fill="#d4dde6"/>
<rect x="1098.1" y="857.37" width="15.28" height="15.23" fill="#90a5bf"/>
<rect x="1113.38" y="857.37" width="15.28" height="15.23" fill="#9baec5"/>
<rect x="1128.66" y="857.37" width="15.28" height="15.23" fill="#b1c0d2"/>
<rect x="1143.94" y="857.37" width="15.28" height="15.23" fill="#90a5bf"/>
</g>
<text x="784.8" y="718.75" font-size="10.5" fill="#1a1a1a" text-anchor="end" stroke="#1a1a1a" stroke-width="0.12">CIA</text>
<text x="784.8" y="734" font-size="10.5" fill="#1a1a1a" text-anchor="end" stroke="#1a1a1a" stroke-width="0.12">pH</text>
<text x="784.8" y="749.24" font-size="10.5" fill="#1a1a1a" text-anchor="end" stroke="#1a1a1a" stroke-width="0.12">Moisture</text>
<text x="784.8" y="764.49" font-size="10.5" fill="#1a1a1a" text-anchor="end" stroke="#1a1a1a" stroke-width="0.12">NDVI</text>
<text x="784.8" y="779.73" font-size="10.5" fill="#1a1a1a" text-anchor="end" stroke="#1a1a1a" stroke-width="0.12">N deposition</text>
<text x="784.8" y="794.98" font-size="10.5" fill="#1a1a1a" text-anchor="end" stroke="#1a1a1a" stroke-width="0.12">AI</text>
<text x="784.8" y="810.22" font-size="10.5" fill="#1a1a1a" text-anchor="end" stroke="#1a1a1a" stroke-width="0.12">MAT</text>
<text x="784.8" y="825.47" font-size="10.5" fill="#1a1a1a" text-anchor="end" stroke="#1a1a1a" stroke-width="0.12">MAP</text>
<text x="784.8" y="840.71" font-size="10.5" fill="#1a1a1a" text-anchor="end" stroke="#1a1a1a" stroke-width="0.12">Altitude</text>
<text x="784.8" y="855.96" font-size="10.5" fill="#1a1a1a" text-anchor="end" stroke="#1a1a1a" stroke-width="0.12">Longitude</text>
<text x="784.8" y="871.2" font-size="10.5" fill="#1a1a1a" text-anchor="end" stroke="#1a1a1a" stroke-width="0.12">Latitude</text>
<text x="794.14" y="884.2" font-size="10.4" fill="#1a1a1a" text-anchor="middle" stroke="#1a1a1a" stroke-width="0.12">SOC</text>
<text x="817.16" y="884.2" font-size="10.4" fill="#1a1a1a" text-anchor="middle" stroke="#1a1a1a" stroke-width="0.12">P</text>
<text x="830.79" y="884.2" font-size="10.4" fill="#1a1a1a" text-anchor="middle" stroke="#1a1a1a" stroke-width="0.12">K</text>
<text x="846.11" y="884.2" font-size="10.4" fill="#1a1a1a" text-anchor="middle" stroke="#1a1a1a" stroke-width="0.12">Ca</text>
<text x="861.43" y="884.2" font-size="10.4" fill="#1a1a1a" text-anchor="middle" stroke="#1a1a1a" stroke-width="0.12">Mg</text>
<text x="876.76" y="884.2" font-size="10.4" fill="#1a1a1a" text-anchor="middle" stroke="#1a1a1a" stroke-width="0.12">Na</text>
<text x="892.08" y="884.2" font-size="10.4" fill="#1a1a1a" text-anchor="middle" stroke="#1a1a1a" stroke-width="0.12">Fe</text>
<text x="907.4" y="884.2" font-size="10.4" fill="#1a1a1a" text-anchor="middle" stroke="#1a1a1a" stroke-width="0.12">Mn</text>
<text x="922.73" y="884.2" font-size="10.4" fill="#1a1a1a" text-anchor="middle" stroke="#1a1a1a" stroke-width="0.12">Mo</text>
<text x="938.05" y="884.2" font-size="10.4" fill="#1a1a1a" text-anchor="middle" stroke="#1a1a1a" stroke-width="0.12">Ni</text>
<text x="953.37" y="884.2" font-size="10.4" fill="#1a1a1a" text-anchor="middle" stroke="#1a1a1a" stroke-width="0.12">Cu</text>
<text x="968.7" y="884.2" font-size="10.4" fill="#1a1a1a" text-anchor="middle" stroke="#1a1a1a" stroke-width="0.12">Zn</text>
<text x="984.02" y="884.2" font-size="10.4" fill="#1a1a1a" text-anchor="middle" stroke="#1a1a1a" stroke-width="0.12">Al</text>
<text x="999.35" y="884.2" font-size="10.4" fill="#1a1a1a" text-anchor="middle" stroke="#1a1a1a" stroke-width="0.12">Ba</text>
<text x="1014.67" y="884.2" font-size="10.4" fill="#1a1a1a" text-anchor="middle" stroke="#1a1a1a" stroke-width="0.12">Be</text>
<text x="1029.99" y="884.2" font-size="10.4" fill="#1a1a1a" text-anchor="middle" stroke="#1a1a1a" stroke-width="0.12">Cd</text>
<text x="1045.32" y="884.2" font-size="10.4" fill="#1a1a1a" text-anchor="middle" stroke="#1a1a1a" stroke-width="0.12">Co</text>
<text x="1060.64" y="884.2" font-size="10.4" fill="#1a1a1a" text-anchor="middle" stroke="#1a1a1a" stroke-width="0.12">Cr</text>
<text x="1075.96" y="884.2" font-size="10.4" fill="#1a1a1a" text-anchor="middle" stroke="#1a1a1a" stroke-width="0.12">Pb</text>
<text x="1091.29" y="884.2" font-size="10.4" fill="#1a1a1a" text-anchor="middle" stroke="#1a1a1a" stroke-width="0.12">Sb</text>
<text x="1106.61" y="884.2" font-size="10.4" fill="#1a1a1a" text-anchor="middle" stroke="#1a1a1a" stroke-width="0.12">Sr</text>
<text x="1121.93" y="884.2" font-size="10.4" fill="#1a1a1a" text-anchor="middle" stroke="#1a1a1a" stroke-width="0.12">Ti</text>
<text x="1137.26" y="884.2" font-size="10.4" fill="#1a1a1a" text-anchor="middle" stroke="#1a1a1a" stroke-width="0.12">Tl</text>
<text x="1152.58" y="884.2" font-size="10.4" fill="#1a1a1a" text-anchor="middle" stroke="#1a1a1a" stroke-width="0.12">V</text>
<rect x="1159.6" y="599.5" width="16" height="273.1" fill="#fff" stroke="#7a7a7a" stroke-width="1"/>
<text transform="translate(1173.2,736.05) rotate(-90)" font-size="12.5" fill="#1a1a1a" stroke="#1a1a1a" stroke-width="0.12" text-anchor="middle">C horizon</text>
<text x="1199.8" y="345.2" font-size="11" fill="#1a1a1a" text-anchor="start" stroke="#1a1a1a" stroke-width="0.12">%IncMSE</text>
<defs><linearGradient id="hmg" x1="0" y1="0" x2="0" y2="1">
<stop offset="0" stop-color="#2f5c88"/><stop offset="1" stop-color="#e9eef4"/>
</linearGradient></defs>
<rect x="1197.3" y="360.1" width="21.8" height="222.4" fill="url(#hmg)"/>
<line x1="1197.3" y1="397.3" x2="1201.6" y2="397.3" stroke="#fff" stroke-opacity="0.5" stroke-width="0.7"/>
<line x1="1214.8" y1="397.3" x2="1219.1" y2="397.3" stroke="#fff" stroke-opacity="0.5" stroke-width="0.7"/>
<text x="1226.8" y="400.6" font-size="9.5" fill="#222" text-anchor="start" stroke="#222" stroke-width="0.12">40</text>
<line x1="1197.3" y1="448.7" x2="1201.6" y2="448.7" stroke="#fff" stroke-opacity="0.5" stroke-width="0.7"/>
<line x1="1214.8" y1="448.7" x2="1219.1" y2="448.7" stroke="#fff" stroke-opacity="0.5" stroke-width="0.7"/>
<text x="1226.8" y="452" font-size="9.5" fill="#222" text-anchor="start" stroke="#222" stroke-width="0.12">30</text>
<line x1="1197.3" y1="499.9" x2="1201.6" y2="499.9" stroke="#fff" stroke-opacity="0.5" stroke-width="0.7"/>
<line x1="1214.8" y1="499.9" x2="1219.1" y2="499.9" stroke="#fff" stroke-opacity="0.5" stroke-width="0.7"/>
<text x="1226.8" y="503.2" font-size="9.5" fill="#222" text-anchor="start" stroke="#222" stroke-width="0.12">20</text>
<line x1="1197.3" y1="551.3" x2="1201.6" y2="551.3" stroke="#fff" stroke-opacity="0.5" stroke-width="0.7"/>
<line x1="1214.8" y1="551.3" x2="1219.1" y2="551.3" stroke="#fff" stroke-opacity="0.5" stroke-width="0.7"/>
<text x="1226.8" y="554.6" font-size="9.5" fill="#222" text-anchor="start" stroke="#222" stroke-width="0.12">10</text>
</svg>
</body></html>
